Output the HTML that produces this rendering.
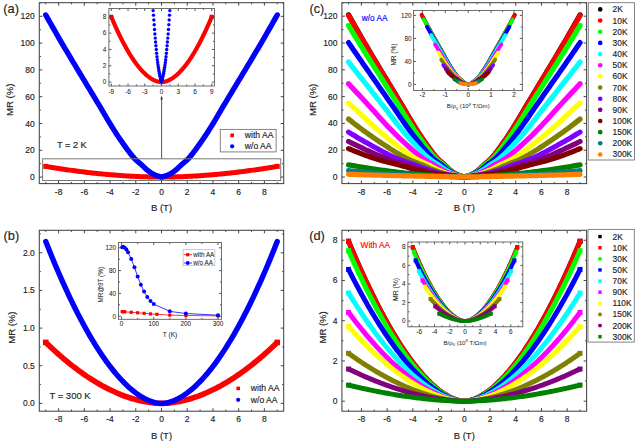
<!DOCTYPE html>
<html><head><meta charset="utf-8"><style>
html,body{margin:0;padding:0;background:#fff;}
body{width:637px;height:443px;overflow:hidden;}
svg{display:block;font-family:"Liberation Sans", sans-serif;}

</style></head><body>
<svg width="637" height="443" viewBox="0 0 637 443">
<rect width="637" height="443" fill="#fff"/>
<path d="M45.76 166.38 L47.37 166.65 L48.98 166.92 L50.58 167.19 L52.19 167.46 L53.8 167.72 L55.41 167.97 L57.01 168.23 L58.62 168.48 L60.23 168.73 L61.84 168.97 L63.44 169.21 L65.05 169.45 L66.66 169.68 L68.27 169.91 L69.87 170.14 L71.48 170.37 L73.09 170.59 L74.7 170.8 L76.3 171.02 L77.91 171.23 L79.52 171.44 L81.12 171.64 L82.73 171.84 L84.34 172.04 L85.95 172.23 L87.56 172.42 L89.16 172.61 L90.77 172.79 L92.38 172.97 L93.98 173.15 L95.59 173.32 L97.2 173.49 L98.81 173.65 L100.42 173.81 L102.02 173.97 L103.63 174.13 L105.24 174.28 L106.84 174.42 L108.45 174.57 L110.06 174.71 L111.67 174.84 L113.28 174.98 L114.88 175.11 L116.49 175.23 L118.1 175.35 L119.7 175.47 L121.31 175.59 L122.92 175.7 L124.53 175.8 L126.14 175.9 L127.74 176 L129.35 176.1 L130.96 176.19 L132.56 176.28 L134.17 176.36 L135.78 176.44 L137.39 176.51 L139 176.58 L140.6 176.65 L142.21 176.71 L143.82 176.77 L145.43 176.82 L147.03 176.87 L148.64 176.92 L150.25 176.96 L151.85 176.99 L153.46 177.02 L155.07 177.05 L156.68 177.07 L158.28 177.09 L159.89 177.1 L161.5 177.1 L163.11 177.1 L164.72 177.09 L166.32 177.07 L167.93 177.05 L169.54 177.02 L171.15 176.99 L172.75 176.96 L174.36 176.92 L175.97 176.87 L177.57 176.82 L179.18 176.77 L180.79 176.71 L182.4 176.65 L184 176.58 L185.61 176.51 L187.22 176.44 L188.83 176.36 L190.44 176.28 L192.04 176.19 L193.65 176.1 L195.26 176 L196.87 175.9 L198.47 175.8 L200.08 175.7 L201.69 175.59 L203.3 175.47 L204.9 175.35 L206.51 175.23 L208.12 175.11 L209.72 174.98 L211.33 174.84 L212.94 174.71 L214.55 174.57 L216.16 174.42 L217.76 174.28 L219.37 174.13 L220.98 173.97 L222.58 173.81 L224.19 173.65 L225.8 173.49 L227.41 173.32 L229.01 173.15 L230.62 172.97 L232.23 172.79 L233.84 172.61 L235.44 172.42 L237.05 172.23 L238.66 172.04 L240.27 171.84 L241.88 171.64 L243.48 171.44 L245.09 171.23 L246.7 171.02 L248.31 170.8 L249.91 170.59 L251.52 170.37 L253.13 170.14 L254.74 169.91 L256.34 169.68 L257.95 169.45 L259.56 169.21 L261.16 168.97 L262.77 168.73 L264.38 168.48 L265.99 168.23 L267.6 167.97 L269.2 167.72 L270.81 167.46 L272.42 167.19 L274.02 166.92 L275.63 166.65 L277.24 166.38" fill="none" stroke="#ff0000" stroke-width="5" stroke-linecap="butt" stroke-linejoin="round"/><rect x="43.26" y="163.88" width="5" height="5" fill="#ff0000"/><rect x="274.74" y="163.88" width="5" height="5" fill="#ff0000"/>
<path d="M45.76 14.96 L47.37 17.81 L48.98 20.65 L50.58 23.49 L52.19 26.32 L53.8 29.15 L55.41 31.96 L57.01 34.75 L58.62 37.54 L60.23 40.3 L61.84 43.05 L63.44 45.79 L65.05 48.52 L66.66 51.24 L68.27 53.95 L69.87 56.66 L71.48 59.35 L73.09 62.04 L74.7 64.72 L76.3 67.39 L77.91 70.07 L79.52 72.73 L81.12 75.4 L82.73 78.06 L84.34 80.72 L85.95 83.38 L87.56 86.04 L89.16 88.7 L90.77 91.36 L92.38 94.02 L93.98 96.69 L95.59 99.36 L97.2 102.04 L98.81 104.72 L100.42 107.4 L102.02 110.1 L103.63 112.81 L105.24 115.56 L106.84 118.31 L108.45 121.04 L110.06 123.73 L111.67 126.35 L113.28 128.9 L114.88 131.43 L116.49 133.92 L118.1 136.37 L119.7 138.75 L121.31 141.08 L122.92 143.34 L124.53 145.6 L126.14 147.85 L127.74 150.07 L129.35 152.22 L130.96 154.3 L132.56 156.27 L134.17 158.11 L135.78 159.81 L137.39 161.3 L139 162.66 L140.6 163.98 L142.21 165.36 L143.82 166.89 L145.43 168.47 L147.03 169.87 L148.64 171.14 L150.25 172.37 L151.85 173.43 L153.46 174.29 L155.07 175.02 L156.68 175.65 L158.28 176.19 L159.89 176.68 L161.5 177.1 L163.11 176.68 L164.72 176.19 L166.32 175.65 L167.93 175.02 L169.54 174.29 L171.15 173.43 L172.75 172.37 L174.36 171.14 L175.97 169.87 L177.57 168.47 L179.18 166.89 L180.79 165.36 L182.4 163.98 L184 162.66 L185.61 161.3 L187.22 159.81 L188.83 158.11 L190.44 156.27 L192.04 154.3 L193.65 152.22 L195.26 150.07 L196.87 147.85 L198.47 145.6 L200.08 143.34 L201.69 141.08 L203.3 138.75 L204.9 136.37 L206.51 133.92 L208.12 131.43 L209.72 128.9 L211.33 126.35 L212.94 123.73 L214.55 121.04 L216.16 118.31 L217.76 115.56 L219.37 112.81 L220.98 110.1 L222.58 107.4 L224.19 104.72 L225.8 102.04 L227.41 99.36 L229.01 96.69 L230.62 94.02 L232.23 91.36 L233.84 88.7 L235.44 86.04 L237.05 83.38 L238.66 80.72 L240.27 78.06 L241.88 75.4 L243.48 72.73 L245.09 70.07 L246.7 67.39 L248.31 64.72 L249.91 62.04 L251.52 59.35 L253.13 56.66 L254.74 53.95 L256.34 51.24 L257.95 48.52 L259.56 45.79 L261.16 43.05 L262.77 40.3 L264.38 37.54 L265.99 34.75 L267.6 31.96 L269.2 29.15 L270.81 26.32 L272.42 23.49 L274.02 20.65 L275.63 17.81 L277.24 14.96" fill="none" stroke="#0000ff" stroke-width="5.4" stroke-linecap="round" stroke-linejoin="round"/>
<rect x="42.6" y="158.8" width="238.1" height="21.7" fill="none" stroke="#777" stroke-width="1"/>
<path d="M161.6 158.8 V97" stroke="#444" stroke-width="0.9"/><path d="M161.6 95.6 L160.3 99.6 L162.9 99.6 Z" fill="#444"/>
<path d="M58.62 183.6 V180.6 M58.62 2.7 V5.7 M84.34 183.6 V180.6 M84.34 2.7 V5.7 M110.06 183.6 V180.6 M110.06 2.7 V5.7 M135.78 183.6 V180.6 M135.78 2.7 V5.7 M161.5 183.6 V180.6 M161.5 2.7 V5.7 M187.22 183.6 V180.6 M187.22 2.7 V5.7 M212.94 183.6 V180.6 M212.94 2.7 V5.7 M238.66 183.6 V180.6 M238.66 2.7 V5.7 M264.38 183.6 V180.6 M264.38 2.7 V5.7 M45.76 183.6 V182 M45.76 2.7 V4.3 M71.48 183.6 V182 M71.48 2.7 V4.3 M97.2 183.6 V182 M97.2 2.7 V4.3 M122.92 183.6 V182 M122.92 2.7 V4.3 M148.64 183.6 V182 M148.64 2.7 V4.3 M174.36 183.6 V182 M174.36 2.7 V4.3 M200.08 183.6 V182 M200.08 2.7 V4.3 M225.8 183.6 V182 M225.8 2.7 V4.3 M251.52 183.6 V182 M251.52 2.7 V4.3 M277.24 183.6 V182 M277.24 2.7 V4.3 M39.3 177.1 H42.3 M283.7 177.1 H280.7 M39.3 150.3 H42.3 M283.7 150.3 H280.7 M39.3 123.5 H42.3 M283.7 123.5 H280.7 M39.3 96.7 H42.3 M283.7 96.7 H280.7 M39.3 69.9 H42.3 M283.7 69.9 H280.7 M39.3 43.1 H42.3 M283.7 43.1 H280.7 M39.3 16.3 H42.3 M283.7 16.3 H280.7 M39.3 163.7 H40.9 M283.7 163.7 H282.1 M39.3 136.9 H40.9 M283.7 136.9 H282.1 M39.3 110.1 H40.9 M283.7 110.1 H282.1 M39.3 83.3 H40.9 M283.7 83.3 H282.1 M39.3 56.5 H40.9 M283.7 56.5 H282.1 M39.3 29.7 H40.9 M283.7 29.7 H282.1 M39.3 2.9 H40.9 M283.7 2.9 H282.1" stroke="#444" stroke-width="1" fill="none"/>
<rect x="39.3" y="2.7" width="244.4" height="180.9" fill="none" stroke="#444" stroke-width="1.05"/>
<text x="58.62" y="194.9" font-size="8.5" text-anchor="middle" fill="#222" stroke="#222" stroke-width="0.15">-8</text>
<text x="84.34" y="194.9" font-size="8.5" text-anchor="middle" fill="#222" stroke="#222" stroke-width="0.15">-6</text>
<text x="110.06" y="194.9" font-size="8.5" text-anchor="middle" fill="#222" stroke="#222" stroke-width="0.15">-4</text>
<text x="135.78" y="194.9" font-size="8.5" text-anchor="middle" fill="#222" stroke="#222" stroke-width="0.15">-2</text>
<text x="161.5" y="194.9" font-size="8.5" text-anchor="middle" fill="#222" stroke="#222" stroke-width="0.15">0</text>
<text x="187.22" y="194.9" font-size="8.5" text-anchor="middle" fill="#222" stroke="#222" stroke-width="0.15">2</text>
<text x="212.94" y="194.9" font-size="8.5" text-anchor="middle" fill="#222" stroke="#222" stroke-width="0.15">4</text>
<text x="238.66" y="194.9" font-size="8.5" text-anchor="middle" fill="#222" stroke="#222" stroke-width="0.15">6</text>
<text x="264.38" y="194.9" font-size="8.5" text-anchor="middle" fill="#222" stroke="#222" stroke-width="0.15">8</text>
<text x="34.8" y="180.1" font-size="8.5" text-anchor="end" fill="#222" stroke="#222" stroke-width="0.15">0</text>
<text x="34.8" y="153.3" font-size="8.5" text-anchor="end" fill="#222" stroke="#222" stroke-width="0.15">20</text>
<text x="34.8" y="126.5" font-size="8.5" text-anchor="end" fill="#222" stroke="#222" stroke-width="0.15">40</text>
<text x="34.8" y="99.7" font-size="8.5" text-anchor="end" fill="#222" stroke="#222" stroke-width="0.15">60</text>
<text x="34.8" y="72.9" font-size="8.5" text-anchor="end" fill="#222" stroke="#222" stroke-width="0.15">80</text>
<text x="34.8" y="46.1" font-size="8.5" text-anchor="end" fill="#222" stroke="#222" stroke-width="0.15">100</text>
<text x="34.8" y="19.3" font-size="8.5" text-anchor="end" fill="#222" stroke="#222" stroke-width="0.15">120</text>
<text x="161.5" y="211.2" font-size="9.5" text-anchor="middle" fill="#222" stroke="#222" stroke-width="0.15">B (T)</text>
<text x="13.2" y="99.8" font-size="9.5" text-anchor="middle" fill="#222" stroke="#222" stroke-width="0.15" transform="rotate(-90 13.2 99.8)">MR (%)</text>
<text x="3.3" y="13.2" font-size="12.8" text-anchor="start" fill="#222" stroke="#222" stroke-width="0.15">(a)</text>
<text x="57" y="148.1" font-size="9.2" text-anchor="start" fill="#222" stroke="#222" stroke-width="0.15">T = 2 K</text>
<rect x="220.3" y="129.4" width="55.8" height="22.5" fill="#fff" stroke="#777" stroke-width="0.9"/>
<rect x="230.3" y="133.5" width="3.7" height="3.7" fill="#ff0000"/>
<circle cx="232.1" cy="146.3" r="2.1" fill="#0000ff"/>
<text x="244.8" y="138.4" font-size="8.6" text-anchor="start" fill="#222" stroke="#222" stroke-width="0.15">with AA</text>
<text x="244.8" y="149.4" font-size="8.6" text-anchor="start" fill="#222" stroke="#222" stroke-width="0.15">w/o AA</text>
<rect x="108.9" y="8.5" width="105.5" height="77.5" fill="#fff"/>
<clipPath id="cpa"><rect x="108.9" y="8.5" width="105.5" height="77.5"/></clipPath>
<g clip-path="url(#cpa)">
<path d="M111.28 16.82 L111.84 18.16 L112.4 19.48 L112.95 20.79 L113.51 22.09 L114.07 23.37 L114.63 24.64 L115.19 25.9 L115.74 27.15 L116.3 28.38 L116.86 29.6 L117.42 30.81 L117.98 32 L118.53 33.19 L119.09 34.35 L119.65 35.51 L120.21 36.65 L120.77 37.78 L121.32 38.9 L121.88 40 L122.44 41.09 L123 42.17 L123.56 43.23 L124.11 44.28 L124.67 45.32 L125.23 46.35 L125.79 47.36 L126.35 48.35 L126.9 49.34 L127.46 50.31 L128.02 51.27 L128.58 52.21 L129.14 53.14 L129.69 54.06 L130.25 54.96 L130.81 55.85 L131.37 56.73 L131.93 57.59 L132.48 58.44 L133.04 59.27 L133.6 60.09 L134.16 60.9 L134.72 61.7 L135.27 62.47 L135.83 63.24 L136.39 63.99 L136.95 64.73 L137.51 65.45 L138.06 66.16 L138.62 66.86 L139.18 67.54 L139.74 68.2 L140.3 68.86 L140.85 69.49 L141.41 70.12 L141.97 70.72 L142.53 71.32 L143.09 71.9 L143.64 72.46 L144.2 73.01 L144.76 73.55 L145.32 74.07 L145.88 74.57 L146.43 75.06 L146.99 75.54 L147.55 76 L148.11 76.44 L148.67 76.87 L149.22 77.28 L149.78 77.68 L150.34 78.06 L150.9 78.43 L151.46 78.78 L152.01 79.11 L152.57 79.43 L153.13 79.73 L153.69 80.01 L154.25 80.28 L154.8 80.53 L155.36 80.76 L155.92 80.98 L156.48 81.18 L157.04 81.36 L157.59 81.52 L158.15 81.66 L158.71 81.79 L159.27 81.89 L159.83 81.98 L160.38 82.04 L160.94 82.08 L161.5 82.1 L162.06 82.08 L162.62 82.04 L163.17 81.98 L163.73 81.89 L164.29 81.79 L164.85 81.66 L165.41 81.52 L165.96 81.36 L166.52 81.18 L167.08 80.98 L167.64 80.76 L168.2 80.53 L168.75 80.28 L169.31 80.01 L169.87 79.73 L170.43 79.43 L170.99 79.11 L171.54 78.78 L172.1 78.43 L172.66 78.06 L173.22 77.68 L173.78 77.28 L174.33 76.87 L174.89 76.44 L175.45 76 L176.01 75.54 L176.57 75.06 L177.12 74.57 L177.68 74.07 L178.24 73.55 L178.8 73.01 L179.36 72.46 L179.91 71.9 L180.47 71.32 L181.03 70.72 L181.59 70.12 L182.15 69.49 L182.7 68.86 L183.26 68.2 L183.82 67.54 L184.38 66.86 L184.94 66.16 L185.49 65.45 L186.05 64.73 L186.61 63.99 L187.17 63.24 L187.73 62.47 L188.28 61.7 L188.84 60.9 L189.4 60.09 L189.96 59.27 L190.52 58.44 L191.07 57.59 L191.63 56.73 L192.19 55.85 L192.75 54.96 L193.31 54.06 L193.86 53.14 L194.42 52.21 L194.98 51.27 L195.54 50.31 L196.1 49.34 L196.65 48.35 L197.21 47.36 L197.77 46.35 L198.33 45.32 L198.89 44.28 L199.44 43.23 L200 42.17 L200.56 41.09 L201.12 40 L201.68 38.9 L202.23 37.78 L202.79 36.65 L203.35 35.51 L203.91 34.35 L204.47 33.19 L205.02 32 L205.58 30.81 L206.14 29.6 L206.7 28.38 L207.26 27.15 L207.81 25.9 L208.37 24.64 L208.93 23.37 L209.49 22.09 L210.05 20.79 L210.6 19.48 L211.16 18.16 L211.72 16.82" fill="none" stroke="#ff0000" stroke-width="4.2" stroke-linecap="butt" stroke-linejoin="round"/><rect x="109.18" y="14.72" width="4.2" height="4.2" fill="#ff0000"/><rect x="209.62" y="14.72" width="4.2" height="4.2" fill="#ff0000"/>
<g fill="#0000ff"><circle cx="153.13" cy="10.61" r="1.7"/><circle cx="153.48" cy="15.13" r="1.7"/><circle cx="153.83" cy="19.93" r="1.7"/><circle cx="154.18" cy="24.81" r="1.7"/><circle cx="154.53" cy="29.57" r="1.7"/><circle cx="154.87" cy="33.99" r="1.7"/><circle cx="155.22" cy="38.1" r="1.7"/><circle cx="155.57" cy="42.01" r="1.7"/><circle cx="155.92" cy="45.79" r="1.7"/><circle cx="156.27" cy="49.56" r="1.7"/><circle cx="156.62" cy="53.27" r="1.7"/><circle cx="156.97" cy="56.73" r="1.7"/><circle cx="157.31" cy="59.77" r="1.7"/><circle cx="157.66" cy="62.49" r="1.7"/><circle cx="158.01" cy="64.98" r="1.7"/><circle cx="158.36" cy="67.28" r="1.7"/><circle cx="158.71" cy="69.42" r="1.7"/><circle cx="159.06" cy="71.41" r="1.7"/><circle cx="159.41" cy="73.25" r="1.7"/><circle cx="159.76" cy="74.95" r="1.7"/><circle cx="160.1" cy="76.56" r="1.7"/><circle cx="160.45" cy="78.1" r="1.7"/><circle cx="160.8" cy="79.54" r="1.7"/><circle cx="161.15" cy="80.88" r="1.7"/><circle cx="161.5" cy="82.1" r="1.7"/><circle cx="161.85" cy="80.88" r="1.7"/><circle cx="162.2" cy="79.54" r="1.7"/><circle cx="162.55" cy="78.1" r="1.7"/><circle cx="162.9" cy="76.56" r="1.7"/><circle cx="163.24" cy="74.95" r="1.7"/><circle cx="163.59" cy="73.25" r="1.7"/><circle cx="163.94" cy="71.41" r="1.7"/><circle cx="164.29" cy="69.42" r="1.7"/><circle cx="164.64" cy="67.28" r="1.7"/><circle cx="164.99" cy="64.98" r="1.7"/><circle cx="165.34" cy="62.49" r="1.7"/><circle cx="165.69" cy="59.77" r="1.7"/><circle cx="166.03" cy="56.73" r="1.7"/><circle cx="166.38" cy="53.27" r="1.7"/><circle cx="166.73" cy="49.56" r="1.7"/><circle cx="167.08" cy="45.79" r="1.7"/><circle cx="167.43" cy="42.01" r="1.7"/><circle cx="167.78" cy="38.1" r="1.7"/><circle cx="168.13" cy="33.99" r="1.7"/><circle cx="168.47" cy="29.57" r="1.7"/><circle cx="168.82" cy="24.81" r="1.7"/><circle cx="169.17" cy="19.93" r="1.7"/><circle cx="169.52" cy="15.13" r="1.7"/><circle cx="169.87" cy="10.61" r="1.7"/></g>
</g>
<path d="M111.28 86 V83.5 M111.28 8.5 V11 M128.02 86 V83.5 M128.02 8.5 V11 M144.76 86 V83.5 M144.76 8.5 V11 M161.5 86 V83.5 M161.5 8.5 V11 M178.24 86 V83.5 M178.24 8.5 V11 M194.98 86 V83.5 M194.98 8.5 V11 M211.72 86 V83.5 M211.72 8.5 V11 M119.65 86 V84.5 M119.65 8.5 V10 M136.39 86 V84.5 M136.39 8.5 V10 M153.13 86 V84.5 M153.13 8.5 V10 M169.87 86 V84.5 M169.87 8.5 V10 M186.61 86 V84.5 M186.61 8.5 V10 M203.35 86 V84.5 M203.35 8.5 V10 M108.9 82.1 H111.4 M214.4 82.1 H211.9 M108.9 65.78 H111.4 M214.4 65.78 H211.9 M108.9 49.46 H111.4 M214.4 49.46 H211.9 M108.9 33.14 H111.4 M214.4 33.14 H211.9 M108.9 16.82 H111.4 M214.4 16.82 H211.9 M108.9 73.94 H110.4 M214.4 73.94 H212.9 M108.9 57.62 H110.4 M214.4 57.62 H212.9 M108.9 41.3 H110.4 M214.4 41.3 H212.9 M108.9 24.98 H110.4 M214.4 24.98 H212.9" stroke="#444" stroke-width="0.9" fill="none"/>
<rect x="108.9" y="8.5" width="105.5" height="77.5" fill="none" stroke="#555" stroke-width="0.85"/>
<text x="111.28" y="93.9" font-size="6.4" text-anchor="middle" fill="#222" stroke="#222" stroke-width="0.05">-9</text>
<text x="128.02" y="93.9" font-size="6.4" text-anchor="middle" fill="#222" stroke="#222" stroke-width="0.05">-6</text>
<text x="144.76" y="93.9" font-size="6.4" text-anchor="middle" fill="#222" stroke="#222" stroke-width="0.05">-3</text>
<text x="161.5" y="93.9" font-size="6.4" text-anchor="middle" fill="#222" stroke="#222" stroke-width="0.05">0</text>
<text x="178.24" y="93.9" font-size="6.4" text-anchor="middle" fill="#222" stroke="#222" stroke-width="0.05">3</text>
<text x="194.98" y="93.9" font-size="6.4" text-anchor="middle" fill="#222" stroke="#222" stroke-width="0.05">6</text>
<text x="211.72" y="93.9" font-size="6.4" text-anchor="middle" fill="#222" stroke="#222" stroke-width="0.05">9</text>
<text x="106.2" y="84.4" font-size="6.4" text-anchor="end" fill="#222" stroke="#222" stroke-width="0.05">0</text>
<text x="106.2" y="68.08" font-size="6.4" text-anchor="end" fill="#222" stroke="#222" stroke-width="0.05">2</text>
<text x="106.2" y="51.76" font-size="6.4" text-anchor="end" fill="#222" stroke="#222" stroke-width="0.05">4</text>
<text x="106.2" y="35.44" font-size="6.4" text-anchor="end" fill="#222" stroke="#222" stroke-width="0.05">6</text>
<text x="106.2" y="19.12" font-size="6.4" text-anchor="end" fill="#222" stroke="#222" stroke-width="0.05">8</text>
<path d="M45.76 342.41 L47.37 343.96 L48.98 345.5 L50.58 347.03 L52.19 348.53 L53.8 350.01 L55.41 351.48 L57.01 352.92 L58.62 354.35 L60.23 355.76 L61.84 357.15 L63.44 358.52 L65.05 359.87 L66.66 361.2 L68.27 362.52 L69.87 363.81 L71.48 365.09 L73.09 366.34 L74.7 367.58 L76.3 368.8 L77.91 369.99 L79.52 371.17 L81.12 372.33 L82.73 373.47 L84.34 374.59 L85.95 375.69 L87.56 376.77 L89.16 377.83 L90.77 378.88 L92.38 379.9 L93.98 380.9 L95.59 381.88 L97.2 382.84 L98.81 383.78 L100.42 384.7 L102.02 385.6 L103.63 386.48 L105.24 387.34 L106.84 388.18 L108.45 389 L110.06 389.79 L111.67 390.57 L113.28 391.32 L114.88 392.06 L116.49 392.77 L118.1 393.46 L119.7 394.13 L121.31 394.78 L122.92 395.41 L124.53 396.01 L126.14 396.6 L127.74 397.16 L129.35 397.7 L130.96 398.21 L132.56 398.71 L134.17 399.18 L135.78 399.63 L137.39 400.05 L139 400.45 L140.6 400.83 L142.21 401.18 L143.82 401.51 L145.43 401.82 L147.03 402.1 L148.64 402.35 L150.25 402.58 L151.85 402.79 L153.46 402.96 L155.07 403.11 L156.68 403.23 L158.28 403.32 L159.89 403.38 L161.5 403.4 L163.11 403.38 L164.72 403.32 L166.32 403.23 L167.93 403.11 L169.54 402.96 L171.15 402.79 L172.75 402.58 L174.36 402.35 L175.97 402.1 L177.57 401.82 L179.18 401.51 L180.79 401.18 L182.4 400.83 L184 400.45 L185.61 400.05 L187.22 399.63 L188.83 399.18 L190.44 398.71 L192.04 398.21 L193.65 397.7 L195.26 397.16 L196.87 396.6 L198.47 396.01 L200.08 395.41 L201.69 394.78 L203.3 394.13 L204.9 393.46 L206.51 392.77 L208.12 392.06 L209.72 391.32 L211.33 390.57 L212.94 389.79 L214.55 389 L216.16 388.18 L217.76 387.34 L219.37 386.48 L220.98 385.6 L222.58 384.7 L224.19 383.78 L225.8 382.84 L227.41 381.88 L229.01 380.9 L230.62 379.9 L232.23 378.88 L233.84 377.83 L235.44 376.77 L237.05 375.69 L238.66 374.59 L240.27 373.47 L241.88 372.33 L243.48 371.17 L245.09 369.99 L246.7 368.8 L248.31 367.58 L249.91 366.34 L251.52 365.09 L253.13 363.81 L254.74 362.52 L256.34 361.2 L257.95 359.87 L259.56 358.52 L261.16 357.15 L262.77 355.76 L264.38 354.35 L265.99 352.92 L267.6 351.48 L269.2 350.01 L270.81 348.53 L272.42 347.03 L274.02 345.5 L275.63 343.96 L277.24 342.41" fill="none" stroke="#ff0000" stroke-width="5.6" stroke-linecap="butt" stroke-linejoin="round"/><rect x="42.96" y="339.61" width="5.6" height="5.6" fill="#ff0000"/><rect x="274.44" y="339.61" width="5.6" height="5.6" fill="#ff0000"/>
<path d="M45.76 241.5 L47.37 245.57 L48.98 249.6 L50.58 253.57 L52.19 257.5 L53.8 261.38 L55.41 265.22 L57.01 269 L58.62 272.74 L60.23 276.43 L61.84 280.08 L63.44 283.67 L65.05 287.22 L66.66 290.72 L68.27 294.17 L69.87 297.58 L71.48 300.93 L73.09 304.24 L74.7 307.49 L76.3 310.7 L77.91 313.86 L79.52 316.97 L81.12 320.03 L82.73 323.04 L84.34 326 L85.95 328.91 L87.56 331.77 L89.16 334.58 L90.77 337.33 L92.38 340.04 L93.98 342.7 L95.59 345.3 L97.2 347.86 L98.81 350.36 L100.42 352.81 L102.02 355.2 L103.63 357.55 L105.24 359.84 L106.84 362.08 L108.45 364.26 L110.06 366.39 L111.67 368.47 L113.28 370.5 L114.88 372.46 L116.49 374.38 L118.1 376.24 L119.7 378.04 L121.31 379.79 L122.92 381.48 L124.53 383.11 L126.14 384.69 L127.74 386.21 L129.35 387.67 L130.96 389.07 L132.56 390.41 L134.17 391.7 L135.78 392.92 L137.39 394.08 L139 395.18 L140.6 396.22 L142.21 397.19 L143.82 398.1 L145.43 398.94 L147.03 399.72 L148.64 400.43 L150.25 401.07 L151.85 401.64 L153.46 402.14 L155.07 402.56 L156.68 402.9 L158.28 403.16 L159.89 403.33 L161.5 403.4 L163.11 403.33 L164.72 403.16 L166.32 402.9 L167.93 402.56 L169.54 402.14 L171.15 401.64 L172.75 401.07 L174.36 400.43 L175.97 399.72 L177.57 398.94 L179.18 398.1 L180.79 397.19 L182.4 396.22 L184 395.18 L185.61 394.08 L187.22 392.92 L188.83 391.7 L190.44 390.41 L192.04 389.07 L193.65 387.67 L195.26 386.21 L196.87 384.69 L198.47 383.11 L200.08 381.48 L201.69 379.79 L203.3 378.04 L204.9 376.24 L206.51 374.38 L208.12 372.46 L209.72 370.5 L211.33 368.47 L212.94 366.39 L214.55 364.26 L216.16 362.08 L217.76 359.84 L219.37 357.55 L220.98 355.2 L222.58 352.81 L224.19 350.36 L225.8 347.86 L227.41 345.3 L229.01 342.7 L230.62 340.04 L232.23 337.33 L233.84 334.58 L235.44 331.77 L237.05 328.91 L238.66 326 L240.27 323.04 L241.88 320.03 L243.48 316.97 L245.09 313.86 L246.7 310.7 L248.31 307.49 L249.91 304.24 L251.52 300.93 L253.13 297.58 L254.74 294.17 L256.34 290.72 L257.95 287.22 L259.56 283.67 L261.16 280.08 L262.77 276.43 L264.38 272.74 L265.99 269 L267.6 265.22 L269.2 261.38 L270.81 257.5 L272.42 253.57 L274.02 249.6 L275.63 245.57 L277.24 241.5" fill="none" stroke="#0000ff" stroke-width="5.4" stroke-linecap="round" stroke-linejoin="round"/>
<path d="M58.62 411.2 V408.2 M58.62 230.3 V233.3 M84.34 411.2 V408.2 M84.34 230.3 V233.3 M110.06 411.2 V408.2 M110.06 230.3 V233.3 M135.78 411.2 V408.2 M135.78 230.3 V233.3 M161.5 411.2 V408.2 M161.5 230.3 V233.3 M187.22 411.2 V408.2 M187.22 230.3 V233.3 M212.94 411.2 V408.2 M212.94 230.3 V233.3 M238.66 411.2 V408.2 M238.66 230.3 V233.3 M264.38 411.2 V408.2 M264.38 230.3 V233.3 M45.76 411.2 V409.6 M45.76 230.3 V231.9 M71.48 411.2 V409.6 M71.48 230.3 V231.9 M97.2 411.2 V409.6 M97.2 230.3 V231.9 M122.92 411.2 V409.6 M122.92 230.3 V231.9 M148.64 411.2 V409.6 M148.64 230.3 V231.9 M174.36 411.2 V409.6 M174.36 230.3 V231.9 M200.08 411.2 V409.6 M200.08 230.3 V231.9 M225.8 411.2 V409.6 M225.8 230.3 V231.9 M251.52 411.2 V409.6 M251.52 230.3 V231.9 M277.24 411.2 V409.6 M277.24 230.3 V231.9 M39.3 403.4 H42.3 M283.7 403.4 H280.7 M39.3 365.75 H42.3 M283.7 365.75 H280.7 M39.3 328.1 H42.3 M283.7 328.1 H280.7 M39.3 290.45 H42.3 M283.7 290.45 H280.7 M39.3 252.8 H42.3 M283.7 252.8 H280.7 M39.3 384.57 H40.9 M283.7 384.57 H282.1 M39.3 346.92 H40.9 M283.7 346.92 H282.1 M39.3 309.27 H40.9 M283.7 309.27 H282.1 M39.3 271.62 H40.9 M283.7 271.62 H282.1 M39.3 233.97 H40.9 M283.7 233.97 H282.1" stroke="#444" stroke-width="1" fill="none"/>
<rect x="39.3" y="230.3" width="244.4" height="180.9" fill="none" stroke="#444" stroke-width="1.05"/>
<text x="58.62" y="422.3" font-size="8.5" text-anchor="middle" fill="#222" stroke="#222" stroke-width="0.15">-8</text>
<text x="84.34" y="422.3" font-size="8.5" text-anchor="middle" fill="#222" stroke="#222" stroke-width="0.15">-6</text>
<text x="110.06" y="422.3" font-size="8.5" text-anchor="middle" fill="#222" stroke="#222" stroke-width="0.15">-4</text>
<text x="135.78" y="422.3" font-size="8.5" text-anchor="middle" fill="#222" stroke="#222" stroke-width="0.15">-2</text>
<text x="161.5" y="422.3" font-size="8.5" text-anchor="middle" fill="#222" stroke="#222" stroke-width="0.15">0</text>
<text x="187.22" y="422.3" font-size="8.5" text-anchor="middle" fill="#222" stroke="#222" stroke-width="0.15">2</text>
<text x="212.94" y="422.3" font-size="8.5" text-anchor="middle" fill="#222" stroke="#222" stroke-width="0.15">4</text>
<text x="238.66" y="422.3" font-size="8.5" text-anchor="middle" fill="#222" stroke="#222" stroke-width="0.15">6</text>
<text x="264.38" y="422.3" font-size="8.5" text-anchor="middle" fill="#222" stroke="#222" stroke-width="0.15">8</text>
<text x="34.8" y="406.4" font-size="8.5" text-anchor="end" fill="#222" stroke="#222" stroke-width="0.15">0.0</text>
<text x="34.8" y="368.75" font-size="8.5" text-anchor="end" fill="#222" stroke="#222" stroke-width="0.15">0.5</text>
<text x="34.8" y="331.1" font-size="8.5" text-anchor="end" fill="#222" stroke="#222" stroke-width="0.15">1.0</text>
<text x="34.8" y="293.45" font-size="8.5" text-anchor="end" fill="#222" stroke="#222" stroke-width="0.15">1.5</text>
<text x="34.8" y="255.8" font-size="8.5" text-anchor="end" fill="#222" stroke="#222" stroke-width="0.15">2.0</text>
<text x="161.5" y="438.6" font-size="9.5" text-anchor="middle" fill="#222" stroke="#222" stroke-width="0.15">B (T)</text>
<text x="14.7" y="327.6" font-size="9.5" text-anchor="middle" fill="#222" stroke="#222" stroke-width="0.15" transform="rotate(-90 14.7 327.6)">MR (%)</text>
<text x="3.6" y="240.3" font-size="12.8" text-anchor="start" fill="#222" stroke="#222" stroke-width="0.15">(b)</text>
<text x="49.4" y="398.6" font-size="9.5" text-anchor="start" fill="#222" stroke="#222" stroke-width="0.15">T = 300 K</text>
<rect x="236.4" y="386.6" width="3.6" height="3.6" fill="#ff0000"/>
<circle cx="238.2" cy="399.8" r="2.1" fill="#0000ff"/>
<text x="250.8" y="391.4" font-size="8.6" text-anchor="start" fill="#222" stroke="#222" stroke-width="0.15">with AA</text>
<text x="250.8" y="402.8" font-size="8.6" text-anchor="start" fill="#222" stroke="#222" stroke-width="0.15">w/o AA</text>
<rect x="118.5" y="242.5" width="103" height="76.8" fill="#fff"/>
<path d="M122.24 311.64 L123.21 311.7 L124.81 311.87 L131.24 312.32 L137.66 312.78 L144.09 313.35 L150.52 313.92 L156.94 314.32 L169.79 315.12 L185.86 315.52 L217.99 315.86" fill="none" stroke="#ff0000" stroke-width="0.8" stroke-linecap="round" stroke-linejoin="round"/>
<rect x="120.64" y="310.04" width="3.2" height="3.2" fill="#ff0000"/><rect x="121.61" y="310.1" width="3.2" height="3.2" fill="#ff0000"/><rect x="123.21" y="310.27" width="3.2" height="3.2" fill="#ff0000"/><rect x="129.64" y="310.72" width="3.2" height="3.2" fill="#ff0000"/><rect x="136.06" y="311.18" width="3.2" height="3.2" fill="#ff0000"/><rect x="142.49" y="311.75" width="3.2" height="3.2" fill="#ff0000"/><rect x="148.92" y="312.32" width="3.2" height="3.2" fill="#ff0000"/><rect x="155.34" y="312.72" width="3.2" height="3.2" fill="#ff0000"/><rect x="168.19" y="313.52" width="3.2" height="3.2" fill="#ff0000"/><rect x="184.26" y="313.92" width="3.2" height="3.2" fill="#ff0000"/><rect x="216.39" y="314.26" width="3.2" height="3.2" fill="#ff0000"/>
<path d="M122.24 247.23 L123.21 246.66 L124.81 247.8 L126.42 249.51 L128.03 252.36 L131.24 259.03 L134.45 267.29 L137.66 276.53 L140.88 284.74 L144.09 291.58 L147.3 297.11 L150.52 301.09 L153.73 304.12 L169.79 311.35 L185.86 313.52 L217.99 315.17" fill="none" stroke="#0000ff" stroke-width="0.8" stroke-linecap="round" stroke-linejoin="round"/>
<circle cx="122.24" cy="247.23" r="2.0" fill="#0000ff"/><circle cx="123.21" cy="246.66" r="2.0" fill="#0000ff"/><circle cx="124.81" cy="247.8" r="2.0" fill="#0000ff"/><circle cx="126.42" cy="249.51" r="2.0" fill="#0000ff"/><circle cx="128.03" cy="252.36" r="2.0" fill="#0000ff"/><circle cx="131.24" cy="259.03" r="2.0" fill="#0000ff"/><circle cx="134.45" cy="267.29" r="2.0" fill="#0000ff"/><circle cx="137.66" cy="276.53" r="2.0" fill="#0000ff"/><circle cx="140.88" cy="284.74" r="2.0" fill="#0000ff"/><circle cx="144.09" cy="291.58" r="2.0" fill="#0000ff"/><circle cx="147.3" cy="297.11" r="2.0" fill="#0000ff"/><circle cx="150.52" cy="301.09" r="2.0" fill="#0000ff"/><circle cx="153.73" cy="304.12" r="2.0" fill="#0000ff"/><circle cx="169.79" cy="311.35" r="2.0" fill="#0000ff"/><circle cx="185.86" cy="313.52" r="2.0" fill="#0000ff"/><circle cx="217.99" cy="315.17" r="2.0" fill="#0000ff"/>
<path d="M121.6 319.3 V316.8 M121.6 242.5 V245 M153.73 319.3 V316.8 M153.73 242.5 V245 M185.86 319.3 V316.8 M185.86 242.5 V245 M217.99 319.3 V316.8 M217.99 242.5 V245 M137.66 319.3 V317.8 M137.66 242.5 V244 M169.79 319.3 V317.8 M169.79 242.5 V244 M201.92 319.3 V317.8 M201.92 242.5 V244 M118.5 316.2 H121 M221.5 316.2 H219 M118.5 293.4 H121 M221.5 293.4 H219 M118.5 270.6 H121 M221.5 270.6 H219 M118.5 247.8 H121 M221.5 247.8 H219 M118.5 304.8 H120 M221.5 304.8 H220 M118.5 282 H120 M221.5 282 H220 M118.5 259.2 H120 M221.5 259.2 H220" stroke="#444" stroke-width="0.9" fill="none"/>
<rect x="118.5" y="242.5" width="103" height="76.8" fill="none" stroke="#555" stroke-width="0.85"/>
<text x="121.6" y="326.1" font-size="6.4" text-anchor="middle" fill="#222" stroke="#222" stroke-width="0.05">0</text>
<text x="153.73" y="326.1" font-size="6.4" text-anchor="middle" fill="#222" stroke="#222" stroke-width="0.05">100</text>
<text x="185.86" y="326.1" font-size="6.4" text-anchor="middle" fill="#222" stroke="#222" stroke-width="0.05">200</text>
<text x="217.99" y="326.1" font-size="6.4" text-anchor="middle" fill="#222" stroke="#222" stroke-width="0.05">300</text>
<text x="116.1" y="318.5" font-size="6.4" text-anchor="end" fill="#222" stroke="#222" stroke-width="0.05">0</text>
<text x="116.1" y="295.7" font-size="6.4" text-anchor="end" fill="#222" stroke="#222" stroke-width="0.05">40</text>
<text x="116.1" y="272.9" font-size="6.4" text-anchor="end" fill="#222" stroke="#222" stroke-width="0.05">80</text>
<text x="116.1" y="250.1" font-size="6.4" text-anchor="end" fill="#222" stroke="#222" stroke-width="0.05">120</text>
<text x="170" y="337.2" font-size="6.5" text-anchor="middle" fill="#222" stroke="#222" stroke-width="0.05">T (K)</text>
<text x="103.3" y="284.7" font-size="6.4" text-anchor="middle" fill="#222" stroke="#222" stroke-width="0.05" transform="rotate(-90 103.3 284.7)">MR@9T (%)</text>
<rect x="183.1" y="249.7" width="31.8" height="16" fill="#fff" stroke="#aaa" stroke-width="0.6"/>
<path d="M183.8 254.7 H192" stroke="#ff0000" stroke-width="0.8"/>
<rect x="186.1" y="253.1" width="3.2" height="3.2" fill="#ff0000"/>
<path d="M183.8 263 H192" stroke="#0000ff" stroke-width="0.8"/>
<circle cx="187.7" cy="263" r="1.9" fill="#0000ff"/>
<text x="193.2" y="256.6" font-size="6.35" text-anchor="start" fill="#222" stroke="#222" stroke-width="0.05">with AA</text>
<text x="193.2" y="264.9" font-size="6.35" text-anchor="start" fill="#222" stroke="#222" stroke-width="0.05">w/o AA</text>
<path d="M348.56 14.86 L350.17 17.71 L351.78 20.55 L353.38 23.39 L354.99 26.22 L356.6 29.05 L358.21 31.86 L359.81 34.65 L361.42 37.44 L363.03 40.2 L364.63 42.95 L366.24 45.69 L367.85 48.42 L369.46 51.14 L371.06 53.85 L372.67 56.56 L374.28 59.25 L375.89 61.94 L377.5 64.62 L379.1 67.29 L380.71 69.97 L382.32 72.63 L383.93 75.3 L385.53 77.96 L387.14 80.62 L388.75 83.28 L390.36 85.94 L391.96 88.6 L393.57 91.26 L395.18 93.92 L396.79 96.59 L398.39 99.26 L400 101.94 L401.61 104.62 L403.22 107.3 L404.82 110 L406.43 112.71 L408.04 115.46 L409.64 118.21 L411.25 120.94 L412.86 123.63 L414.47 126.25 L416.08 128.8 L417.68 131.33 L419.29 133.82 L420.9 136.27 L422.5 138.65 L424.11 140.98 L425.72 143.24 L427.33 145.5 L428.94 147.75 L430.54 149.97 L432.15 152.12 L433.76 154.2 L435.37 156.17 L436.97 158.01 L438.58 159.71 L440.19 161.2 L441.8 162.56 L443.4 163.88 L445.01 165.26 L446.62 166.79 L448.23 168.37 L449.83 169.77 L451.44 171.04 L453.05 172.27 L454.66 173.33 L456.26 174.19 L457.87 174.92 L459.48 175.55 L461.09 176.09 L462.69 176.58 L464.3 177 L465.91 176.58 L467.51 176.09 L469.12 175.55 L470.73 174.92 L472.34 174.19 L473.94 173.33 L475.55 172.27 L477.16 171.04 L478.77 169.77 L480.38 168.37 L481.98 166.79 L483.59 165.26 L485.2 163.88 L486.81 162.56 L488.41 161.2 L490.02 159.71 L491.63 158.01 L493.24 156.17 L494.84 154.2 L496.45 152.12 L498.06 149.97 L499.67 147.75 L501.27 145.5 L502.88 143.24 L504.49 140.98 L506.1 138.65 L507.7 136.27 L509.31 133.82 L510.92 131.33 L512.52 128.8 L514.13 126.25 L515.74 123.63 L517.35 120.94 L518.96 118.21 L520.56 115.46 L522.17 112.71 L523.78 110 L525.38 107.3 L526.99 104.62 L528.6 101.94 L530.21 99.26 L531.82 96.59 L533.42 93.92 L535.03 91.26 L536.64 88.6 L538.25 85.94 L539.85 83.28 L541.46 80.62 L543.07 77.96 L544.67 75.3 L546.28 72.63 L547.89 69.97 L549.5 67.29 L551.11 64.62 L552.71 61.94 L554.32 59.25 L555.93 56.56 L557.53 53.85 L559.14 51.14 L560.75 48.42 L562.36 45.69 L563.97 42.95 L565.57 40.2 L567.18 37.44 L568.79 34.65 L570.39 31.86 L572 29.05 L573.61 26.22 L575.22 23.39 L576.83 20.55 L578.43 17.71 L580.04 14.86" fill="none" stroke="#000000" stroke-width="5.2" stroke-linecap="round" stroke-linejoin="round"/>
<path d="M348.56 15.4 L350.17 18.24 L351.78 21.07 L353.38 23.9 L354.99 26.73 L356.6 29.54 L358.21 32.34 L359.81 35.13 L361.42 37.9 L363.03 40.66 L364.63 43.4 L366.24 46.13 L367.85 48.85 L369.46 51.56 L371.06 54.26 L372.67 56.96 L374.28 59.64 L375.89 62.32 L377.5 65 L379.1 67.66 L380.71 70.33 L382.32 72.99 L383.93 75.64 L385.53 78.3 L387.14 80.95 L388.75 83.61 L390.36 86.26 L391.96 88.91 L393.57 91.57 L395.18 94.22 L396.79 96.88 L398.39 99.55 L400 102.22 L401.61 104.89 L403.22 107.57 L404.82 110.26 L406.43 112.97 L408.04 115.71 L409.64 118.45 L411.25 121.17 L412.86 123.85 L414.47 126.45 L416.08 129 L417.68 131.52 L419.29 134 L420.9 136.44 L422.5 138.81 L424.11 141.13 L425.72 143.38 L427.33 145.64 L428.94 147.88 L430.54 150.09 L432.15 152.23 L433.76 154.3 L435.37 156.26 L436.97 158.09 L438.58 159.77 L440.19 161.26 L441.8 162.61 L443.4 163.93 L445.01 165.3 L446.62 166.84 L448.23 168.41 L449.83 169.8 L451.44 171.06 L453.05 172.29 L454.66 173.35 L456.26 174.2 L457.87 174.92 L459.48 175.55 L461.09 176.09 L462.69 176.58 L464.3 177 L465.91 176.58 L467.51 176.09 L469.12 175.55 L470.73 174.92 L472.34 174.2 L473.94 173.35 L475.55 172.29 L477.16 171.06 L478.77 169.8 L480.38 168.41 L481.98 166.84 L483.59 165.3 L485.2 163.93 L486.81 162.61 L488.41 161.26 L490.02 159.77 L491.63 158.09 L493.24 156.26 L494.84 154.3 L496.45 152.23 L498.06 150.09 L499.67 147.88 L501.27 145.64 L502.88 143.38 L504.49 141.13 L506.1 138.81 L507.7 136.44 L509.31 134 L510.92 131.52 L512.52 129 L514.13 126.45 L515.74 123.85 L517.35 121.17 L518.96 118.45 L520.56 115.71 L522.17 112.97 L523.78 110.26 L525.38 107.57 L526.99 104.89 L528.6 102.22 L530.21 99.55 L531.82 96.88 L533.42 94.22 L535.03 91.57 L536.64 88.91 L538.25 86.26 L539.85 83.61 L541.46 80.95 L543.07 78.3 L544.67 75.64 L546.28 72.99 L547.89 70.33 L549.5 67.66 L551.11 65 L552.71 62.32 L554.32 59.64 L555.93 56.96 L557.53 54.26 L559.14 51.56 L560.75 48.85 L562.36 46.13 L563.97 43.4 L565.57 40.66 L567.18 37.9 L568.79 35.13 L570.39 32.34 L572 29.54 L573.61 26.73 L575.22 23.9 L576.83 21.07 L578.43 18.24 L580.04 15.4" fill="none" stroke="#ff0000" stroke-width="5.2" stroke-linecap="round" stroke-linejoin="round"/>
<path d="M348.56 25.58 L350.17 28.26 L351.78 30.92 L353.38 33.58 L354.99 36.22 L356.6 38.85 L358.21 41.46 L359.81 44.07 L361.42 46.66 L363.03 49.24 L364.63 51.82 L366.24 54.38 L367.85 56.94 L369.46 59.5 L371.06 62.04 L372.67 64.58 L374.28 67.12 L375.89 69.65 L377.5 72.18 L379.1 74.7 L380.71 77.23 L382.32 79.75 L383.93 82.27 L385.53 84.79 L387.14 87.31 L388.75 89.83 L390.36 92.35 L391.96 94.88 L393.57 97.41 L395.18 99.94 L396.79 102.47 L398.39 105.01 L400 107.56 L401.61 110.11 L403.22 112.69 L404.82 115.29 L406.43 117.89 L408.04 120.49 L409.64 123.05 L411.25 125.54 L412.86 127.98 L414.47 130.39 L416.08 132.76 L417.68 135.1 L419.29 137.39 L420.9 139.63 L422.5 141.8 L424.11 143.94 L425.72 146.08 L427.33 148.21 L428.94 150.3 L430.54 152.33 L432.15 154.29 L433.76 156.16 L435.37 157.91 L436.97 159.53 L438.58 160.97 L440.19 162.28 L441.8 163.53 L443.4 164.81 L445.01 166.2 L446.62 167.71 L448.23 169.13 L449.83 170.38 L451.44 171.56 L453.05 172.69 L454.66 173.62 L456.26 174.39 L457.87 175.06 L459.48 175.64 L461.09 176.14 L462.69 176.6 L464.3 177 L465.91 176.6 L467.51 176.14 L469.12 175.64 L470.73 175.06 L472.34 174.39 L473.94 173.62 L475.55 172.69 L477.16 171.56 L478.77 170.38 L480.38 169.13 L481.98 167.71 L483.59 166.2 L485.2 164.81 L486.81 163.53 L488.41 162.28 L490.02 160.97 L491.63 159.53 L493.24 157.91 L494.84 156.16 L496.45 154.29 L498.06 152.33 L499.67 150.3 L501.27 148.21 L502.88 146.08 L504.49 143.94 L506.1 141.8 L507.7 139.63 L509.31 137.39 L510.92 135.1 L512.52 132.76 L514.13 130.39 L515.74 127.98 L517.35 125.54 L518.96 123.05 L520.56 120.49 L522.17 117.89 L523.78 115.29 L525.38 112.69 L526.99 110.11 L528.6 107.56 L530.21 105.01 L531.82 102.47 L533.42 99.94 L535.03 97.41 L536.64 94.88 L538.25 92.35 L539.85 89.83 L541.46 87.31 L543.07 84.79 L544.67 82.27 L546.28 79.75 L547.89 77.23 L549.5 74.7 L551.11 72.18 L552.71 69.65 L554.32 67.12 L555.93 64.58 L557.53 62.04 L559.14 59.5 L560.75 56.94 L562.36 54.38 L563.97 51.82 L565.57 49.24 L567.18 46.66 L568.79 44.07 L570.39 41.46 L572 38.85 L573.61 36.22 L575.22 33.58 L576.83 30.92 L578.43 28.26 L580.04 25.58" fill="none" stroke="#00ff00" stroke-width="5.2" stroke-linecap="round" stroke-linejoin="round"/>
<path d="M348.56 42.6 L350.17 44.96 L351.78 47.32 L353.38 49.67 L354.99 52.02 L356.6 54.35 L358.21 56.69 L359.81 59.01 L361.42 61.33 L363.03 63.65 L364.63 65.96 L366.24 68.26 L367.85 70.57 L369.46 72.87 L371.06 75.17 L372.67 77.46 L374.28 79.76 L375.89 82.06 L377.5 84.35 L379.1 86.64 L380.71 88.94 L382.32 91.24 L383.93 93.54 L385.53 95.84 L387.14 98.14 L388.75 100.45 L390.36 102.76 L391.96 105.07 L393.57 107.39 L395.18 109.71 L396.79 112.05 L398.39 114.41 L400 116.79 L401.61 119.16 L403.22 121.51 L404.82 123.82 L406.43 126.08 L408.04 128.29 L409.64 130.48 L411.25 132.64 L412.86 134.77 L414.47 136.87 L416.08 138.92 L417.68 140.92 L419.29 142.88 L420.9 144.83 L422.5 146.78 L424.11 148.7 L425.72 150.6 L427.33 152.44 L428.94 154.23 L430.54 155.93 L432.15 157.55 L433.76 159.06 L435.37 160.43 L436.97 161.66 L438.58 162.82 L440.19 163.96 L441.8 165.14 L443.4 166.44 L445.01 167.82 L446.62 169.11 L448.23 170.25 L449.83 171.33 L451.44 172.38 L453.05 173.3 L454.66 174.05 L456.26 174.7 L457.87 175.27 L459.48 175.78 L461.09 176.23 L462.69 176.64 L464.3 177 L465.91 176.64 L467.51 176.23 L469.12 175.78 L470.73 175.27 L472.34 174.7 L473.94 174.05 L475.55 173.3 L477.16 172.38 L478.77 171.33 L480.38 170.25 L481.98 169.11 L483.59 167.82 L485.2 166.44 L486.81 165.14 L488.41 163.96 L490.02 162.82 L491.63 161.66 L493.24 160.43 L494.84 159.06 L496.45 157.55 L498.06 155.93 L499.67 154.23 L501.27 152.44 L502.88 150.6 L504.49 148.7 L506.1 146.78 L507.7 144.83 L509.31 142.88 L510.92 140.92 L512.52 138.92 L514.13 136.87 L515.74 134.77 L517.35 132.64 L518.96 130.48 L520.56 128.29 L522.17 126.08 L523.78 123.82 L525.38 121.51 L526.99 119.16 L528.6 116.79 L530.21 114.41 L531.82 112.05 L533.42 109.71 L535.03 107.39 L536.64 105.07 L538.25 102.76 L539.85 100.45 L541.46 98.14 L543.07 95.84 L544.67 93.54 L546.28 91.24 L547.89 88.94 L549.5 86.64 L551.11 84.35 L552.71 82.06 L554.32 79.76 L555.93 77.46 L557.53 75.17 L559.14 72.87 L560.75 70.57 L562.36 68.26 L563.97 65.96 L565.57 63.65 L567.18 61.33 L568.79 59.01 L570.39 56.69 L572 54.35 L573.61 52.02 L575.22 49.67 L576.83 47.32 L578.43 44.96 L580.04 42.6" fill="none" stroke="#0000ff" stroke-width="5.2" stroke-linecap="round" stroke-linejoin="round"/>
<path d="M348.56 62.03 L350.17 64.08 L351.78 66.12 L353.38 68.16 L354.99 70.2 L356.6 72.24 L358.21 74.27 L359.81 76.3 L361.42 78.33 L363.03 80.36 L364.63 82.4 L366.24 84.43 L367.85 86.46 L369.46 88.49 L371.06 90.52 L372.67 92.55 L374.28 94.59 L375.89 96.62 L377.5 98.66 L379.1 100.7 L380.71 102.74 L382.32 104.79 L383.93 106.84 L385.53 108.9 L387.14 110.96 L388.75 113.04 L390.36 115.13 L391.96 117.23 L393.57 119.33 L395.18 121.41 L396.79 123.46 L398.39 125.47 L400 127.43 L401.61 129.38 L403.22 131.31 L404.82 133.21 L406.43 135.09 L408.04 136.94 L409.64 138.76 L411.25 140.54 L412.86 142.27 L414.47 144 L416.08 145.72 L417.68 147.44 L419.29 149.14 L420.9 150.81 L422.5 152.44 L424.11 154.02 L425.72 155.54 L427.33 157 L428.94 158.37 L430.54 159.65 L432.15 160.82 L433.76 161.89 L435.37 162.9 L436.97 163.91 L438.58 164.95 L440.19 166.08 L441.8 167.29 L443.4 168.49 L445.01 169.56 L446.62 170.54 L448.23 171.49 L449.83 172.42 L451.44 173.23 L453.05 173.91 L454.66 174.51 L456.26 175.04 L457.87 175.52 L459.48 175.94 L461.09 176.33 L462.69 176.69 L464.3 177 L465.91 176.69 L467.51 176.33 L469.12 175.94 L470.73 175.52 L472.34 175.04 L473.94 174.51 L475.55 173.91 L477.16 173.23 L478.77 172.42 L480.38 171.49 L481.98 170.54 L483.59 169.56 L485.2 168.49 L486.81 167.29 L488.41 166.08 L490.02 164.95 L491.63 163.91 L493.24 162.9 L494.84 161.89 L496.45 160.82 L498.06 159.65 L499.67 158.37 L501.27 157 L502.88 155.54 L504.49 154.02 L506.1 152.44 L507.7 150.81 L509.31 149.14 L510.92 147.44 L512.52 145.72 L514.13 144 L515.74 142.27 L517.35 140.54 L518.96 138.76 L520.56 136.94 L522.17 135.09 L523.78 133.21 L525.38 131.31 L526.99 129.38 L528.6 127.43 L530.21 125.47 L531.82 123.46 L533.42 121.41 L535.03 119.33 L536.64 117.23 L538.25 115.13 L539.85 113.04 L541.46 110.96 L543.07 108.9 L544.67 106.84 L546.28 104.79 L547.89 102.74 L549.5 100.7 L551.11 98.66 L552.71 96.62 L554.32 94.59 L555.93 92.55 L557.53 90.52 L559.14 88.49 L560.75 86.46 L562.36 84.43 L563.97 82.4 L565.57 80.36 L567.18 78.33 L568.79 76.3 L570.39 74.27 L572 72.24 L573.61 70.2 L575.22 68.16 L576.83 66.12 L578.43 64.08 L580.04 62.03" fill="none" stroke="#00ffff" stroke-width="5.2" stroke-linecap="round" stroke-linejoin="round"/>
<path d="M348.56 83.74 L350.17 85.47 L351.78 87.2 L353.38 88.93 L354.99 90.66 L356.6 92.39 L358.21 94.12 L359.81 95.86 L361.42 97.59 L363.03 99.33 L364.63 101.07 L366.24 102.81 L367.85 104.55 L369.46 106.3 L371.06 108.05 L372.67 109.8 L374.28 111.56 L375.89 113.34 L377.5 115.12 L379.1 116.91 L380.71 118.7 L382.32 120.48 L383.93 122.24 L385.53 123.98 L387.14 125.68 L388.75 127.35 L390.36 129.01 L391.96 130.66 L393.57 132.29 L395.18 133.9 L396.79 135.5 L398.39 137.07 L400 138.62 L401.61 140.14 L403.22 141.63 L404.82 143.1 L406.43 144.57 L408.04 146.04 L409.64 147.5 L411.25 148.95 L412.86 150.37 L414.47 151.78 L416.08 153.15 L417.68 154.48 L419.29 155.76 L420.9 156.99 L422.5 158.17 L424.11 159.28 L425.72 160.31 L427.33 161.26 L428.94 162.15 L430.54 163.01 L432.15 163.87 L433.76 164.75 L435.37 165.69 L436.97 166.7 L438.58 167.74 L440.19 168.74 L441.8 169.63 L443.4 170.47 L445.01 171.28 L446.62 172.08 L448.23 172.83 L449.83 173.47 L451.44 174.03 L453.05 174.53 L454.66 174.98 L456.26 175.4 L457.87 175.77 L459.48 176.12 L461.09 176.44 L462.69 176.74 L464.3 177 L465.91 176.74 L467.51 176.44 L469.12 176.12 L470.73 175.77 L472.34 175.4 L473.94 174.98 L475.55 174.53 L477.16 174.03 L478.77 173.47 L480.38 172.83 L481.98 172.08 L483.59 171.28 L485.2 170.47 L486.81 169.63 L488.41 168.74 L490.02 167.74 L491.63 166.7 L493.24 165.69 L494.84 164.75 L496.45 163.87 L498.06 163.01 L499.67 162.15 L501.27 161.26 L502.88 160.31 L504.49 159.28 L506.1 158.17 L507.7 156.99 L509.31 155.76 L510.92 154.48 L512.52 153.15 L514.13 151.78 L515.74 150.37 L517.35 148.95 L518.96 147.5 L520.56 146.04 L522.17 144.57 L523.78 143.1 L525.38 141.63 L526.99 140.14 L528.6 138.62 L530.21 137.07 L531.82 135.5 L533.42 133.9 L535.03 132.29 L536.64 130.66 L538.25 129.01 L539.85 127.35 L541.46 125.68 L543.07 123.98 L544.67 122.24 L546.28 120.48 L547.89 118.7 L549.5 116.91 L551.11 115.12 L552.71 113.34 L554.32 111.56 L555.93 109.8 L557.53 108.05 L559.14 106.3 L560.75 104.55 L562.36 102.81 L563.97 101.07 L565.57 99.33 L567.18 97.59 L568.79 95.86 L570.39 94.12 L572 92.39 L573.61 90.66 L575.22 88.93 L576.83 87.2 L578.43 85.47 L580.04 83.74" fill="none" stroke="#ff00ff" stroke-width="5.2" stroke-linecap="round" stroke-linejoin="round"/>
<path d="M348.56 103.03 L350.17 104.51 L351.78 105.98 L353.38 107.46 L354.99 108.94 L356.6 110.42 L358.21 111.91 L359.81 113.42 L361.42 114.93 L363.03 116.44 L364.63 117.95 L366.24 119.46 L367.85 120.96 L369.46 122.45 L371.06 123.91 L372.67 125.36 L374.28 126.78 L375.89 128.18 L377.5 129.58 L379.1 130.97 L380.71 132.35 L382.32 133.71 L383.93 135.07 L385.53 136.4 L387.14 137.72 L388.75 139.02 L390.36 140.3 L391.96 141.56 L393.57 142.8 L395.18 144.05 L396.79 145.29 L398.39 146.53 L400 147.76 L401.61 148.99 L403.22 150.19 L404.82 151.38 L406.43 152.55 L408.04 153.69 L409.64 154.81 L411.25 155.89 L412.86 156.93 L414.47 157.93 L416.08 158.89 L417.68 159.79 L419.29 160.63 L420.9 161.42 L422.5 162.17 L424.11 162.9 L425.72 163.62 L427.33 164.36 L428.94 165.12 L430.54 165.93 L432.15 166.8 L433.76 167.68 L435.37 168.53 L436.97 169.31 L438.58 170.04 L440.19 170.73 L441.8 171.41 L443.4 172.09 L445.01 172.73 L446.62 173.29 L448.23 173.78 L449.83 174.23 L451.44 174.64 L453.05 175.02 L454.66 175.37 L456.26 175.69 L457.87 175.99 L459.48 176.27 L461.09 176.53 L462.69 176.78 L464.3 177 L465.91 176.78 L467.51 176.53 L469.12 176.27 L470.73 175.99 L472.34 175.69 L473.94 175.37 L475.55 175.02 L477.16 174.64 L478.77 174.23 L480.38 173.78 L481.98 173.29 L483.59 172.73 L485.2 172.09 L486.81 171.41 L488.41 170.73 L490.02 170.04 L491.63 169.31 L493.24 168.53 L494.84 167.68 L496.45 166.8 L498.06 165.93 L499.67 165.12 L501.27 164.36 L502.88 163.62 L504.49 162.9 L506.1 162.17 L507.7 161.42 L509.31 160.63 L510.92 159.79 L512.52 158.89 L514.13 157.93 L515.74 156.93 L517.35 155.89 L518.96 154.81 L520.56 153.69 L522.17 152.55 L523.78 151.38 L525.38 150.19 L526.99 148.99 L528.6 147.76 L530.21 146.53 L531.82 145.29 L533.42 144.05 L535.03 142.8 L536.64 141.56 L538.25 140.3 L539.85 139.02 L541.46 137.72 L543.07 136.4 L544.67 135.07 L546.28 133.71 L547.89 132.35 L549.5 130.97 L551.11 129.58 L552.71 128.18 L554.32 126.78 L555.93 125.36 L557.53 123.91 L559.14 122.45 L560.75 120.96 L562.36 119.46 L563.97 117.95 L565.57 116.44 L567.18 114.93 L568.79 113.42 L570.39 111.91 L572 110.42 L573.61 108.94 L575.22 107.46 L576.83 105.98 L578.43 104.51 L580.04 103.03" fill="none" stroke="#ffff00" stroke-width="5.2" stroke-linecap="round" stroke-linejoin="round"/>
<path d="M348.56 119.11 L350.17 120.39 L351.78 121.66 L353.38 122.92 L354.99 124.16 L356.6 125.39 L358.21 126.59 L359.81 127.79 L361.42 128.98 L363.03 130.17 L364.63 131.35 L366.24 132.52 L367.85 133.68 L369.46 134.83 L371.06 135.97 L372.67 137.09 L374.28 138.21 L375.89 139.31 L377.5 140.4 L379.1 141.47 L380.71 142.53 L382.32 143.58 L383.93 144.64 L385.53 145.7 L387.14 146.75 L388.75 147.8 L390.36 148.84 L391.96 149.87 L393.57 150.89 L395.18 151.89 L396.79 152.88 L398.39 153.84 L400 154.79 L401.61 155.71 L403.22 156.6 L404.82 157.47 L406.43 158.3 L408.04 159.1 L409.64 159.86 L411.25 160.58 L412.86 161.25 L414.47 161.9 L416.08 162.52 L417.68 163.14 L419.29 163.76 L420.9 164.38 L422.5 165.03 L424.11 165.71 L425.72 166.44 L427.33 167.18 L428.94 167.93 L430.54 168.64 L432.15 169.3 L433.76 169.92 L435.37 170.52 L436.97 171.1 L438.58 171.68 L440.19 172.25 L441.8 172.78 L443.4 173.26 L445.01 173.68 L446.62 174.07 L448.23 174.44 L449.83 174.77 L451.44 175.09 L453.05 175.38 L454.66 175.66 L456.26 175.91 L457.87 176.16 L459.48 176.39 L461.09 176.61 L462.69 176.81 L464.3 177 L465.91 176.81 L467.51 176.61 L469.12 176.39 L470.73 176.16 L472.34 175.91 L473.94 175.66 L475.55 175.38 L477.16 175.09 L478.77 174.77 L480.38 174.44 L481.98 174.07 L483.59 173.68 L485.2 173.26 L486.81 172.78 L488.41 172.25 L490.02 171.68 L491.63 171.1 L493.24 170.52 L494.84 169.92 L496.45 169.3 L498.06 168.64 L499.67 167.93 L501.27 167.18 L502.88 166.44 L504.49 165.71 L506.1 165.03 L507.7 164.38 L509.31 163.76 L510.92 163.14 L512.52 162.52 L514.13 161.9 L515.74 161.25 L517.35 160.58 L518.96 159.86 L520.56 159.1 L522.17 158.3 L523.78 157.47 L525.38 156.6 L526.99 155.71 L528.6 154.79 L530.21 153.84 L531.82 152.88 L533.42 151.89 L535.03 150.89 L536.64 149.87 L538.25 148.84 L539.85 147.8 L541.46 146.75 L543.07 145.7 L544.67 144.64 L546.28 143.58 L547.89 142.53 L549.5 141.47 L551.11 140.4 L552.71 139.31 L554.32 138.21 L555.93 137.09 L557.53 135.97 L559.14 134.83 L560.75 133.68 L562.36 132.52 L563.97 131.35 L565.57 130.17 L567.18 128.98 L568.79 127.79 L570.39 126.59 L572 125.39 L573.61 124.16 L575.22 122.92 L576.83 121.66 L578.43 120.39 L580.04 119.11" fill="none" stroke="#808000" stroke-width="5.2" stroke-linecap="round" stroke-linejoin="round"/>
<path d="M348.56 132.11 L350.17 133.1 L351.78 134.09 L353.38 135.07 L354.99 136.03 L356.6 137 L358.21 137.95 L359.81 138.89 L361.42 139.82 L363.03 140.74 L364.63 141.65 L366.24 142.55 L367.85 143.45 L369.46 144.35 L371.06 145.25 L372.67 146.15 L374.28 147.05 L375.89 147.94 L377.5 148.83 L379.1 149.71 L380.71 150.58 L382.32 151.44 L383.93 152.28 L385.53 153.12 L387.14 153.94 L388.75 154.74 L390.36 155.53 L391.96 156.3 L393.57 157.05 L395.18 157.77 L396.79 158.47 L398.39 159.15 L400 159.8 L401.61 160.42 L403.22 161 L404.82 161.56 L406.43 162.1 L408.04 162.63 L409.64 163.16 L411.25 163.68 L412.86 164.22 L414.47 164.76 L416.08 165.33 L417.68 165.92 L419.29 166.54 L420.9 167.18 L422.5 167.82 L424.11 168.43 L425.72 169.01 L427.33 169.56 L428.94 170.08 L430.54 170.58 L432.15 171.07 L433.76 171.57 L435.37 172.06 L436.97 172.53 L438.58 172.97 L440.19 173.35 L441.8 173.71 L443.4 174.05 L445.01 174.36 L446.62 174.65 L448.23 174.93 L449.83 175.19 L451.44 175.44 L453.05 175.67 L454.66 175.89 L456.26 176.09 L457.87 176.3 L459.48 176.49 L461.09 176.67 L462.69 176.84 L464.3 177 L465.91 176.84 L467.51 176.67 L469.12 176.49 L470.73 176.3 L472.34 176.09 L473.94 175.89 L475.55 175.67 L477.16 175.44 L478.77 175.19 L480.38 174.93 L481.98 174.65 L483.59 174.36 L485.2 174.05 L486.81 173.71 L488.41 173.35 L490.02 172.97 L491.63 172.53 L493.24 172.06 L494.84 171.57 L496.45 171.07 L498.06 170.58 L499.67 170.08 L501.27 169.56 L502.88 169.01 L504.49 168.43 L506.1 167.82 L507.7 167.18 L509.31 166.54 L510.92 165.92 L512.52 165.33 L514.13 164.76 L515.74 164.22 L517.35 163.68 L518.96 163.16 L520.56 162.63 L522.17 162.1 L523.78 161.56 L525.38 161 L526.99 160.42 L528.6 159.8 L530.21 159.15 L531.82 158.47 L533.42 157.77 L535.03 157.05 L536.64 156.3 L538.25 155.53 L539.85 154.74 L541.46 153.94 L543.07 153.12 L544.67 152.28 L546.28 151.44 L547.89 150.58 L549.5 149.71 L551.11 148.83 L552.71 147.94 L554.32 147.05 L555.93 146.15 L557.53 145.25 L559.14 144.35 L560.75 143.45 L562.36 142.55 L563.97 141.65 L565.57 140.74 L567.18 139.82 L568.79 138.89 L570.39 137.95 L572 137 L573.61 136.03 L575.22 135.07 L576.83 134.09 L578.43 133.1 L580.04 132.11" fill="none" stroke="#8000ff" stroke-width="5.2" stroke-linecap="round" stroke-linejoin="round"/>
<path d="M348.56 141.49 L350.17 142.27 L351.78 143.04 L353.38 143.82 L354.99 144.6 L356.6 145.38 L358.21 146.15 L359.81 146.93 L361.42 147.7 L363.03 148.47 L364.63 149.23 L366.24 149.99 L367.85 150.73 L369.46 151.48 L371.06 152.21 L372.67 152.93 L374.28 153.64 L375.89 154.34 L377.5 155.03 L379.1 155.71 L380.71 156.37 L382.32 157.01 L383.93 157.64 L385.53 158.26 L387.14 158.85 L388.75 159.42 L390.36 159.98 L391.96 160.5 L393.57 161 L395.18 161.49 L396.79 161.96 L398.39 162.42 L400 162.87 L401.61 163.33 L403.22 163.78 L404.82 164.24 L406.43 164.71 L408.04 165.2 L409.64 165.7 L411.25 166.23 L412.86 166.77 L414.47 167.32 L416.08 167.87 L417.68 168.41 L419.29 168.91 L420.9 169.39 L422.5 169.84 L424.11 170.29 L425.72 170.72 L427.33 171.14 L428.94 171.57 L430.54 171.99 L432.15 172.4 L433.76 172.79 L435.37 173.15 L436.97 173.47 L438.58 173.77 L440.19 174.06 L441.8 174.33 L443.4 174.59 L445.01 174.83 L446.62 175.06 L448.23 175.28 L449.83 175.49 L451.44 175.69 L453.05 175.88 L454.66 176.06 L456.26 176.23 L457.87 176.4 L459.48 176.56 L461.09 176.72 L462.69 176.86 L464.3 177 L465.91 176.86 L467.51 176.72 L469.12 176.56 L470.73 176.4 L472.34 176.23 L473.94 176.06 L475.55 175.88 L477.16 175.69 L478.77 175.49 L480.38 175.28 L481.98 175.06 L483.59 174.83 L485.2 174.59 L486.81 174.33 L488.41 174.06 L490.02 173.77 L491.63 173.47 L493.24 173.15 L494.84 172.79 L496.45 172.4 L498.06 171.99 L499.67 171.57 L501.27 171.14 L502.88 170.72 L504.49 170.29 L506.1 169.84 L507.7 169.39 L509.31 168.91 L510.92 168.41 L512.52 167.87 L514.13 167.32 L515.74 166.77 L517.35 166.23 L518.96 165.7 L520.56 165.2 L522.17 164.71 L523.78 164.24 L525.38 163.78 L526.99 163.33 L528.6 162.87 L530.21 162.42 L531.82 161.96 L533.42 161.49 L535.03 161 L536.64 160.5 L538.25 159.98 L539.85 159.42 L541.46 158.85 L543.07 158.26 L544.67 157.64 L546.28 157.01 L547.89 156.37 L549.5 155.71 L551.11 155.03 L552.71 154.34 L554.32 153.64 L555.93 152.93 L557.53 152.21 L559.14 151.48 L560.75 150.73 L562.36 149.99 L563.97 149.23 L565.57 148.47 L567.18 147.7 L568.79 146.93 L570.39 146.15 L572 145.38 L573.61 144.6 L575.22 143.82 L576.83 143.04 L578.43 142.27 L580.04 141.49" fill="none" stroke="#800080" stroke-width="5.2" stroke-linecap="round" stroke-linejoin="round"/>
<path d="M348.56 148.59 L350.17 149.26 L351.78 149.92 L353.38 150.57 L354.99 151.22 L356.6 151.86 L358.21 152.5 L359.81 153.13 L361.42 153.75 L363.03 154.36 L364.63 154.96 L366.24 155.55 L367.85 156.13 L369.46 156.7 L371.06 157.26 L372.67 157.8 L374.28 158.33 L375.89 158.85 L377.5 159.35 L379.1 159.84 L380.71 160.3 L382.32 160.75 L383.93 161.18 L385.53 161.6 L387.14 162.01 L388.75 162.41 L390.36 162.81 L391.96 163.2 L393.57 163.6 L395.18 164 L396.79 164.4 L398.39 164.82 L400 165.24 L401.61 165.68 L403.22 166.14 L404.82 166.61 L406.43 167.09 L408.04 167.58 L409.64 168.05 L411.25 168.51 L412.86 168.95 L414.47 169.36 L416.08 169.76 L417.68 170.15 L419.29 170.53 L420.9 170.9 L422.5 171.27 L424.11 171.65 L425.72 172.02 L427.33 172.37 L428.94 172.72 L430.54 173.04 L432.15 173.33 L433.76 173.6 L435.37 173.86 L436.97 174.11 L438.58 174.34 L440.19 174.56 L441.8 174.78 L443.4 174.98 L445.01 175.18 L446.62 175.37 L448.23 175.54 L449.83 175.72 L451.44 175.88 L453.05 176.04 L454.66 176.19 L456.26 176.34 L457.87 176.49 L459.48 176.62 L461.09 176.76 L462.69 176.88 L464.3 177 L465.91 176.88 L467.51 176.76 L469.12 176.62 L470.73 176.49 L472.34 176.34 L473.94 176.19 L475.55 176.04 L477.16 175.88 L478.77 175.72 L480.38 175.54 L481.98 175.37 L483.59 175.18 L485.2 174.98 L486.81 174.78 L488.41 174.56 L490.02 174.34 L491.63 174.11 L493.24 173.86 L494.84 173.6 L496.45 173.33 L498.06 173.04 L499.67 172.72 L501.27 172.37 L502.88 172.02 L504.49 171.65 L506.1 171.27 L507.7 170.9 L509.31 170.53 L510.92 170.15 L512.52 169.76 L514.13 169.36 L515.74 168.95 L517.35 168.51 L518.96 168.05 L520.56 167.58 L522.17 167.09 L523.78 166.61 L525.38 166.14 L526.99 165.68 L528.6 165.24 L530.21 164.82 L531.82 164.4 L533.42 164 L535.03 163.6 L536.64 163.2 L538.25 162.81 L539.85 162.41 L541.46 162.01 L543.07 161.6 L544.67 161.18 L546.28 160.75 L547.89 160.3 L549.5 159.84 L551.11 159.35 L552.71 158.85 L554.32 158.33 L555.93 157.8 L557.53 157.26 L559.14 156.7 L560.75 156.13 L562.36 155.55 L563.97 154.96 L565.57 154.36 L567.18 153.75 L568.79 153.13 L570.39 152.5 L572 151.86 L573.61 151.22 L575.22 150.57 L576.83 149.92 L578.43 149.26 L580.04 148.59" fill="none" stroke="#800000" stroke-width="5.2" stroke-linecap="round" stroke-linejoin="round"/>
<path d="M348.56 164.94 L350.17 165.18 L351.78 165.43 L353.38 165.68 L354.99 165.93 L356.6 166.2 L358.21 166.46 L359.81 166.73 L361.42 167.01 L363.03 167.28 L364.63 167.55 L366.24 167.82 L367.85 168.09 L369.46 168.35 L371.06 168.6 L372.67 168.85 L374.28 169.09 L375.89 169.32 L377.5 169.55 L379.1 169.78 L380.71 170 L382.32 170.21 L383.93 170.43 L385.53 170.64 L387.14 170.85 L388.75 171.06 L390.36 171.27 L391.96 171.48 L393.57 171.69 L395.18 171.9 L396.79 172.11 L398.39 172.31 L400 172.51 L401.61 172.7 L403.22 172.88 L404.82 173.06 L406.43 173.23 L408.04 173.39 L409.64 173.54 L411.25 173.69 L412.86 173.84 L414.47 173.98 L416.08 174.11 L417.68 174.25 L419.29 174.38 L420.9 174.5 L422.5 174.63 L424.11 174.75 L425.72 174.87 L427.33 174.98 L428.94 175.09 L430.54 175.2 L432.15 175.31 L433.76 175.41 L435.37 175.51 L436.97 175.61 L438.58 175.71 L440.19 175.8 L441.8 175.89 L443.4 175.98 L445.01 176.07 L446.62 176.16 L448.23 176.24 L449.83 176.33 L451.44 176.41 L453.05 176.49 L454.66 176.57 L456.26 176.65 L457.87 176.72 L459.48 176.8 L461.09 176.87 L462.69 176.93 L464.3 177 L465.91 176.93 L467.51 176.87 L469.12 176.8 L470.73 176.72 L472.34 176.65 L473.94 176.57 L475.55 176.49 L477.16 176.41 L478.77 176.33 L480.38 176.24 L481.98 176.16 L483.59 176.07 L485.2 175.98 L486.81 175.89 L488.41 175.8 L490.02 175.71 L491.63 175.61 L493.24 175.51 L494.84 175.41 L496.45 175.31 L498.06 175.2 L499.67 175.09 L501.27 174.98 L502.88 174.87 L504.49 174.75 L506.1 174.63 L507.7 174.5 L509.31 174.38 L510.92 174.25 L512.52 174.11 L514.13 173.98 L515.74 173.84 L517.35 173.69 L518.96 173.54 L520.56 173.39 L522.17 173.23 L523.78 173.06 L525.38 172.88 L526.99 172.7 L528.6 172.51 L530.21 172.31 L531.82 172.11 L533.42 171.9 L535.03 171.69 L536.64 171.48 L538.25 171.27 L539.85 171.06 L541.46 170.85 L543.07 170.64 L544.67 170.43 L546.28 170.21 L547.89 170 L549.5 169.78 L551.11 169.55 L552.71 169.32 L554.32 169.09 L555.93 168.85 L557.53 168.6 L559.14 168.35 L560.75 168.09 L562.36 167.82 L563.97 167.55 L565.57 167.28 L567.18 167.01 L568.79 166.73 L570.39 166.46 L572 166.2 L573.61 165.93 L575.22 165.68 L576.83 165.43 L578.43 165.18 L580.04 164.94" fill="none" stroke="#008000" stroke-width="5.2" stroke-linecap="round" stroke-linejoin="round"/>
<path d="M348.56 170.7 L350.17 170.84 L351.78 170.99 L353.38 171.13 L354.99 171.27 L356.6 171.41 L358.21 171.56 L359.81 171.7 L361.42 171.84 L363.03 171.98 L364.63 172.12 L366.24 172.26 L367.85 172.39 L369.46 172.52 L371.06 172.65 L372.67 172.78 L374.28 172.9 L375.89 173.02 L377.5 173.14 L379.1 173.25 L380.71 173.36 L382.32 173.46 L383.93 173.57 L385.53 173.67 L387.14 173.77 L388.75 173.87 L390.36 173.96 L391.96 174.05 L393.57 174.15 L395.18 174.24 L396.79 174.32 L398.39 174.41 L400 174.5 L401.61 174.58 L403.22 174.66 L404.82 174.74 L406.43 174.82 L408.04 174.9 L409.64 174.98 L411.25 175.06 L412.86 175.13 L414.47 175.21 L416.08 175.28 L417.68 175.35 L419.29 175.42 L420.9 175.49 L422.5 175.55 L424.11 175.62 L425.72 175.69 L427.33 175.75 L428.94 175.81 L430.54 175.87 L432.15 175.93 L433.76 176 L435.37 176.06 L436.97 176.11 L438.58 176.17 L440.19 176.23 L441.8 176.29 L443.4 176.35 L445.01 176.4 L446.62 176.46 L448.23 176.51 L449.83 176.56 L451.44 176.62 L453.05 176.67 L454.66 176.72 L456.26 176.77 L457.87 176.82 L459.48 176.86 L461.09 176.91 L462.69 176.96 L464.3 177 L465.91 176.96 L467.51 176.91 L469.12 176.86 L470.73 176.82 L472.34 176.77 L473.94 176.72 L475.55 176.67 L477.16 176.62 L478.77 176.56 L480.38 176.51 L481.98 176.46 L483.59 176.4 L485.2 176.35 L486.81 176.29 L488.41 176.23 L490.02 176.17 L491.63 176.11 L493.24 176.06 L494.84 176 L496.45 175.93 L498.06 175.87 L499.67 175.81 L501.27 175.75 L502.88 175.69 L504.49 175.62 L506.1 175.55 L507.7 175.49 L509.31 175.42 L510.92 175.35 L512.52 175.28 L514.13 175.21 L515.74 175.13 L517.35 175.06 L518.96 174.98 L520.56 174.9 L522.17 174.82 L523.78 174.74 L525.38 174.66 L526.99 174.58 L528.6 174.5 L530.21 174.41 L531.82 174.32 L533.42 174.24 L535.03 174.15 L536.64 174.05 L538.25 173.96 L539.85 173.87 L541.46 173.77 L543.07 173.67 L544.67 173.57 L546.28 173.46 L547.89 173.36 L549.5 173.25 L551.11 173.14 L552.71 173.02 L554.32 172.9 L555.93 172.78 L557.53 172.65 L559.14 172.52 L560.75 172.39 L562.36 172.26 L563.97 172.12 L565.57 171.98 L567.18 171.84 L568.79 171.7 L570.39 171.56 L572 171.41 L573.61 171.27 L575.22 171.13 L576.83 170.99 L578.43 170.84 L580.04 170.7" fill="none" stroke="#008080" stroke-width="5.2" stroke-linecap="round" stroke-linejoin="round"/>
<path d="M348.56 174.32 L350.17 174.37 L351.78 174.42 L353.38 174.47 L354.99 174.52 L356.6 174.57 L358.21 174.62 L359.81 174.67 L361.42 174.71 L363.03 174.76 L364.63 174.81 L366.24 174.85 L367.85 174.9 L369.46 174.95 L371.06 174.99 L372.67 175.03 L374.28 175.08 L375.89 175.12 L377.5 175.17 L379.1 175.21 L380.71 175.25 L382.32 175.29 L383.93 175.33 L385.53 175.38 L387.14 175.42 L388.75 175.46 L390.36 175.5 L391.96 175.54 L393.57 175.57 L395.18 175.61 L396.79 175.65 L398.39 175.69 L400 175.73 L401.61 175.76 L403.22 175.8 L404.82 175.84 L406.43 175.87 L408.04 175.91 L409.64 175.94 L411.25 175.98 L412.86 176.01 L414.47 176.05 L416.08 176.08 L417.68 176.12 L419.29 176.15 L420.9 176.19 L422.5 176.22 L424.11 176.25 L425.72 176.29 L427.33 176.32 L428.94 176.35 L430.54 176.39 L432.15 176.42 L433.76 176.45 L435.37 176.48 L436.97 176.51 L438.58 176.55 L440.19 176.58 L441.8 176.61 L443.4 176.64 L445.01 176.67 L446.62 176.7 L448.23 176.73 L449.83 176.76 L451.44 176.78 L453.05 176.81 L454.66 176.84 L456.26 176.87 L457.87 176.89 L459.48 176.92 L461.09 176.95 L462.69 176.97 L464.3 177 L465.91 176.97 L467.51 176.95 L469.12 176.92 L470.73 176.89 L472.34 176.87 L473.94 176.84 L475.55 176.81 L477.16 176.78 L478.77 176.76 L480.38 176.73 L481.98 176.7 L483.59 176.67 L485.2 176.64 L486.81 176.61 L488.41 176.58 L490.02 176.55 L491.63 176.51 L493.24 176.48 L494.84 176.45 L496.45 176.42 L498.06 176.39 L499.67 176.35 L501.27 176.32 L502.88 176.29 L504.49 176.25 L506.1 176.22 L507.7 176.19 L509.31 176.15 L510.92 176.12 L512.52 176.08 L514.13 176.05 L515.74 176.01 L517.35 175.98 L518.96 175.94 L520.56 175.91 L522.17 175.87 L523.78 175.84 L525.38 175.8 L526.99 175.76 L528.6 175.73 L530.21 175.69 L531.82 175.65 L533.42 175.61 L535.03 175.57 L536.64 175.54 L538.25 175.5 L539.85 175.46 L541.46 175.42 L543.07 175.38 L544.67 175.33 L546.28 175.29 L547.89 175.25 L549.5 175.21 L551.11 175.17 L552.71 175.12 L554.32 175.08 L555.93 175.03 L557.53 174.99 L559.14 174.95 L560.75 174.9 L562.36 174.85 L563.97 174.81 L565.57 174.76 L567.18 174.71 L568.79 174.67 L570.39 174.62 L572 174.57 L573.61 174.52 L575.22 174.47 L576.83 174.42 L578.43 174.37 L580.04 174.32" fill="none" stroke="#ff8000" stroke-width="5.2" stroke-linecap="round" stroke-linejoin="round"/>
<path d="M361.42 183.6 V180.6 M361.42 2.7 V5.7 M387.14 183.6 V180.6 M387.14 2.7 V5.7 M412.86 183.6 V180.6 M412.86 2.7 V5.7 M438.58 183.6 V180.6 M438.58 2.7 V5.7 M464.3 183.6 V180.6 M464.3 2.7 V5.7 M490.02 183.6 V180.6 M490.02 2.7 V5.7 M515.74 183.6 V180.6 M515.74 2.7 V5.7 M541.46 183.6 V180.6 M541.46 2.7 V5.7 M567.18 183.6 V180.6 M567.18 2.7 V5.7 M348.56 183.6 V182 M348.56 2.7 V4.3 M374.28 183.6 V182 M374.28 2.7 V4.3 M400 183.6 V182 M400 2.7 V4.3 M425.72 183.6 V182 M425.72 2.7 V4.3 M451.44 183.6 V182 M451.44 2.7 V4.3 M477.16 183.6 V182 M477.16 2.7 V4.3 M502.88 183.6 V182 M502.88 2.7 V4.3 M528.6 183.6 V182 M528.6 2.7 V4.3 M554.32 183.6 V182 M554.32 2.7 V4.3 M580.04 183.6 V182 M580.04 2.7 V4.3 M341.9 177 H344.9 M586.6 177 H583.6 M341.9 150.2 H344.9 M586.6 150.2 H583.6 M341.9 123.4 H344.9 M586.6 123.4 H583.6 M341.9 96.6 H344.9 M586.6 96.6 H583.6 M341.9 69.8 H344.9 M586.6 69.8 H583.6 M341.9 43 H344.9 M586.6 43 H583.6 M341.9 16.2 H344.9 M586.6 16.2 H583.6 M341.9 163.6 H343.5 M586.6 163.6 H585 M341.9 136.8 H343.5 M586.6 136.8 H585 M341.9 110 H343.5 M586.6 110 H585 M341.9 83.2 H343.5 M586.6 83.2 H585 M341.9 56.4 H343.5 M586.6 56.4 H585 M341.9 29.6 H343.5 M586.6 29.6 H585 M341.9 2.8 H343.5 M586.6 2.8 H585" stroke="#444" stroke-width="1" fill="none"/>
<rect x="341.9" y="2.7" width="244.7" height="180.9" fill="none" stroke="#444" stroke-width="1.05"/>
<text x="361.42" y="194.9" font-size="8.5" text-anchor="middle" fill="#222" stroke="#222" stroke-width="0.15">-8</text>
<text x="387.14" y="194.9" font-size="8.5" text-anchor="middle" fill="#222" stroke="#222" stroke-width="0.15">-6</text>
<text x="412.86" y="194.9" font-size="8.5" text-anchor="middle" fill="#222" stroke="#222" stroke-width="0.15">-4</text>
<text x="438.58" y="194.9" font-size="8.5" text-anchor="middle" fill="#222" stroke="#222" stroke-width="0.15">-2</text>
<text x="464.3" y="194.9" font-size="8.5" text-anchor="middle" fill="#222" stroke="#222" stroke-width="0.15">0</text>
<text x="490.02" y="194.9" font-size="8.5" text-anchor="middle" fill="#222" stroke="#222" stroke-width="0.15">2</text>
<text x="515.74" y="194.9" font-size="8.5" text-anchor="middle" fill="#222" stroke="#222" stroke-width="0.15">4</text>
<text x="541.46" y="194.9" font-size="8.5" text-anchor="middle" fill="#222" stroke="#222" stroke-width="0.15">6</text>
<text x="567.18" y="194.9" font-size="8.5" text-anchor="middle" fill="#222" stroke="#222" stroke-width="0.15">8</text>
<text x="337.4" y="180" font-size="8.5" text-anchor="end" fill="#222" stroke="#222" stroke-width="0.15">0</text>
<text x="337.4" y="153.2" font-size="8.5" text-anchor="end" fill="#222" stroke="#222" stroke-width="0.15">20</text>
<text x="337.4" y="126.4" font-size="8.5" text-anchor="end" fill="#222" stroke="#222" stroke-width="0.15">40</text>
<text x="337.4" y="99.6" font-size="8.5" text-anchor="end" fill="#222" stroke="#222" stroke-width="0.15">60</text>
<text x="337.4" y="72.8" font-size="8.5" text-anchor="end" fill="#222" stroke="#222" stroke-width="0.15">80</text>
<text x="337.4" y="46" font-size="8.5" text-anchor="end" fill="#222" stroke="#222" stroke-width="0.15">100</text>
<text x="337.4" y="19.2" font-size="8.5" text-anchor="end" fill="#222" stroke="#222" stroke-width="0.15">120</text>
<text x="464.3" y="211.2" font-size="9.5" text-anchor="middle" fill="#222" stroke="#222" stroke-width="0.15">B (T)</text>
<text x="316.2" y="99.8" font-size="9.5" text-anchor="middle" fill="#222" stroke="#222" stroke-width="0.15" transform="rotate(-90 316.2 99.8)">MR (%)</text>
<text x="309.6" y="13.2" font-size="12.5" text-anchor="start" fill="#222" stroke="#222" stroke-width="0.15">(c)</text>
<text x="361.8" y="21" font-size="8.3" text-anchor="start" fill="#0000ff" stroke="#0000ff" stroke-width="0.15">w/o AA</text>
<rect x="588.3" y="2.7" width="46.2" height="157.3" fill="#fff" stroke="#777" stroke-width="0.9"/>
<circle cx="600.2" cy="9.4" r="2.3" fill="#000000"/>
<text x="612.6" y="12.4" font-size="8.4" text-anchor="start" fill="#222" stroke="#222" stroke-width="0.15">2K</text>
<circle cx="600.2" cy="20.56" r="2.3" fill="#ff0000"/>
<text x="612.6" y="23.56" font-size="8.4" text-anchor="start" fill="#222" stroke="#222" stroke-width="0.15">10K</text>
<circle cx="600.2" cy="31.72" r="2.3" fill="#00ff00"/>
<text x="612.6" y="34.72" font-size="8.4" text-anchor="start" fill="#222" stroke="#222" stroke-width="0.15">20K</text>
<circle cx="600.2" cy="42.88" r="2.3" fill="#0000ff"/>
<text x="612.6" y="45.88" font-size="8.4" text-anchor="start" fill="#222" stroke="#222" stroke-width="0.15">30K</text>
<circle cx="600.2" cy="54.04" r="2.3" fill="#00ffff"/>
<text x="612.6" y="57.04" font-size="8.4" text-anchor="start" fill="#222" stroke="#222" stroke-width="0.15">40K</text>
<circle cx="600.2" cy="65.2" r="2.3" fill="#ff00ff"/>
<text x="612.6" y="68.2" font-size="8.4" text-anchor="start" fill="#222" stroke="#222" stroke-width="0.15">50K</text>
<circle cx="600.2" cy="76.36" r="2.3" fill="#ffff00"/>
<text x="612.6" y="79.36" font-size="8.4" text-anchor="start" fill="#222" stroke="#222" stroke-width="0.15">60K</text>
<circle cx="600.2" cy="87.52" r="2.3" fill="#808000"/>
<text x="612.6" y="90.52" font-size="8.4" text-anchor="start" fill="#222" stroke="#222" stroke-width="0.15">70K</text>
<circle cx="600.2" cy="98.68" r="2.3" fill="#8000ff"/>
<text x="612.6" y="101.68" font-size="8.4" text-anchor="start" fill="#222" stroke="#222" stroke-width="0.15">80K</text>
<circle cx="600.2" cy="109.84" r="2.3" fill="#800080"/>
<text x="612.6" y="112.84" font-size="8.4" text-anchor="start" fill="#222" stroke="#222" stroke-width="0.15">90K</text>
<circle cx="600.2" cy="121" r="2.3" fill="#800000"/>
<text x="612.6" y="124" font-size="8.4" text-anchor="start" fill="#222" stroke="#222" stroke-width="0.15">100K</text>
<circle cx="600.2" cy="132.16" r="2.3" fill="#008000"/>
<text x="612.6" y="135.16" font-size="8.4" text-anchor="start" fill="#222" stroke="#222" stroke-width="0.15">150K</text>
<circle cx="600.2" cy="143.32" r="2.3" fill="#008080"/>
<text x="612.6" y="146.32" font-size="8.4" text-anchor="start" fill="#222" stroke="#222" stroke-width="0.15">200K</text>
<circle cx="600.2" cy="154.48" r="2.3" fill="#ff8000"/>
<text x="612.6" y="157.48" font-size="8.4" text-anchor="start" fill="#222" stroke="#222" stroke-width="0.15">300K</text>
<rect x="413.6" y="10.4" width="108.7" height="80.2" fill="#fff"/>
<path d="M421.71 14.83 L422.36 16.05 L423 17.27 L423.65 18.49 L424.3 19.7 L424.94 20.91 L425.59 22.12 L426.23 23.32 L426.88 24.51 L427.52 25.7 L428.17 26.88 L428.82 28.06 L429.46 29.23 L430.11 30.39 L430.75 31.56 L431.4 32.72 L432.04 33.87 L432.69 35.03 L433.33 36.18 L433.98 37.32 L434.63 38.47 L435.27 39.62 L435.92 40.76 L436.56 41.9 L437.21 43.04 L437.85 44.18 L438.5 45.32 L439.15 46.47 L439.79 47.61 L440.44 48.75 L441.08 49.9 L441.73 51.04 L442.37 52.19 L443.02 53.34 L443.67 54.49 L444.31 55.65 L444.96 56.81 L445.6 57.99 L446.25 59.17 L446.89 60.34 L447.54 61.5 L448.18 62.62 L448.83 63.72 L449.48 64.8 L450.12 65.87 L450.77 66.92 L451.41 67.95 L452.06 68.94 L452.7 69.91 L453.35 70.88 L454 71.85 L454.64 72.8 L455.29 73.72 L455.93 74.61 L456.58 75.46 L457.22 76.25 L457.87 76.98 L458.52 77.62 L459.16 78.21 L459.81 78.77 L460.45 79.36 L461.1 80.02 L461.74 80.7 L462.39 81.3 L463.03 81.84 L463.68 82.37 L464.33 82.83 L464.97 83.19 L465.62 83.51 L466.26 83.78 L466.91 84.01 L467.55 84.22 L468.2 84.4 L468.85 84.22 L469.49 84.01 L470.14 83.78 L470.78 83.51 L471.43 83.19 L472.07 82.83 L472.72 82.37 L473.37 81.84 L474.01 81.3 L474.66 80.7 L475.3 80.02 L475.95 79.36 L476.59 78.77 L477.24 78.21 L477.88 77.62 L478.53 76.98 L479.18 76.25 L479.82 75.46 L480.47 74.61 L481.11 73.72 L481.76 72.8 L482.4 71.85 L483.05 70.88 L483.7 69.91 L484.34 68.94 L484.99 67.95 L485.63 66.92 L486.28 65.87 L486.92 64.8 L487.57 63.72 L488.22 62.62 L488.86 61.5 L489.51 60.34 L490.15 59.17 L490.8 57.99 L491.44 56.81 L492.09 55.65 L492.73 54.49 L493.38 53.34 L494.03 52.19 L494.67 51.04 L495.32 49.9 L495.96 48.75 L496.61 47.61 L497.25 46.47 L497.9 45.32 L498.55 44.18 L499.19 43.04 L499.84 41.9 L500.48 40.76 L501.13 39.62 L501.77 38.47 L502.42 37.32 L503.07 36.18 L503.71 35.03 L504.36 33.87 L505 32.72 L505.65 31.56 L506.29 30.39 L506.94 29.23 L507.58 28.06 L508.23 26.88 L508.88 25.7 L509.52 24.51 L510.17 23.32 L510.81 22.12 L511.46 20.91 L512.1 19.7 L512.75 18.49 L513.4 17.27 L514.04 16.05 L514.69 14.83" fill="none" stroke="#000000" stroke-width="3.8" stroke-linecap="round" stroke-linejoin="round"/>
<path d="M421.71 15.06 L422.36 16.27 L423 17.49 L423.65 18.71 L424.3 19.92 L424.94 21.12 L425.59 22.33 L426.23 23.52 L426.88 24.71 L427.52 25.89 L428.17 27.07 L428.82 28.24 L429.46 29.41 L430.11 30.57 L430.75 31.73 L431.4 32.89 L432.04 34.04 L432.69 35.19 L433.33 36.34 L433.98 37.48 L434.63 38.63 L435.27 39.77 L435.92 40.91 L436.56 42.05 L437.21 43.19 L437.85 44.32 L438.5 45.46 L439.15 46.6 L439.79 47.74 L440.44 48.88 L441.08 50.02 L441.73 51.16 L442.37 52.31 L443.02 53.46 L443.67 54.61 L444.31 55.76 L444.96 56.92 L445.6 58.1 L446.25 59.28 L446.89 60.44 L447.54 61.59 L448.18 62.71 L448.83 63.8 L449.48 64.89 L450.12 65.95 L450.77 66.99 L451.41 68.01 L452.06 69.01 L452.7 69.98 L453.35 70.94 L454 71.9 L454.64 72.85 L455.29 73.77 L455.93 74.66 L456.58 75.5 L457.22 76.29 L457.87 77.01 L458.52 77.65 L459.16 78.23 L459.81 78.79 L460.45 79.38 L461.1 80.04 L461.74 80.72 L462.39 81.31 L463.03 81.85 L463.68 82.38 L464.33 82.83 L464.97 83.2 L465.62 83.51 L466.26 83.78 L466.91 84.01 L467.55 84.22 L468.2 84.4 L468.85 84.22 L469.49 84.01 L470.14 83.78 L470.78 83.51 L471.43 83.2 L472.07 82.83 L472.72 82.38 L473.37 81.85 L474.01 81.31 L474.66 80.72 L475.3 80.04 L475.95 79.38 L476.59 78.79 L477.24 78.23 L477.88 77.65 L478.53 77.01 L479.18 76.29 L479.82 75.5 L480.47 74.66 L481.11 73.77 L481.76 72.85 L482.4 71.9 L483.05 70.94 L483.7 69.98 L484.34 69.01 L484.99 68.01 L485.63 66.99 L486.28 65.95 L486.92 64.89 L487.57 63.8 L488.22 62.71 L488.86 61.59 L489.51 60.44 L490.15 59.28 L490.8 58.1 L491.44 56.92 L492.09 55.76 L492.73 54.61 L493.38 53.46 L494.03 52.31 L494.67 51.16 L495.32 50.02 L495.96 48.88 L496.61 47.74 L497.25 46.6 L497.9 45.46 L498.55 44.32 L499.19 43.19 L499.84 42.05 L500.48 40.91 L501.13 39.77 L501.77 38.63 L502.42 37.48 L503.07 36.34 L503.71 35.19 L504.36 34.04 L505 32.89 L505.65 31.73 L506.29 30.57 L506.94 29.41 L507.58 28.24 L508.23 27.07 L508.88 25.89 L509.52 24.71 L510.17 23.52 L510.81 22.33 L511.46 21.12 L512.1 19.92 L512.75 18.71 L513.4 17.49 L514.04 16.27 L514.69 15.06" fill="none" stroke="#ff0000" stroke-width="3.8" stroke-linecap="round" stroke-linejoin="round"/>
<path d="M423.77 19.43 L424.39 20.57 L425.01 21.72 L425.63 22.86 L426.24 23.99 L426.86 25.12 L427.48 26.24 L428.09 27.36 L428.71 28.47 L429.33 29.58 L429.94 30.68 L430.56 31.79 L431.18 32.88 L431.8 33.98 L432.41 35.07 L433.03 36.16 L433.65 37.25 L434.26 38.34 L434.88 39.42 L435.5 40.5 L436.11 41.59 L436.73 42.67 L437.35 43.75 L437.97 44.83 L438.58 45.91 L439.2 46.99 L439.82 48.08 L440.43 49.16 L441.05 50.25 L441.67 51.33 L442.28 52.42 L442.9 53.51 L443.52 54.6 L444.14 55.7 L444.75 56.8 L445.37 57.92 L445.99 59.04 L446.6 60.15 L447.22 61.25 L447.84 62.32 L448.46 63.36 L449.07 64.4 L449.69 65.42 L450.31 66.42 L450.92 67.4 L451.54 68.36 L452.16 69.3 L452.77 70.22 L453.39 71.13 L454.01 72.05 L454.63 72.94 L455.24 73.82 L455.86 74.66 L456.48 75.46 L457.09 76.21 L457.71 76.9 L458.33 77.52 L458.94 78.08 L459.56 78.62 L460.18 79.17 L460.8 79.77 L461.41 80.42 L462.03 81.02 L462.65 81.56 L463.26 82.06 L463.88 82.55 L464.5 82.95 L465.11 83.28 L465.73 83.57 L466.35 83.82 L466.97 84.03 L467.58 84.23 L468.2 84.4 L468.82 84.23 L469.43 84.03 L470.05 83.82 L470.67 83.57 L471.29 83.28 L471.9 82.95 L472.52 82.55 L473.14 82.06 L473.75 81.56 L474.37 81.02 L474.99 80.42 L475.6 79.77 L476.22 79.17 L476.84 78.62 L477.46 78.08 L478.07 77.52 L478.69 76.9 L479.31 76.21 L479.92 75.46 L480.54 74.66 L481.16 73.82 L481.77 72.94 L482.39 72.05 L483.01 71.13 L483.63 70.22 L484.24 69.3 L484.86 68.36 L485.48 67.4 L486.09 66.42 L486.71 65.42 L487.33 64.4 L487.94 63.36 L488.56 62.32 L489.18 61.25 L489.8 60.15 L490.41 59.04 L491.03 57.92 L491.65 56.8 L492.26 55.7 L492.88 54.6 L493.5 53.51 L494.12 52.42 L494.73 51.33 L495.35 50.25 L495.97 49.16 L496.58 48.08 L497.2 46.99 L497.82 45.91 L498.43 44.83 L499.05 43.75 L499.67 42.67 L500.29 41.59 L500.9 40.5 L501.52 39.42 L502.14 38.34 L502.75 37.25 L503.37 36.16 L503.99 35.07 L504.6 33.98 L505.22 32.88 L505.84 31.79 L506.46 30.68 L507.07 29.58 L507.69 28.47 L508.31 27.36 L508.92 26.24 L509.54 25.12 L510.16 23.99 L510.77 22.86 L511.39 21.72 L512.01 20.57 L512.63 19.43" fill="none" stroke="#00ff00" stroke-width="3.8" stroke-linecap="round" stroke-linejoin="round"/>
<path d="M426.98 26.73 L427.55 27.74 L428.12 28.76 L428.7 29.76 L429.27 30.77 L429.84 31.77 L430.41 32.77 L430.99 33.77 L431.56 34.77 L432.13 35.76 L432.7 36.75 L433.28 37.74 L433.85 38.73 L434.42 39.72 L435 40.7 L435.57 41.69 L436.14 42.67 L436.71 43.66 L437.28 44.64 L437.86 45.63 L438.43 46.61 L439 47.6 L439.57 48.59 L440.15 49.57 L440.72 50.56 L441.29 51.55 L441.87 52.54 L442.44 53.53 L443.01 54.53 L443.58 55.53 L444.15 56.53 L444.73 57.54 L445.3 58.56 L445.87 59.58 L446.44 60.59 L447.02 61.58 L447.59 62.55 L448.16 63.5 L448.74 64.44 L449.31 65.37 L449.88 66.28 L450.45 67.18 L451.02 68.06 L451.6 68.92 L452.17 69.76 L452.74 70.6 L453.31 71.43 L453.89 72.26 L454.46 73.07 L455.03 73.86 L455.6 74.63 L456.18 75.36 L456.75 76.05 L457.32 76.7 L457.89 77.29 L458.47 77.82 L459.04 78.31 L459.61 78.8 L460.19 79.31 L460.76 79.87 L461.33 80.46 L461.9 81.01 L462.47 81.5 L463.05 81.97 L463.62 82.42 L464.19 82.81 L464.76 83.13 L465.34 83.41 L465.91 83.66 L466.48 83.88 L467.06 84.07 L467.63 84.25 L468.2 84.4 L468.77 84.25 L469.34 84.07 L469.92 83.88 L470.49 83.66 L471.06 83.41 L471.63 83.13 L472.21 82.81 L472.78 82.42 L473.35 81.97 L473.93 81.5 L474.5 81.01 L475.07 80.46 L475.64 79.87 L476.21 79.31 L476.79 78.8 L477.36 78.31 L477.93 77.82 L478.5 77.29 L479.08 76.7 L479.65 76.05 L480.22 75.36 L480.8 74.63 L481.37 73.86 L481.94 73.07 L482.51 72.26 L483.08 71.43 L483.66 70.6 L484.23 69.76 L484.8 68.92 L485.38 68.06 L485.95 67.18 L486.52 66.28 L487.09 65.37 L487.66 64.44 L488.24 63.5 L488.81 62.55 L489.38 61.58 L489.95 60.59 L490.53 59.58 L491.1 58.56 L491.67 57.54 L492.25 56.53 L492.82 55.53 L493.39 54.53 L493.96 53.53 L494.53 52.54 L495.11 51.55 L495.68 50.56 L496.25 49.57 L496.82 48.59 L497.4 47.6 L497.97 46.61 L498.54 45.63 L499.12 44.64 L499.69 43.66 L500.26 42.67 L500.83 41.69 L501.4 40.7 L501.98 39.72 L502.55 38.73 L503.12 37.74 L503.69 36.75 L504.27 35.76 L504.84 34.77 L505.41 33.77 L505.99 32.77 L506.56 31.77 L507.13 30.77 L507.7 29.76 L508.27 28.76 L508.85 27.74 L509.42 26.73" fill="none" stroke="#0000ff" stroke-width="3.8" stroke-linecap="round" stroke-linejoin="round"/>
<path d="M431.1 35.07 L431.62 35.94 L432.13 36.82 L432.65 37.7 L433.16 38.57 L433.68 39.44 L434.19 40.32 L434.71 41.19 L435.22 42.06 L435.74 42.93 L436.25 43.8 L436.77 44.68 L437.28 45.55 L437.8 46.42 L438.32 47.29 L438.83 48.16 L439.35 49.04 L439.86 49.91 L440.38 50.78 L440.89 51.66 L441.41 52.54 L441.92 53.42 L442.44 54.3 L442.95 55.18 L443.47 56.06 L443.98 56.95 L444.5 57.85 L445.01 58.75 L445.53 59.65 L446.04 60.55 L446.56 61.43 L447.07 62.29 L447.59 63.13 L448.11 63.97 L448.62 64.79 L449.14 65.61 L449.65 66.42 L450.17 67.21 L450.68 67.99 L451.2 68.75 L451.71 69.5 L452.23 70.24 L452.74 70.98 L453.26 71.72 L453.77 72.44 L454.29 73.16 L454.8 73.86 L455.32 74.54 L455.83 75.19 L456.35 75.82 L456.86 76.41 L457.38 76.96 L457.89 77.46 L458.41 77.92 L458.93 78.35 L459.44 78.78 L459.96 79.23 L460.47 79.71 L460.99 80.23 L461.5 80.75 L462.02 81.21 L462.53 81.63 L463.05 82.04 L463.56 82.43 L464.08 82.78 L464.59 83.07 L465.11 83.33 L465.62 83.56 L466.14 83.76 L466.65 83.94 L467.17 84.11 L467.68 84.27 L468.2 84.4 L468.72 84.27 L469.23 84.11 L469.75 83.94 L470.26 83.76 L470.78 83.56 L471.29 83.33 L471.81 83.07 L472.32 82.78 L472.84 82.43 L473.35 82.04 L473.87 81.63 L474.38 81.21 L474.9 80.75 L475.41 80.23 L475.93 79.71 L476.44 79.23 L476.96 78.78 L477.47 78.35 L477.99 77.92 L478.5 77.46 L479.02 76.96 L479.54 76.41 L480.05 75.82 L480.57 75.19 L481.08 74.54 L481.6 73.86 L482.11 73.16 L482.63 72.44 L483.14 71.72 L483.66 70.98 L484.17 70.24 L484.69 69.5 L485.2 68.75 L485.72 67.99 L486.23 67.21 L486.75 66.42 L487.26 65.61 L487.78 64.79 L488.29 63.97 L488.81 63.13 L489.33 62.29 L489.84 61.43 L490.36 60.55 L490.87 59.65 L491.39 58.75 L491.9 57.85 L492.42 56.95 L492.93 56.06 L493.45 55.18 L493.96 54.3 L494.48 53.42 L494.99 52.54 L495.51 51.66 L496.02 50.78 L496.54 49.91 L497.05 49.04 L497.57 48.16 L498.08 47.29 L498.6 46.42 L499.12 45.55 L499.63 44.68 L500.15 43.8 L500.66 42.93 L501.18 42.06 L501.69 41.19 L502.21 40.32 L502.72 39.44 L503.24 38.57 L503.75 37.7 L504.27 36.82 L504.78 35.94 L505.3 35.07" fill="none" stroke="#00ffff" stroke-width="3.8" stroke-linecap="round" stroke-linejoin="round"/>
<path d="M435 44.38 L435.46 45.12 L435.92 45.86 L436.38 46.61 L436.84 47.35 L437.3 48.09 L437.76 48.84 L438.22 49.58 L438.68 50.33 L439.15 51.07 L439.61 51.82 L440.07 52.56 L440.53 53.31 L440.99 54.06 L441.45 54.81 L441.91 55.56 L442.37 56.32 L442.84 57.08 L443.3 57.85 L443.76 58.62 L444.22 59.38 L444.68 60.15 L445.14 60.9 L445.6 61.65 L446.06 62.38 L446.52 63.1 L446.99 63.81 L447.45 64.51 L447.91 65.21 L448.37 65.91 L448.83 66.59 L449.29 67.27 L449.75 67.93 L450.21 68.58 L450.68 69.22 L451.14 69.85 L451.6 70.48 L452.06 71.11 L452.52 71.74 L452.98 72.36 L453.44 72.97 L453.9 73.58 L454.36 74.16 L454.83 74.73 L455.29 75.29 L455.75 75.82 L456.21 76.32 L456.67 76.8 L457.13 77.24 L457.59 77.65 L458.05 78.03 L458.52 78.4 L458.98 78.77 L459.44 79.15 L459.9 79.55 L460.36 79.98 L460.82 80.43 L461.28 80.85 L461.74 81.24 L462.2 81.6 L462.67 81.94 L463.13 82.29 L463.59 82.61 L464.05 82.88 L464.51 83.12 L464.97 83.34 L465.43 83.53 L465.89 83.71 L466.36 83.87 L466.82 84.02 L467.28 84.16 L467.74 84.29 L468.2 84.4 L468.66 84.29 L469.12 84.16 L469.58 84.02 L470.04 83.87 L470.51 83.71 L470.97 83.53 L471.43 83.34 L471.89 83.12 L472.35 82.88 L472.81 82.61 L473.27 82.29 L473.73 81.94 L474.2 81.6 L474.66 81.24 L475.12 80.85 L475.58 80.43 L476.04 79.98 L476.5 79.55 L476.96 79.15 L477.42 78.77 L477.88 78.4 L478.35 78.03 L478.81 77.65 L479.27 77.24 L479.73 76.8 L480.19 76.32 L480.65 75.82 L481.11 75.29 L481.57 74.73 L482.04 74.16 L482.5 73.58 L482.96 72.97 L483.42 72.36 L483.88 71.74 L484.34 71.11 L484.8 70.48 L485.26 69.85 L485.72 69.22 L486.19 68.58 L486.65 67.93 L487.11 67.27 L487.57 66.59 L488.03 65.91 L488.49 65.21 L488.95 64.51 L489.41 63.81 L489.88 63.1 L490.34 62.38 L490.8 61.65 L491.26 60.9 L491.72 60.15 L492.18 59.38 L492.64 58.62 L493.1 57.85 L493.56 57.08 L494.03 56.32 L494.49 55.56 L494.95 54.81 L495.41 54.06 L495.87 53.31 L496.33 52.56 L496.79 51.82 L497.25 51.07 L497.72 50.33 L498.18 49.58 L498.64 48.84 L499.1 48.09 L499.56 47.35 L500.02 46.61 L500.48 45.86 L500.94 45.12 L501.4 44.38" fill="none" stroke="#ff00ff" stroke-width="3.8" stroke-linecap="round" stroke-linejoin="round"/>
<path d="M438.43 52.66 L438.84 53.29 L439.26 53.93 L439.67 54.56 L440.08 55.2 L440.5 55.83 L440.91 56.47 L441.32 57.12 L441.74 57.76 L442.15 58.41 L442.56 59.06 L442.98 59.71 L443.39 60.35 L443.81 60.99 L444.22 61.62 L444.63 62.24 L445.05 62.85 L445.46 63.45 L445.87 64.05 L446.29 64.65 L446.7 65.24 L447.11 65.83 L447.53 66.41 L447.94 66.98 L448.35 67.54 L448.77 68.1 L449.18 68.65 L449.59 69.19 L450.01 69.73 L450.42 70.26 L450.83 70.79 L451.25 71.33 L451.66 71.85 L452.07 72.38 L452.49 72.9 L452.9 73.41 L453.31 73.91 L453.73 74.4 L454.14 74.88 L454.56 75.34 L454.97 75.79 L455.38 76.22 L455.8 76.63 L456.21 77.02 L456.62 77.38 L457.04 77.71 L457.45 78.04 L457.86 78.35 L458.28 78.66 L458.69 78.97 L459.1 79.3 L459.52 79.65 L459.93 80.02 L460.34 80.4 L460.76 80.76 L461.17 81.1 L461.58 81.41 L462 81.71 L462.41 82 L462.82 82.29 L463.24 82.57 L463.65 82.81 L464.07 83.02 L464.48 83.21 L464.89 83.39 L465.31 83.55 L465.72 83.7 L466.13 83.84 L466.55 83.97 L466.96 84.09 L467.37 84.2 L467.79 84.3 L468.2 84.4 L468.61 84.3 L469.03 84.2 L469.44 84.09 L469.85 83.97 L470.27 83.84 L470.68 83.7 L471.09 83.55 L471.51 83.39 L471.92 83.21 L472.33 83.02 L472.75 82.81 L473.16 82.57 L473.58 82.29 L473.99 82 L474.4 81.71 L474.82 81.41 L475.23 81.1 L475.64 80.76 L476.06 80.4 L476.47 80.02 L476.88 79.65 L477.3 79.3 L477.71 78.97 L478.12 78.66 L478.54 78.35 L478.95 78.04 L479.36 77.71 L479.78 77.38 L480.19 77.02 L480.6 76.63 L481.02 76.22 L481.43 75.79 L481.84 75.34 L482.26 74.88 L482.67 74.4 L483.08 73.91 L483.5 73.41 L483.91 72.9 L484.33 72.38 L484.74 71.85 L485.15 71.33 L485.57 70.79 L485.98 70.26 L486.39 69.73 L486.81 69.19 L487.22 68.65 L487.63 68.1 L488.05 67.54 L488.46 66.98 L488.87 66.41 L489.29 65.83 L489.7 65.24 L490.11 64.65 L490.53 64.05 L490.94 63.45 L491.35 62.85 L491.77 62.24 L492.18 61.62 L492.59 60.99 L493.01 60.35 L493.42 59.71 L493.84 59.06 L494.25 58.41 L494.66 57.76 L495.08 57.12 L495.49 56.47 L495.9 55.83 L496.32 55.2 L496.73 54.56 L497.14 53.93 L497.56 53.29 L497.97 52.66" fill="none" stroke="#ffff00" stroke-width="3.8" stroke-linecap="round" stroke-linejoin="round"/>
<path d="M441.18 59.56 L441.55 60.11 L441.93 60.65 L442.3 61.19 L442.68 61.73 L443.05 62.25 L443.43 62.77 L443.81 63.28 L444.18 63.8 L444.56 64.3 L444.93 64.81 L445.31 65.31 L445.68 65.81 L446.06 66.3 L446.43 66.79 L446.81 67.28 L447.18 67.75 L447.56 68.23 L447.93 68.69 L448.31 69.15 L448.68 69.61 L449.06 70.06 L449.43 70.51 L449.81 70.97 L450.19 71.42 L450.56 71.87 L450.94 72.32 L451.31 72.76 L451.69 73.19 L452.06 73.63 L452.44 74.05 L452.81 74.46 L453.19 74.87 L453.56 75.26 L453.94 75.65 L454.31 76.02 L454.69 76.38 L455.06 76.72 L455.44 77.05 L455.81 77.35 L456.19 77.64 L456.57 77.92 L456.94 78.19 L457.32 78.45 L457.69 78.72 L458.07 78.99 L458.44 79.26 L458.82 79.56 L459.19 79.87 L459.57 80.19 L459.94 80.51 L460.32 80.81 L460.69 81.1 L461.07 81.36 L461.44 81.62 L461.82 81.87 L462.2 82.12 L462.57 82.36 L462.95 82.59 L463.32 82.79 L463.7 82.98 L464.07 83.14 L464.45 83.3 L464.82 83.44 L465.2 83.58 L465.57 83.71 L465.95 83.82 L466.32 83.93 L466.7 84.04 L467.07 84.14 L467.45 84.23 L467.82 84.32 L468.2 84.4 L468.58 84.32 L468.95 84.23 L469.33 84.14 L469.7 84.04 L470.08 83.93 L470.45 83.82 L470.83 83.71 L471.2 83.58 L471.58 83.44 L471.95 83.3 L472.33 83.14 L472.7 82.98 L473.08 82.79 L473.45 82.59 L473.83 82.36 L474.2 82.12 L474.58 81.87 L474.96 81.62 L475.33 81.36 L475.71 81.1 L476.08 80.81 L476.46 80.51 L476.83 80.19 L477.21 79.87 L477.58 79.56 L477.96 79.26 L478.33 78.99 L478.71 78.72 L479.08 78.45 L479.46 78.19 L479.83 77.92 L480.21 77.64 L480.59 77.35 L480.96 77.05 L481.34 76.72 L481.71 76.38 L482.09 76.02 L482.46 75.65 L482.84 75.26 L483.21 74.87 L483.59 74.46 L483.96 74.05 L484.34 73.63 L484.71 73.19 L485.09 72.76 L485.46 72.32 L485.84 71.87 L486.21 71.42 L486.59 70.97 L486.97 70.51 L487.34 70.06 L487.72 69.61 L488.09 69.15 L488.47 68.69 L488.84 68.23 L489.22 67.75 L489.59 67.28 L489.97 66.79 L490.34 66.3 L490.72 65.81 L491.09 65.31 L491.47 64.81 L491.84 64.3 L492.22 63.8 L492.59 63.28 L492.97 62.77 L493.35 62.25 L493.72 61.73 L494.1 61.19 L494.47 60.65 L494.85 60.11 L495.22 59.56" fill="none" stroke="#808000" stroke-width="3.8" stroke-linecap="round" stroke-linejoin="round"/>
<path d="M443.24 65.14 L443.59 65.56 L443.93 65.99 L444.28 66.41 L444.63 66.82 L444.97 67.23 L445.32 67.64 L445.67 68.05 L446.01 68.45 L446.36 68.84 L446.71 69.23 L447.05 69.62 L447.4 70 L447.75 70.39 L448.09 70.78 L448.44 71.16 L448.79 71.55 L449.13 71.93 L449.48 72.31 L449.83 72.69 L450.17 73.06 L450.52 73.43 L450.87 73.79 L451.21 74.15 L451.56 74.5 L451.91 74.85 L452.25 75.19 L452.6 75.52 L452.95 75.84 L453.29 76.15 L453.64 76.45 L453.99 76.74 L454.33 77.02 L454.68 77.28 L455.03 77.54 L455.37 77.78 L455.72 78.01 L456.07 78.24 L456.41 78.46 L456.76 78.69 L457.11 78.91 L457.45 79.15 L457.8 79.39 L458.15 79.64 L458.49 79.91 L458.84 80.19 L459.19 80.46 L459.53 80.72 L459.88 80.97 L460.23 81.21 L460.57 81.43 L460.92 81.65 L461.27 81.86 L461.61 82.07 L461.96 82.28 L462.31 82.48 L462.65 82.67 L463 82.84 L463.35 82.99 L463.69 83.13 L464.04 83.27 L464.39 83.39 L464.73 83.51 L465.08 83.62 L465.43 83.73 L465.77 83.83 L466.12 83.92 L466.47 84.01 L466.81 84.1 L467.16 84.18 L467.51 84.26 L467.85 84.33 L468.2 84.4 L468.55 84.33 L468.89 84.26 L469.24 84.18 L469.59 84.1 L469.93 84.01 L470.28 83.92 L470.63 83.83 L470.97 83.73 L471.32 83.62 L471.67 83.51 L472.01 83.39 L472.36 83.27 L472.71 83.13 L473.05 82.99 L473.4 82.84 L473.75 82.67 L474.09 82.48 L474.44 82.28 L474.79 82.07 L475.13 81.86 L475.48 81.65 L475.83 81.43 L476.17 81.21 L476.52 80.97 L476.87 80.72 L477.21 80.46 L477.56 80.19 L477.91 79.91 L478.25 79.64 L478.6 79.39 L478.95 79.15 L479.29 78.91 L479.64 78.69 L479.99 78.46 L480.33 78.24 L480.68 78.01 L481.03 77.78 L481.37 77.54 L481.72 77.28 L482.07 77.02 L482.41 76.74 L482.76 76.45 L483.11 76.15 L483.45 75.84 L483.8 75.52 L484.15 75.19 L484.49 74.85 L484.84 74.5 L485.19 74.15 L485.53 73.79 L485.88 73.43 L486.23 73.06 L486.57 72.69 L486.92 72.31 L487.27 71.93 L487.61 71.55 L487.96 71.16 L488.31 70.78 L488.65 70.39 L489 70 L489.35 69.62 L489.69 69.23 L490.04 68.84 L490.39 68.45 L490.73 68.05 L491.08 67.64 L491.43 67.23 L491.77 66.82 L492.12 66.41 L492.47 65.99 L492.81 65.56 L493.16 65.14" fill="none" stroke="#8000ff" stroke-width="3.8" stroke-linecap="round" stroke-linejoin="round"/>
<path d="M445.76 69.16 L446.07 69.5 L446.38 69.83 L446.69 70.16 L447 70.5 L447.32 70.83 L447.63 71.16 L447.94 71.5 L448.25 71.83 L448.56 72.16 L448.87 72.48 L449.19 72.81 L449.5 73.13 L449.81 73.45 L450.12 73.76 L450.43 74.07 L450.75 74.38 L451.06 74.68 L451.37 74.97 L451.68 75.26 L451.99 75.55 L452.3 75.82 L452.62 76.09 L452.93 76.36 L453.24 76.61 L453.55 76.86 L453.86 77.09 L454.17 77.32 L454.49 77.54 L454.8 77.74 L455.11 77.95 L455.42 78.14 L455.73 78.34 L456.04 78.53 L456.36 78.73 L456.67 78.93 L456.98 79.13 L457.29 79.34 L457.6 79.55 L457.91 79.78 L458.23 80.01 L458.54 80.25 L458.85 80.48 L459.16 80.71 L459.47 80.93 L459.78 81.13 L460.1 81.33 L460.41 81.52 L460.72 81.7 L461.03 81.89 L461.34 82.07 L461.65 82.25 L461.97 82.43 L462.28 82.59 L462.59 82.75 L462.9 82.89 L463.21 83.02 L463.52 83.14 L463.84 83.25 L464.15 83.36 L464.46 83.47 L464.77 83.57 L465.08 83.66 L465.39 83.75 L465.71 83.84 L466.02 83.92 L466.33 84 L466.64 84.07 L466.95 84.14 L467.26 84.21 L467.58 84.28 L467.89 84.34 L468.2 84.4 L468.51 84.34 L468.82 84.28 L469.14 84.21 L469.45 84.14 L469.76 84.07 L470.07 84 L470.38 83.92 L470.69 83.84 L471.01 83.75 L471.32 83.66 L471.63 83.57 L471.94 83.47 L472.25 83.36 L472.56 83.25 L472.88 83.14 L473.19 83.02 L473.5 82.89 L473.81 82.75 L474.12 82.59 L474.43 82.43 L474.75 82.25 L475.06 82.07 L475.37 81.89 L475.68 81.7 L475.99 81.52 L476.3 81.33 L476.62 81.13 L476.93 80.93 L477.24 80.71 L477.55 80.48 L477.86 80.25 L478.17 80.01 L478.49 79.78 L478.8 79.55 L479.11 79.34 L479.42 79.13 L479.73 78.93 L480.04 78.73 L480.36 78.53 L480.67 78.34 L480.98 78.14 L481.29 77.95 L481.6 77.74 L481.91 77.54 L482.23 77.32 L482.54 77.09 L482.85 76.86 L483.16 76.61 L483.47 76.36 L483.78 76.09 L484.1 75.82 L484.41 75.55 L484.72 75.26 L485.03 74.97 L485.34 74.68 L485.65 74.38 L485.97 74.07 L486.28 73.76 L486.59 73.45 L486.9 73.13 L487.21 72.81 L487.53 72.48 L487.84 72.16 L488.15 71.83 L488.46 71.5 L488.77 71.16 L489.08 70.83 L489.4 70.5 L489.71 70.16 L490.02 69.83 L490.33 69.5 L490.64 69.16" fill="none" stroke="#800080" stroke-width="3.8" stroke-linecap="round" stroke-linejoin="round"/>
<path d="M447.59 72.21 L447.88 72.5 L448.16 72.78 L448.45 73.06 L448.74 73.34 L449.02 73.61 L449.31 73.89 L449.59 74.16 L449.88 74.42 L450.17 74.68 L450.45 74.94 L450.74 75.2 L451.02 75.44 L451.31 75.69 L451.6 75.93 L451.88 76.16 L452.17 76.39 L452.46 76.61 L452.74 76.83 L453.03 77.04 L453.31 77.24 L453.6 77.43 L453.89 77.61 L454.17 77.79 L454.46 77.97 L454.75 78.14 L455.03 78.31 L455.32 78.48 L455.6 78.65 L455.89 78.82 L456.18 78.99 L456.46 79.17 L456.75 79.35 L457.04 79.54 L457.32 79.74 L457.61 79.94 L457.89 80.15 L458.18 80.36 L458.47 80.56 L458.75 80.76 L459.04 80.94 L459.33 81.12 L459.61 81.29 L459.9 81.46 L460.19 81.62 L460.47 81.78 L460.76 81.94 L461.04 82.1 L461.33 82.26 L461.62 82.42 L461.9 82.56 L462.19 82.7 L462.47 82.82 L462.76 82.94 L463.05 83.05 L463.33 83.16 L463.62 83.26 L463.91 83.35 L464.19 83.45 L464.48 83.53 L464.76 83.62 L465.05 83.7 L465.34 83.78 L465.62 83.85 L465.91 83.92 L466.2 83.99 L466.48 84.05 L466.77 84.12 L467.06 84.18 L467.34 84.24 L467.63 84.3 L467.91 84.35 L468.2 84.4 L468.49 84.35 L468.77 84.3 L469.06 84.24 L469.34 84.18 L469.63 84.12 L469.92 84.05 L470.2 83.99 L470.49 83.92 L470.78 83.85 L471.06 83.78 L471.35 83.7 L471.63 83.62 L471.92 83.53 L472.21 83.45 L472.49 83.35 L472.78 83.26 L473.07 83.16 L473.35 83.05 L473.64 82.94 L473.93 82.82 L474.21 82.7 L474.5 82.56 L474.78 82.42 L475.07 82.26 L475.36 82.1 L475.64 81.94 L475.93 81.78 L476.21 81.62 L476.5 81.46 L476.79 81.29 L477.07 81.12 L477.36 80.94 L477.65 80.76 L477.93 80.56 L478.22 80.36 L478.5 80.15 L478.79 79.94 L479.08 79.74 L479.36 79.54 L479.65 79.35 L479.94 79.17 L480.22 78.99 L480.51 78.82 L480.8 78.65 L481.08 78.48 L481.37 78.31 L481.65 78.14 L481.94 77.97 L482.23 77.79 L482.51 77.61 L482.8 77.43 L483.08 77.24 L483.37 77.04 L483.66 76.83 L483.94 76.61 L484.23 76.39 L484.52 76.16 L484.8 75.93 L485.09 75.69 L485.38 75.44 L485.66 75.2 L485.95 74.94 L486.23 74.68 L486.52 74.42 L486.81 74.16 L487.09 73.89 L487.38 73.61 L487.66 73.34 L487.95 73.06 L488.24 72.78 L488.52 72.5 L488.81 72.21" fill="none" stroke="#800000" stroke-width="3.8" stroke-linecap="round" stroke-linejoin="round"/>
<path d="M454.23 79.22 L454.43 79.33 L454.62 79.43 L454.81 79.54 L455.01 79.65 L455.2 79.76 L455.4 79.88 L455.59 79.99 L455.78 80.11 L455.98 80.23 L456.17 80.35 L456.37 80.46 L456.56 80.57 L456.75 80.69 L456.95 80.8 L457.14 80.9 L457.34 81.01 L457.53 81.11 L457.72 81.2 L457.92 81.3 L458.11 81.39 L458.31 81.49 L458.5 81.58 L458.69 81.67 L458.89 81.76 L459.08 81.85 L459.28 81.94 L459.47 82.03 L459.66 82.12 L459.86 82.21 L460.05 82.3 L460.25 82.39 L460.44 82.47 L460.63 82.56 L460.83 82.63 L461.02 82.71 L461.22 82.78 L461.41 82.85 L461.6 82.92 L461.8 82.98 L461.99 83.04 L462.19 83.1 L462.38 83.16 L462.57 83.22 L462.77 83.27 L462.96 83.33 L463.16 83.38 L463.35 83.43 L463.54 83.48 L463.74 83.53 L463.93 83.58 L464.13 83.63 L464.32 83.67 L464.51 83.72 L464.71 83.76 L464.9 83.8 L465.1 83.85 L465.29 83.89 L465.48 83.92 L465.68 83.96 L465.87 84 L466.07 84.04 L466.26 84.08 L466.45 84.11 L466.65 84.15 L466.84 84.18 L467.04 84.22 L467.23 84.25 L467.42 84.28 L467.62 84.31 L467.81 84.34 L468.01 84.37 L468.2 84.4 L468.39 84.37 L468.59 84.34 L468.78 84.31 L468.98 84.28 L469.17 84.25 L469.36 84.22 L469.56 84.18 L469.75 84.15 L469.95 84.11 L470.14 84.08 L470.33 84.04 L470.53 84 L470.72 83.96 L470.92 83.92 L471.11 83.89 L471.3 83.85 L471.5 83.8 L471.69 83.76 L471.89 83.72 L472.08 83.67 L472.27 83.63 L472.47 83.58 L472.66 83.53 L472.86 83.48 L473.05 83.43 L473.24 83.38 L473.44 83.33 L473.63 83.27 L473.83 83.22 L474.02 83.16 L474.21 83.1 L474.41 83.04 L474.6 82.98 L474.8 82.92 L474.99 82.85 L475.18 82.78 L475.38 82.71 L475.57 82.63 L475.77 82.56 L475.96 82.47 L476.15 82.39 L476.35 82.3 L476.54 82.21 L476.74 82.12 L476.93 82.03 L477.12 81.94 L477.32 81.85 L477.51 81.76 L477.71 81.67 L477.9 81.58 L478.09 81.49 L478.29 81.39 L478.48 81.3 L478.68 81.2 L478.87 81.11 L479.06 81.01 L479.26 80.9 L479.45 80.8 L479.65 80.69 L479.84 80.57 L480.03 80.46 L480.23 80.35 L480.42 80.23 L480.62 80.11 L480.81 79.99 L481 79.88 L481.2 79.76 L481.39 79.65 L481.59 79.54 L481.78 79.43 L481.97 79.33 L482.17 79.22" fill="none" stroke="#008000" stroke-width="3.8" stroke-linecap="round" stroke-linejoin="round"/>
<path d="M457.89 81.7 L458.04 81.76 L458.18 81.82 L458.32 81.88 L458.47 81.94 L458.61 82 L458.75 82.06 L458.9 82.12 L459.04 82.19 L459.18 82.25 L459.33 82.31 L459.47 82.36 L459.61 82.42 L459.76 82.48 L459.9 82.54 L460.04 82.59 L460.19 82.64 L460.33 82.69 L460.47 82.74 L460.61 82.79 L460.76 82.84 L460.9 82.88 L461.04 82.93 L461.19 82.97 L461.33 83.01 L461.47 83.05 L461.62 83.1 L461.76 83.14 L461.9 83.18 L462.05 83.21 L462.19 83.25 L462.33 83.29 L462.47 83.33 L462.62 83.36 L462.76 83.4 L462.9 83.43 L463.05 83.47 L463.19 83.5 L463.33 83.53 L463.48 83.57 L463.62 83.6 L463.76 83.63 L463.91 83.66 L464.05 83.69 L464.19 83.72 L464.34 83.75 L464.48 83.78 L464.62 83.81 L464.76 83.84 L464.91 83.86 L465.05 83.89 L465.19 83.92 L465.34 83.94 L465.48 83.97 L465.62 83.99 L465.77 84.02 L465.91 84.05 L466.05 84.07 L466.2 84.09 L466.34 84.12 L466.48 84.14 L466.63 84.17 L466.77 84.19 L466.91 84.21 L467.06 84.24 L467.2 84.26 L467.34 84.28 L467.48 84.3 L467.63 84.32 L467.77 84.34 L467.91 84.36 L468.06 84.38 L468.2 84.4 L468.34 84.38 L468.49 84.36 L468.63 84.34 L468.77 84.32 L468.92 84.3 L469.06 84.28 L469.2 84.26 L469.34 84.24 L469.49 84.21 L469.63 84.19 L469.77 84.17 L469.92 84.14 L470.06 84.12 L470.2 84.09 L470.35 84.07 L470.49 84.05 L470.63 84.02 L470.78 83.99 L470.92 83.97 L471.06 83.94 L471.21 83.92 L471.35 83.89 L471.49 83.86 L471.63 83.84 L471.78 83.81 L471.92 83.78 L472.06 83.75 L472.21 83.72 L472.35 83.69 L472.49 83.66 L472.64 83.63 L472.78 83.6 L472.92 83.57 L473.07 83.53 L473.21 83.5 L473.35 83.47 L473.5 83.43 L473.64 83.4 L473.78 83.36 L473.93 83.33 L474.07 83.29 L474.21 83.25 L474.35 83.21 L474.5 83.18 L474.64 83.14 L474.78 83.1 L474.93 83.05 L475.07 83.01 L475.21 82.97 L475.36 82.93 L475.5 82.88 L475.64 82.84 L475.79 82.79 L475.93 82.74 L476.07 82.69 L476.21 82.64 L476.36 82.59 L476.5 82.54 L476.64 82.48 L476.79 82.42 L476.93 82.36 L477.07 82.31 L477.22 82.25 L477.36 82.19 L477.5 82.12 L477.65 82.06 L477.79 82 L477.93 81.94 L478.08 81.88 L478.22 81.82 L478.36 81.76 L478.5 81.7" fill="none" stroke="#008080" stroke-width="3.8" stroke-linecap="round" stroke-linejoin="round"/>
<path d="M460.19 83.25 L460.3 83.27 L460.41 83.29 L460.52 83.31 L460.63 83.34 L460.74 83.36 L460.85 83.38 L460.96 83.4 L461.08 83.42 L461.19 83.44 L461.3 83.46 L461.41 83.48 L461.52 83.5 L461.63 83.52 L461.74 83.54 L461.85 83.56 L461.97 83.58 L462.08 83.59 L462.19 83.61 L462.3 83.63 L462.41 83.65 L462.52 83.67 L462.63 83.69 L462.75 83.7 L462.86 83.72 L462.97 83.74 L463.08 83.75 L463.19 83.77 L463.3 83.79 L463.41 83.8 L463.52 83.82 L463.64 83.84 L463.75 83.85 L463.86 83.87 L463.97 83.88 L464.08 83.9 L464.19 83.92 L464.3 83.93 L464.42 83.95 L464.53 83.96 L464.64 83.98 L464.75 83.99 L464.86 84.01 L464.97 84.02 L465.08 84.04 L465.19 84.05 L465.31 84.07 L465.42 84.08 L465.53 84.09 L465.64 84.11 L465.75 84.12 L465.86 84.14 L465.97 84.15 L466.08 84.16 L466.2 84.18 L466.31 84.19 L466.42 84.21 L466.53 84.22 L466.64 84.23 L466.75 84.24 L466.86 84.26 L466.98 84.27 L467.09 84.28 L467.2 84.29 L467.31 84.31 L467.42 84.32 L467.53 84.33 L467.64 84.34 L467.75 84.35 L467.87 84.37 L467.98 84.38 L468.09 84.39 L468.2 84.4 L468.31 84.39 L468.42 84.38 L468.53 84.37 L468.65 84.35 L468.76 84.34 L468.87 84.33 L468.98 84.32 L469.09 84.31 L469.2 84.29 L469.31 84.28 L469.42 84.27 L469.54 84.26 L469.65 84.24 L469.76 84.23 L469.87 84.22 L469.98 84.21 L470.09 84.19 L470.2 84.18 L470.32 84.16 L470.43 84.15 L470.54 84.14 L470.65 84.12 L470.76 84.11 L470.87 84.09 L470.98 84.08 L471.09 84.07 L471.21 84.05 L471.32 84.04 L471.43 84.02 L471.54 84.01 L471.65 83.99 L471.76 83.98 L471.87 83.96 L471.98 83.95 L472.1 83.93 L472.21 83.92 L472.32 83.9 L472.43 83.88 L472.54 83.87 L472.65 83.85 L472.76 83.84 L472.88 83.82 L472.99 83.8 L473.1 83.79 L473.21 83.77 L473.32 83.75 L473.43 83.74 L473.54 83.72 L473.65 83.7 L473.77 83.69 L473.88 83.67 L473.99 83.65 L474.1 83.63 L474.21 83.61 L474.32 83.59 L474.43 83.58 L474.55 83.56 L474.66 83.54 L474.77 83.52 L474.88 83.5 L474.99 83.48 L475.1 83.46 L475.21 83.44 L475.32 83.42 L475.44 83.4 L475.55 83.38 L475.66 83.36 L475.77 83.34 L475.88 83.31 L475.99 83.29 L476.1 83.27 L476.21 83.25" fill="none" stroke="#ff8000" stroke-width="3.8" stroke-linecap="round" stroke-linejoin="round"/>
<path d="M422.4 90.6 V88.1 M422.4 10.4 V12.9 M445.3 90.6 V88.1 M445.3 10.4 V12.9 M468.2 90.6 V88.1 M468.2 10.4 V12.9 M491.1 90.6 V88.1 M491.1 10.4 V12.9 M514 90.6 V88.1 M514 10.4 V12.9 M433.85 90.6 V89.1 M433.85 10.4 V11.9 M456.75 90.6 V89.1 M456.75 10.4 V11.9 M479.65 90.6 V89.1 M479.65 10.4 V11.9 M502.55 90.6 V89.1 M502.55 10.4 V11.9 M413.6 84.4 H416.1 M522.3 84.4 H519.8 M413.6 61.4 H416.1 M522.3 61.4 H519.8 M413.6 38.4 H416.1 M522.3 38.4 H519.8 M413.6 15.4 H416.1 M522.3 15.4 H519.8 M413.6 72.9 H415.1 M522.3 72.9 H520.8 M413.6 49.9 H415.1 M522.3 49.9 H520.8 M413.6 26.9 H415.1 M522.3 26.9 H520.8" stroke="#444" stroke-width="0.9" fill="none"/>
<rect x="413.6" y="10.4" width="108.7" height="80.2" fill="none" stroke="#555" stroke-width="0.85"/>
<text x="422.4" y="97.3" font-size="6.3" text-anchor="middle" fill="#222" stroke="#222" stroke-width="0.05">-2</text>
<text x="445.3" y="97.3" font-size="6.3" text-anchor="middle" fill="#222" stroke="#222" stroke-width="0.05">-1</text>
<text x="468.2" y="97.3" font-size="6.3" text-anchor="middle" fill="#222" stroke="#222" stroke-width="0.05">0</text>
<text x="491.1" y="97.3" font-size="6.3" text-anchor="middle" fill="#222" stroke="#222" stroke-width="0.05">1</text>
<text x="514" y="97.3" font-size="6.3" text-anchor="middle" fill="#222" stroke="#222" stroke-width="0.05">2</text>
<text x="411.5" y="86.7" font-size="6.3" text-anchor="end" fill="#222" stroke="#222" stroke-width="0.05">0</text>
<text x="411.5" y="63.7" font-size="6.3" text-anchor="end" fill="#222" stroke="#222" stroke-width="0.05">40</text>
<text x="411.5" y="40.7" font-size="6.3" text-anchor="end" fill="#222" stroke="#222" stroke-width="0.05">80</text>
<text x="411.5" y="17.7" font-size="6.3" text-anchor="end" fill="#222" stroke="#222" stroke-width="0.05">120</text>
<text x="396.5" y="54.6" font-size="6.5" text-anchor="middle" fill="#222" stroke="#222" stroke-width="0.05" transform="rotate(-90 396.5 54.6)">MR (%)</text>
<text x="468.2" y="108.4" font-size="6.1" text-anchor="middle" fill="#222">B/&#961;<tspan font-size="4" dy="1.5">0</tspan><tspan dy="-1.5"> (10</tspan><tspan font-size="4" dy="-2.5">8</tspan><tspan dy="2.5"> T/&#937;m)</tspan></text>
<path d="M348.56 241.25 L350.17 245.11 L351.78 248.94 L353.38 252.73 L354.99 256.47 L356.6 260.18 L358.21 263.84 L359.81 267.46 L361.42 271.04 L363.03 274.58 L364.63 278.07 L366.24 281.53 L367.85 284.94 L369.46 288.31 L371.06 291.64 L372.67 294.92 L374.28 298.16 L375.89 301.36 L377.5 304.52 L379.1 307.63 L380.71 310.7 L382.32 313.72 L383.93 316.7 L385.53 319.63 L387.14 322.53 L388.75 325.37 L390.36 328.17 L391.96 330.93 L393.57 333.64 L395.18 336.3 L396.79 338.92 L398.39 341.49 L400 344.02 L401.61 346.5 L403.22 348.93 L404.82 351.31 L406.43 353.65 L408.04 355.93 L409.64 358.17 L411.25 360.36 L412.86 362.5 L414.47 364.59 L416.08 366.64 L417.68 368.63 L419.29 370.57 L420.9 372.46 L422.5 374.29 L424.11 376.08 L425.72 377.81 L427.33 379.49 L428.94 381.11 L430.54 382.68 L432.15 384.2 L433.76 385.66 L435.37 387.06 L436.97 388.41 L438.58 389.7 L440.19 390.92 L441.8 392.09 L443.4 393.2 L445.01 394.25 L446.62 395.23 L448.23 396.15 L449.83 397 L451.44 397.78 L453.05 398.49 L454.66 399.13 L456.26 399.7 L457.87 400.18 L459.48 400.59 L461.09 400.9 L462.69 401.11 L464.3 401.2 L465.91 401.11 L467.51 400.9 L469.12 400.59 L470.73 400.18 L472.34 399.7 L473.94 399.13 L475.55 398.49 L477.16 397.78 L478.77 397 L480.38 396.15 L481.98 395.23 L483.59 394.25 L485.2 393.2 L486.81 392.09 L488.41 390.92 L490.02 389.7 L491.63 388.41 L493.24 387.06 L494.84 385.66 L496.45 384.2 L498.06 382.68 L499.67 381.11 L501.27 379.49 L502.88 377.81 L504.49 376.08 L506.1 374.29 L507.7 372.46 L509.31 370.57 L510.92 368.63 L512.52 366.64 L514.13 364.59 L515.74 362.5 L517.35 360.36 L518.96 358.17 L520.56 355.93 L522.17 353.65 L523.78 351.31 L525.38 348.93 L526.99 346.5 L528.6 344.02 L530.21 341.49 L531.82 338.92 L533.42 336.3 L535.03 333.64 L536.64 330.93 L538.25 328.17 L539.85 325.37 L541.46 322.53 L543.07 319.63 L544.67 316.7 L546.28 313.72 L547.89 310.7 L549.5 307.63 L551.11 304.52 L552.71 301.36 L554.32 298.16 L555.93 294.92 L557.53 291.64 L559.14 288.31 L560.75 284.94 L562.36 281.53 L563.97 278.07 L565.57 274.58 L567.18 271.04 L568.79 267.46 L570.39 263.84 L572 260.18 L573.61 256.47 L575.22 252.73 L576.83 248.94 L578.43 245.11 L580.04 241.25" fill="none" stroke="#000000" stroke-width="5" stroke-linecap="butt" stroke-linejoin="round"/><rect x="346.06" y="238.75" width="5" height="5" fill="#000000"/><rect x="577.54" y="238.75" width="5" height="5" fill="#000000"/>
<path d="M348.56 241.25 L350.17 245.11 L351.78 248.94 L353.38 252.73 L354.99 256.47 L356.6 260.18 L358.21 263.84 L359.81 267.46 L361.42 271.04 L363.03 274.58 L364.63 278.07 L366.24 281.53 L367.85 284.94 L369.46 288.31 L371.06 291.64 L372.67 294.92 L374.28 298.16 L375.89 301.36 L377.5 304.52 L379.1 307.63 L380.71 310.7 L382.32 313.72 L383.93 316.7 L385.53 319.63 L387.14 322.53 L388.75 325.37 L390.36 328.17 L391.96 330.93 L393.57 333.64 L395.18 336.3 L396.79 338.92 L398.39 341.49 L400 344.02 L401.61 346.5 L403.22 348.93 L404.82 351.31 L406.43 353.65 L408.04 355.93 L409.64 358.17 L411.25 360.36 L412.86 362.5 L414.47 364.59 L416.08 366.64 L417.68 368.63 L419.29 370.57 L420.9 372.46 L422.5 374.29 L424.11 376.08 L425.72 377.81 L427.33 379.49 L428.94 381.11 L430.54 382.68 L432.15 384.2 L433.76 385.66 L435.37 387.06 L436.97 388.41 L438.58 389.7 L440.19 390.92 L441.8 392.09 L443.4 393.2 L445.01 394.25 L446.62 395.23 L448.23 396.15 L449.83 397 L451.44 397.78 L453.05 398.49 L454.66 399.13 L456.26 399.7 L457.87 400.18 L459.48 400.59 L461.09 400.9 L462.69 401.11 L464.3 401.2 L465.91 401.11 L467.51 400.9 L469.12 400.59 L470.73 400.18 L472.34 399.7 L473.94 399.13 L475.55 398.49 L477.16 397.78 L478.77 397 L480.38 396.15 L481.98 395.23 L483.59 394.25 L485.2 393.2 L486.81 392.09 L488.41 390.92 L490.02 389.7 L491.63 388.41 L493.24 387.06 L494.84 385.66 L496.45 384.2 L498.06 382.68 L499.67 381.11 L501.27 379.49 L502.88 377.81 L504.49 376.08 L506.1 374.29 L507.7 372.46 L509.31 370.57 L510.92 368.63 L512.52 366.64 L514.13 364.59 L515.74 362.5 L517.35 360.36 L518.96 358.17 L520.56 355.93 L522.17 353.65 L523.78 351.31 L525.38 348.93 L526.99 346.5 L528.6 344.02 L530.21 341.49 L531.82 338.92 L533.42 336.3 L535.03 333.64 L536.64 330.93 L538.25 328.17 L539.85 325.37 L541.46 322.53 L543.07 319.63 L544.67 316.7 L546.28 313.72 L547.89 310.7 L549.5 307.63 L551.11 304.52 L552.71 301.36 L554.32 298.16 L555.93 294.92 L557.53 291.64 L559.14 288.31 L560.75 284.94 L562.36 281.53 L563.97 278.07 L565.57 274.58 L567.18 271.04 L568.79 267.46 L570.39 263.84 L572 260.18 L573.61 256.47 L575.22 252.73 L576.83 248.94 L578.43 245.11 L580.04 241.25" fill="none" stroke="#ff0000" stroke-width="5" stroke-linecap="butt" stroke-linejoin="round"/><rect x="346.06" y="238.75" width="5" height="5" fill="#ff0000"/><rect x="577.54" y="238.75" width="5" height="5" fill="#ff0000"/>
<path d="M348.56 250.7 L350.17 254.34 L351.78 257.94 L353.38 261.5 L354.99 265.03 L356.6 268.51 L358.21 271.96 L359.81 275.37 L361.42 278.73 L363.03 282.06 L364.63 285.35 L366.24 288.6 L367.85 291.81 L369.46 294.98 L371.06 298.11 L372.67 301.2 L374.28 304.25 L375.89 307.26 L377.5 310.23 L379.1 313.16 L380.71 316.05 L382.32 318.89 L383.93 321.69 L385.53 324.46 L387.14 327.18 L388.75 329.85 L390.36 332.49 L391.96 335.08 L393.57 337.63 L395.18 340.14 L396.79 342.6 L398.39 345.02 L400 347.4 L401.61 349.73 L403.22 352.02 L404.82 354.26 L406.43 356.46 L408.04 358.61 L409.64 360.72 L411.25 362.78 L412.86 364.79 L414.47 366.76 L416.08 368.68 L417.68 370.55 L419.29 372.38 L420.9 374.16 L422.5 375.88 L424.11 377.56 L425.72 379.19 L427.33 380.77 L428.94 382.3 L430.54 383.78 L432.15 385.2 L433.76 386.58 L435.37 387.9 L436.97 389.16 L438.58 390.38 L440.19 391.53 L441.8 392.63 L443.4 393.67 L445.01 394.66 L446.62 395.58 L448.23 396.44 L449.83 397.25 L451.44 397.98 L453.05 398.65 L454.66 399.25 L456.26 399.79 L457.87 400.24 L459.48 400.62 L461.09 400.92 L462.69 401.12 L464.3 401.2 L465.91 401.12 L467.51 400.92 L469.12 400.62 L470.73 400.24 L472.34 399.79 L473.94 399.25 L475.55 398.65 L477.16 397.98 L478.77 397.25 L480.38 396.44 L481.98 395.58 L483.59 394.66 L485.2 393.67 L486.81 392.63 L488.41 391.53 L490.02 390.38 L491.63 389.16 L493.24 387.9 L494.84 386.58 L496.45 385.2 L498.06 383.78 L499.67 382.3 L501.27 380.77 L502.88 379.19 L504.49 377.56 L506.1 375.88 L507.7 374.16 L509.31 372.38 L510.92 370.55 L512.52 368.68 L514.13 366.76 L515.74 364.79 L517.35 362.78 L518.96 360.72 L520.56 358.61 L522.17 356.46 L523.78 354.26 L525.38 352.02 L526.99 349.73 L528.6 347.4 L530.21 345.02 L531.82 342.6 L533.42 340.14 L535.03 337.63 L536.64 335.08 L538.25 332.49 L539.85 329.85 L541.46 327.18 L543.07 324.46 L544.67 321.69 L546.28 318.89 L547.89 316.05 L549.5 313.16 L551.11 310.23 L552.71 307.26 L554.32 304.25 L555.93 301.2 L557.53 298.11 L559.14 294.98 L560.75 291.81 L562.36 288.6 L563.97 285.35 L565.57 282.06 L567.18 278.73 L568.79 275.37 L570.39 271.96 L572 268.51 L573.61 265.03 L575.22 261.5 L576.83 257.94 L578.43 254.34 L580.04 250.7" fill="none" stroke="#00ff00" stroke-width="5" stroke-linecap="butt" stroke-linejoin="round"/><rect x="346.06" y="248.2" width="5" height="5" fill="#00ff00"/><rect x="577.54" y="248.2" width="5" height="5" fill="#00ff00"/>
<path d="M348.56 269.41 L350.17 272.6 L351.78 275.75 L353.38 278.87 L354.99 281.96 L356.6 285.01 L358.21 288.03 L359.81 291.01 L361.42 293.96 L363.03 296.88 L364.63 299.76 L366.24 302.6 L367.85 305.41 L369.46 308.19 L371.06 310.93 L372.67 313.64 L374.28 316.31 L375.89 318.94 L377.5 321.54 L379.1 324.11 L380.71 326.63 L382.32 329.12 L383.93 331.58 L385.53 334 L387.14 336.38 L388.75 338.72 L390.36 341.03 L391.96 343.3 L393.57 345.54 L395.18 347.73 L396.79 349.89 L398.39 352.01 L400 354.09 L401.61 356.13 L403.22 358.13 L404.82 360.1 L406.43 362.02 L408.04 363.9 L409.64 365.75 L411.25 367.55 L412.86 369.32 L414.47 371.04 L416.08 372.72 L417.68 374.36 L419.29 375.96 L420.9 377.52 L422.5 379.03 L424.11 380.5 L425.72 381.93 L427.33 383.31 L428.94 384.65 L430.54 385.94 L432.15 387.19 L433.76 388.4 L435.37 389.55 L436.97 390.66 L438.58 391.72 L440.19 392.73 L441.8 393.7 L443.4 394.61 L445.01 395.47 L446.62 396.28 L448.23 397.04 L449.83 397.74 L451.44 398.38 L453.05 398.97 L454.66 399.5 L456.26 399.96 L457.87 400.36 L459.48 400.69 L461.09 400.95 L462.69 401.13 L464.3 401.2 L465.91 401.13 L467.51 400.95 L469.12 400.69 L470.73 400.36 L472.34 399.96 L473.94 399.5 L475.55 398.97 L477.16 398.38 L478.77 397.74 L480.38 397.04 L481.98 396.28 L483.59 395.47 L485.2 394.61 L486.81 393.7 L488.41 392.73 L490.02 391.72 L491.63 390.66 L493.24 389.55 L494.84 388.4 L496.45 387.19 L498.06 385.94 L499.67 384.65 L501.27 383.31 L502.88 381.93 L504.49 380.5 L506.1 379.03 L507.7 377.52 L509.31 375.96 L510.92 374.36 L512.52 372.72 L514.13 371.04 L515.74 369.32 L517.35 367.55 L518.96 365.75 L520.56 363.9 L522.17 362.02 L523.78 360.1 L525.38 358.13 L526.99 356.13 L528.6 354.09 L530.21 352.01 L531.82 349.89 L533.42 347.73 L535.03 345.54 L536.64 343.3 L538.25 341.03 L539.85 338.72 L541.46 336.38 L543.07 334 L544.67 331.58 L546.28 329.12 L547.89 326.63 L549.5 324.11 L551.11 321.54 L552.71 318.94 L554.32 316.31 L555.93 313.64 L557.53 310.93 L559.14 308.19 L560.75 305.41 L562.36 302.6 L563.97 299.76 L565.57 296.88 L567.18 293.96 L568.79 291.01 L570.39 288.03 L572 285.01 L573.61 281.96 L575.22 278.87 L576.83 275.75 L578.43 272.6 L580.04 269.41" fill="none" stroke="#0000ff" stroke-width="5" stroke-linecap="butt" stroke-linejoin="round"/><rect x="346.06" y="266.91" width="5" height="5" fill="#0000ff"/><rect x="577.54" y="266.91" width="5" height="5" fill="#0000ff"/>
<path d="M348.56 292.95 L350.17 295.57 L351.78 298.16 L353.38 300.72 L354.99 303.26 L356.6 305.76 L358.21 308.24 L359.81 310.69 L361.42 313.12 L363.03 315.51 L364.63 317.88 L366.24 320.21 L367.85 322.52 L369.46 324.8 L371.06 327.06 L372.67 329.28 L374.28 331.47 L375.89 333.64 L377.5 335.77 L379.1 337.88 L380.71 339.95 L382.32 342 L383.93 344.02 L385.53 346 L387.14 347.96 L388.75 349.88 L390.36 351.78 L391.96 353.64 L393.57 355.48 L395.18 357.28 L396.79 359.05 L398.39 360.79 L400 362.5 L401.61 364.18 L403.22 365.82 L404.82 367.44 L406.43 369.02 L408.04 370.57 L409.64 372.08 L411.25 373.56 L412.86 375.01 L414.47 376.43 L416.08 377.81 L417.68 379.16 L419.29 380.47 L420.9 381.75 L422.5 382.99 L424.11 384.2 L425.72 385.37 L427.33 386.51 L428.94 387.61 L430.54 388.67 L432.15 389.7 L433.76 390.68 L435.37 391.63 L436.97 392.54 L438.58 393.41 L440.19 394.25 L441.8 395.04 L443.4 395.79 L445.01 396.49 L446.62 397.16 L448.23 397.78 L449.83 398.36 L451.44 398.89 L453.05 399.37 L454.66 399.8 L456.26 400.18 L457.87 400.51 L459.48 400.78 L461.09 401 L462.69 401.14 L464.3 401.2 L465.91 401.14 L467.51 401 L469.12 400.78 L470.73 400.51 L472.34 400.18 L473.94 399.8 L475.55 399.37 L477.16 398.89 L478.77 398.36 L480.38 397.78 L481.98 397.16 L483.59 396.49 L485.2 395.79 L486.81 395.04 L488.41 394.25 L490.02 393.41 L491.63 392.54 L493.24 391.63 L494.84 390.68 L496.45 389.7 L498.06 388.67 L499.67 387.61 L501.27 386.51 L502.88 385.37 L504.49 384.2 L506.1 382.99 L507.7 381.75 L509.31 380.47 L510.92 379.16 L512.52 377.81 L514.13 376.43 L515.74 375.01 L517.35 373.56 L518.96 372.08 L520.56 370.57 L522.17 369.02 L523.78 367.44 L525.38 365.82 L526.99 364.18 L528.6 362.5 L530.21 360.79 L531.82 359.05 L533.42 357.28 L535.03 355.48 L536.64 353.64 L538.25 351.78 L539.85 349.88 L541.46 347.96 L543.07 346 L544.67 344.02 L546.28 342 L547.89 339.95 L549.5 337.88 L551.11 335.77 L552.71 333.64 L554.32 331.47 L555.93 329.28 L557.53 327.06 L559.14 324.8 L560.75 322.52 L562.36 320.21 L563.97 317.88 L565.57 315.51 L567.18 313.12 L568.79 310.69 L570.39 308.24 L572 305.76 L573.61 303.26 L575.22 300.72 L576.83 298.16 L578.43 295.57 L580.04 292.95" fill="none" stroke="#00ffff" stroke-width="5" stroke-linecap="butt" stroke-linejoin="round"/><rect x="346.06" y="290.45" width="5" height="5" fill="#00ffff"/><rect x="577.54" y="290.45" width="5" height="5" fill="#00ffff"/>
<path d="M348.56 312.47 L350.17 314.62 L351.78 316.74 L353.38 318.84 L354.99 320.92 L356.6 322.97 L358.21 325 L359.81 327.01 L361.42 329 L363.03 330.96 L364.63 332.9 L366.24 334.82 L367.85 336.71 L369.46 338.58 L371.06 340.42 L372.67 342.25 L374.28 344.04 L375.89 345.82 L377.5 347.57 L379.1 349.29 L380.71 351 L382.32 352.67 L383.93 354.33 L385.53 355.95 L387.14 357.56 L388.75 359.14 L390.36 360.69 L391.96 362.22 L393.57 363.72 L395.18 365.2 L396.79 366.65 L398.39 368.08 L400 369.48 L401.61 370.85 L403.22 372.2 L404.82 373.52 L406.43 374.82 L408.04 376.09 L409.64 377.33 L411.25 378.55 L412.86 379.73 L414.47 380.89 L416.08 382.03 L417.68 383.13 L419.29 384.21 L420.9 385.26 L422.5 386.27 L424.11 387.26 L425.72 388.23 L427.33 389.16 L428.94 390.06 L430.54 390.93 L432.15 391.77 L433.76 392.58 L435.37 393.36 L436.97 394.1 L438.58 394.82 L440.19 395.5 L441.8 396.15 L443.4 396.76 L445.01 397.34 L446.62 397.89 L448.23 398.4 L449.83 398.87 L451.44 399.3 L453.05 399.7 L454.66 400.05 L456.26 400.37 L457.87 400.64 L459.48 400.86 L461.09 401.03 L462.69 401.15 L464.3 401.2 L465.91 401.15 L467.51 401.03 L469.12 400.86 L470.73 400.64 L472.34 400.37 L473.94 400.05 L475.55 399.7 L477.16 399.3 L478.77 398.87 L480.38 398.4 L481.98 397.89 L483.59 397.34 L485.2 396.76 L486.81 396.15 L488.41 395.5 L490.02 394.82 L491.63 394.1 L493.24 393.36 L494.84 392.58 L496.45 391.77 L498.06 390.93 L499.67 390.06 L501.27 389.16 L502.88 388.23 L504.49 387.26 L506.1 386.27 L507.7 385.26 L509.31 384.21 L510.92 383.13 L512.52 382.03 L514.13 380.89 L515.74 379.73 L517.35 378.55 L518.96 377.33 L520.56 376.09 L522.17 374.82 L523.78 373.52 L525.38 372.2 L526.99 370.85 L528.6 369.48 L530.21 368.08 L531.82 366.65 L533.42 365.2 L535.03 363.72 L536.64 362.22 L538.25 360.69 L539.85 359.14 L541.46 357.56 L543.07 355.95 L544.67 354.33 L546.28 352.67 L547.89 351 L549.5 349.29 L551.11 347.57 L552.71 345.82 L554.32 344.04 L555.93 342.25 L557.53 340.42 L559.14 338.58 L560.75 336.71 L562.36 334.82 L563.97 332.9 L565.57 330.96 L567.18 329 L568.79 327.01 L570.39 325 L572 322.97 L573.61 320.92 L575.22 318.84 L576.83 316.74 L578.43 314.62 L580.04 312.47" fill="none" stroke="#ff00ff" stroke-width="5" stroke-linecap="butt" stroke-linejoin="round"/><rect x="346.06" y="309.97" width="5" height="5" fill="#ff00ff"/><rect x="577.54" y="309.97" width="5" height="5" fill="#ff00ff"/>
<path d="M348.56 326.55 L350.17 328.36 L351.78 330.15 L353.38 331.91 L354.99 333.66 L356.6 335.39 L358.21 337.1 L359.81 338.79 L361.42 340.46 L363.03 342.11 L364.63 343.74 L366.24 345.35 L367.85 346.95 L369.46 348.52 L371.06 350.07 L372.67 351.6 L374.28 353.12 L375.89 354.61 L377.5 356.08 L379.1 357.53 L380.71 358.96 L382.32 360.38 L383.93 361.77 L385.53 363.14 L387.14 364.49 L388.75 365.81 L390.36 367.12 L391.96 368.41 L393.57 369.67 L395.18 370.91 L396.79 372.14 L398.39 373.34 L400 374.51 L401.61 375.67 L403.22 376.81 L404.82 377.92 L406.43 379.01 L408.04 380.08 L409.64 381.12 L411.25 382.14 L412.86 383.14 L414.47 384.12 L416.08 385.07 L417.68 386 L419.29 386.9 L420.9 387.79 L422.5 388.64 L424.11 389.48 L425.72 390.28 L427.33 391.07 L428.94 391.83 L430.54 392.56 L432.15 393.27 L433.76 393.95 L435.37 394.6 L436.97 395.23 L438.58 395.83 L440.19 396.4 L441.8 396.95 L443.4 397.47 L445.01 397.95 L446.62 398.41 L448.23 398.84 L449.83 399.24 L451.44 399.6 L453.05 399.94 L454.66 400.24 L456.26 400.5 L457.87 400.73 L459.48 400.91 L461.09 401.06 L462.69 401.16 L464.3 401.2 L465.91 401.16 L467.51 401.06 L469.12 400.91 L470.73 400.73 L472.34 400.5 L473.94 400.24 L475.55 399.94 L477.16 399.6 L478.77 399.24 L480.38 398.84 L481.98 398.41 L483.59 397.95 L485.2 397.47 L486.81 396.95 L488.41 396.4 L490.02 395.83 L491.63 395.23 L493.24 394.6 L494.84 393.95 L496.45 393.27 L498.06 392.56 L499.67 391.83 L501.27 391.07 L502.88 390.28 L504.49 389.48 L506.1 388.64 L507.7 387.79 L509.31 386.9 L510.92 386 L512.52 385.07 L514.13 384.12 L515.74 383.14 L517.35 382.14 L518.96 381.12 L520.56 380.08 L522.17 379.01 L523.78 377.92 L525.38 376.81 L526.99 375.67 L528.6 374.51 L530.21 373.34 L531.82 372.14 L533.42 370.91 L535.03 369.67 L536.64 368.41 L538.25 367.12 L539.85 365.81 L541.46 364.49 L543.07 363.14 L544.67 361.77 L546.28 360.38 L547.89 358.96 L549.5 357.53 L551.11 356.08 L552.71 354.61 L554.32 353.12 L555.93 351.6 L557.53 350.07 L559.14 348.52 L560.75 346.95 L562.36 345.35 L563.97 343.74 L565.57 342.11 L567.18 340.46 L568.79 338.79 L570.39 337.1 L572 335.39 L573.61 333.66 L575.22 331.91 L576.83 330.15 L578.43 328.36 L580.04 326.55" fill="none" stroke="#ffff00" stroke-width="5" stroke-linecap="butt" stroke-linejoin="round"/><rect x="346.06" y="324.05" width="5" height="5" fill="#ffff00"/><rect x="577.54" y="324.05" width="5" height="5" fill="#ffff00"/>
<path d="M348.56 353.31 L350.17 354.47 L351.78 355.62 L353.38 356.75 L354.99 357.87 L356.6 358.98 L358.21 360.08 L359.81 361.16 L361.42 362.23 L363.03 363.29 L364.63 364.34 L366.24 365.37 L367.85 366.4 L369.46 367.4 L371.06 368.4 L372.67 369.38 L374.28 370.35 L375.89 371.31 L377.5 372.26 L379.1 373.19 L380.71 374.11 L382.32 375.01 L383.93 375.9 L385.53 376.78 L387.14 377.65 L388.75 378.5 L390.36 379.34 L391.96 380.16 L393.57 380.97 L395.18 381.77 L396.79 382.56 L398.39 383.33 L400 384.08 L401.61 384.82 L403.22 385.55 L404.82 386.26 L406.43 386.96 L408.04 387.65 L409.64 388.32 L411.25 388.97 L412.86 389.62 L414.47 390.24 L416.08 390.85 L417.68 391.45 L419.29 392.03 L420.9 392.59 L422.5 393.14 L424.11 393.68 L425.72 394.2 L427.33 394.7 L428.94 395.19 L430.54 395.66 L432.15 396.11 L433.76 396.55 L435.37 396.97 L436.97 397.37 L438.58 397.76 L440.19 398.12 L441.8 398.47 L443.4 398.81 L445.01 399.12 L446.62 399.41 L448.23 399.69 L449.83 399.94 L451.44 400.18 L453.05 400.39 L454.66 400.58 L456.26 400.75 L457.87 400.9 L459.48 401.02 L461.09 401.11 L462.69 401.17 L464.3 401.2 L465.91 401.17 L467.51 401.11 L469.12 401.02 L470.73 400.9 L472.34 400.75 L473.94 400.58 L475.55 400.39 L477.16 400.18 L478.77 399.94 L480.38 399.69 L481.98 399.41 L483.59 399.12 L485.2 398.81 L486.81 398.47 L488.41 398.12 L490.02 397.76 L491.63 397.37 L493.24 396.97 L494.84 396.55 L496.45 396.11 L498.06 395.66 L499.67 395.19 L501.27 394.7 L502.88 394.2 L504.49 393.68 L506.1 393.14 L507.7 392.59 L509.31 392.03 L510.92 391.45 L512.52 390.85 L514.13 390.24 L515.74 389.62 L517.35 388.97 L518.96 388.32 L520.56 387.65 L522.17 386.96 L523.78 386.26 L525.38 385.55 L526.99 384.82 L528.6 384.08 L530.21 383.33 L531.82 382.56 L533.42 381.77 L535.03 380.97 L536.64 380.16 L538.25 379.34 L539.85 378.5 L541.46 377.65 L543.07 376.78 L544.67 375.9 L546.28 375.01 L547.89 374.11 L549.5 373.19 L551.11 372.26 L552.71 371.31 L554.32 370.35 L555.93 369.38 L557.53 368.4 L559.14 367.4 L560.75 366.4 L562.36 365.37 L563.97 364.34 L565.57 363.29 L567.18 362.23 L568.79 361.16 L570.39 360.08 L572 358.98 L573.61 357.87 L575.22 356.75 L576.83 355.62 L578.43 354.47 L580.04 353.31" fill="none" stroke="#808000" stroke-width="5" stroke-linecap="butt" stroke-linejoin="round"/><rect x="346.06" y="350.81" width="5" height="5" fill="#808000"/><rect x="577.54" y="350.81" width="5" height="5" fill="#808000"/>
<path d="M348.56 369.01 L350.17 369.79 L351.78 370.56 L353.38 371.32 L354.99 372.07 L356.6 372.82 L358.21 373.55 L359.81 374.28 L361.42 375 L363.03 375.72 L364.63 376.42 L366.24 377.12 L367.85 377.8 L369.46 378.48 L371.06 379.15 L372.67 379.81 L374.28 380.46 L375.89 381.11 L377.5 381.74 L379.1 382.37 L380.71 382.99 L382.32 383.59 L383.93 384.19 L385.53 384.78 L387.14 385.37 L388.75 385.94 L390.36 386.5 L391.96 387.06 L393.57 387.6 L395.18 388.14 L396.79 388.67 L398.39 389.18 L400 389.69 L401.61 390.19 L403.22 390.68 L404.82 391.16 L406.43 391.63 L408.04 392.09 L409.64 392.54 L411.25 392.98 L412.86 393.41 L414.47 393.83 L416.08 394.24 L417.68 394.64 L419.29 395.03 L420.9 395.42 L422.5 395.78 L424.11 396.14 L425.72 396.49 L427.33 396.83 L428.94 397.16 L430.54 397.47 L432.15 397.78 L433.76 398.07 L435.37 398.35 L436.97 398.63 L438.58 398.88 L440.19 399.13 L441.8 399.37 L443.4 399.59 L445.01 399.8 L446.62 400 L448.23 400.18 L449.83 400.35 L451.44 400.51 L453.05 400.66 L454.66 400.78 L456.26 400.9 L457.87 401 L459.48 401.08 L461.09 401.14 L462.69 401.18 L464.3 401.2 L465.91 401.18 L467.51 401.14 L469.12 401.08 L470.73 401 L472.34 400.9 L473.94 400.78 L475.55 400.66 L477.16 400.51 L478.77 400.35 L480.38 400.18 L481.98 400 L483.59 399.8 L485.2 399.59 L486.81 399.37 L488.41 399.13 L490.02 398.88 L491.63 398.63 L493.24 398.35 L494.84 398.07 L496.45 397.78 L498.06 397.47 L499.67 397.16 L501.27 396.83 L502.88 396.49 L504.49 396.14 L506.1 395.78 L507.7 395.42 L509.31 395.03 L510.92 394.64 L512.52 394.24 L514.13 393.83 L515.74 393.41 L517.35 392.98 L518.96 392.54 L520.56 392.09 L522.17 391.63 L523.78 391.16 L525.38 390.68 L526.99 390.19 L528.6 389.69 L530.21 389.18 L531.82 388.67 L533.42 388.14 L535.03 387.6 L536.64 387.06 L538.25 386.5 L539.85 385.94 L541.46 385.37 L543.07 384.78 L544.67 384.19 L546.28 383.59 L547.89 382.99 L549.5 382.37 L551.11 381.74 L552.71 381.11 L554.32 380.46 L555.93 379.81 L557.53 379.15 L559.14 378.48 L560.75 377.8 L562.36 377.12 L563.97 376.42 L565.57 375.72 L567.18 375 L568.79 374.28 L570.39 373.55 L572 372.82 L573.61 372.07 L575.22 371.32 L576.83 370.56 L578.43 369.79 L580.04 369.01" fill="none" stroke="#800080" stroke-width="5" stroke-linecap="butt" stroke-linejoin="round"/><rect x="346.06" y="366.51" width="5" height="5" fill="#800080"/><rect x="577.54" y="366.51" width="5" height="5" fill="#800080"/>
<path d="M348.56 385.1 L350.17 385.49 L351.78 385.88 L353.38 386.26 L354.99 386.64 L356.6 387.01 L358.21 387.38 L359.81 387.74 L361.42 388.1 L363.03 388.46 L364.63 388.81 L366.24 389.16 L367.85 389.5 L369.46 389.84 L371.06 390.17 L372.67 390.51 L374.28 390.83 L375.89 391.15 L377.5 391.47 L379.1 391.78 L380.71 392.09 L382.32 392.4 L383.93 392.7 L385.53 392.99 L387.14 393.28 L388.75 393.57 L390.36 393.85 L391.96 394.13 L393.57 394.4 L395.18 394.67 L396.79 394.93 L398.39 395.19 L400 395.45 L401.61 395.7 L403.22 395.94 L404.82 396.18 L406.43 396.41 L408.04 396.64 L409.64 396.87 L411.25 397.09 L412.86 397.31 L414.47 397.52 L416.08 397.72 L417.68 397.92 L419.29 398.12 L420.9 398.31 L422.5 398.49 L424.11 398.67 L425.72 398.85 L427.33 399.02 L428.94 399.18 L430.54 399.34 L432.15 399.49 L433.76 399.64 L435.37 399.78 L436.97 399.91 L438.58 400.04 L440.19 400.17 L441.8 400.28 L443.4 400.4 L445.01 400.5 L446.62 400.6 L448.23 400.69 L449.83 400.78 L451.44 400.86 L453.05 400.93 L454.66 400.99 L456.26 401.05 L457.87 401.1 L459.48 401.14 L461.09 401.17 L462.69 401.19 L464.3 401.2 L465.91 401.19 L467.51 401.17 L469.12 401.14 L470.73 401.1 L472.34 401.05 L473.94 400.99 L475.55 400.93 L477.16 400.86 L478.77 400.78 L480.38 400.69 L481.98 400.6 L483.59 400.5 L485.2 400.4 L486.81 400.28 L488.41 400.17 L490.02 400.04 L491.63 399.91 L493.24 399.78 L494.84 399.64 L496.45 399.49 L498.06 399.34 L499.67 399.18 L501.27 399.02 L502.88 398.85 L504.49 398.67 L506.1 398.49 L507.7 398.31 L509.31 398.12 L510.92 397.92 L512.52 397.72 L514.13 397.52 L515.74 397.31 L517.35 397.09 L518.96 396.87 L520.56 396.64 L522.17 396.41 L523.78 396.18 L525.38 395.94 L526.99 395.7 L528.6 395.45 L530.21 395.19 L531.82 394.93 L533.42 394.67 L535.03 394.4 L536.64 394.13 L538.25 393.85 L539.85 393.57 L541.46 393.28 L543.07 392.99 L544.67 392.7 L546.28 392.4 L547.89 392.09 L549.5 391.78 L551.11 391.47 L552.71 391.15 L554.32 390.83 L555.93 390.51 L557.53 390.17 L559.14 389.84 L560.75 389.5 L562.36 389.16 L563.97 388.81 L565.57 388.46 L567.18 388.1 L568.79 387.74 L570.39 387.38 L572 387.01 L573.61 386.64 L575.22 386.26 L576.83 385.88 L578.43 385.49 L580.04 385.1" fill="none" stroke="#008000" stroke-width="5" stroke-linecap="butt" stroke-linejoin="round"/><rect x="346.06" y="382.6" width="5" height="5" fill="#008000"/><rect x="577.54" y="382.6" width="5" height="5" fill="#008000"/>
<path d="M361.42 411.2 V408.2 M361.42 230.3 V233.3 M387.14 411.2 V408.2 M387.14 230.3 V233.3 M412.86 411.2 V408.2 M412.86 230.3 V233.3 M438.58 411.2 V408.2 M438.58 230.3 V233.3 M464.3 411.2 V408.2 M464.3 230.3 V233.3 M490.02 411.2 V408.2 M490.02 230.3 V233.3 M515.74 411.2 V408.2 M515.74 230.3 V233.3 M541.46 411.2 V408.2 M541.46 230.3 V233.3 M567.18 411.2 V408.2 M567.18 230.3 V233.3 M348.56 411.2 V409.6 M348.56 230.3 V231.9 M374.28 411.2 V409.6 M374.28 230.3 V231.9 M400 411.2 V409.6 M400 230.3 V231.9 M425.72 411.2 V409.6 M425.72 230.3 V231.9 M451.44 411.2 V409.6 M451.44 230.3 V231.9 M477.16 411.2 V409.6 M477.16 230.3 V231.9 M502.88 411.2 V409.6 M502.88 230.3 V231.9 M528.6 411.2 V409.6 M528.6 230.3 V231.9 M554.32 411.2 V409.6 M554.32 230.3 V231.9 M580.04 411.2 V409.6 M580.04 230.3 V231.9 M341.9 401.2 H344.9 M586.6 401.2 H583.6 M341.9 360.96 H344.9 M586.6 360.96 H583.6 M341.9 320.72 H344.9 M586.6 320.72 H583.6 M341.9 280.48 H344.9 M586.6 280.48 H583.6 M341.9 240.24 H344.9 M586.6 240.24 H583.6 M341.9 381.08 H343.5 M586.6 381.08 H585 M341.9 340.84 H343.5 M586.6 340.84 H585 M341.9 300.6 H343.5 M586.6 300.6 H585 M341.9 260.36 H343.5 M586.6 260.36 H585" stroke="#444" stroke-width="1" fill="none"/>
<rect x="341.9" y="230.3" width="244.7" height="180.9" fill="none" stroke="#444" stroke-width="1.05"/>
<text x="361.42" y="422.3" font-size="8.5" text-anchor="middle" fill="#222" stroke="#222" stroke-width="0.15">-8</text>
<text x="387.14" y="422.3" font-size="8.5" text-anchor="middle" fill="#222" stroke="#222" stroke-width="0.15">-6</text>
<text x="412.86" y="422.3" font-size="8.5" text-anchor="middle" fill="#222" stroke="#222" stroke-width="0.15">-4</text>
<text x="438.58" y="422.3" font-size="8.5" text-anchor="middle" fill="#222" stroke="#222" stroke-width="0.15">-2</text>
<text x="464.3" y="422.3" font-size="8.5" text-anchor="middle" fill="#222" stroke="#222" stroke-width="0.15">0</text>
<text x="490.02" y="422.3" font-size="8.5" text-anchor="middle" fill="#222" stroke="#222" stroke-width="0.15">2</text>
<text x="515.74" y="422.3" font-size="8.5" text-anchor="middle" fill="#222" stroke="#222" stroke-width="0.15">4</text>
<text x="541.46" y="422.3" font-size="8.5" text-anchor="middle" fill="#222" stroke="#222" stroke-width="0.15">6</text>
<text x="567.18" y="422.3" font-size="8.5" text-anchor="middle" fill="#222" stroke="#222" stroke-width="0.15">8</text>
<text x="337.4" y="404.2" font-size="8.5" text-anchor="end" fill="#222" stroke="#222" stroke-width="0.15">0</text>
<text x="337.4" y="363.96" font-size="8.5" text-anchor="end" fill="#222" stroke="#222" stroke-width="0.15">2</text>
<text x="337.4" y="323.72" font-size="8.5" text-anchor="end" fill="#222" stroke="#222" stroke-width="0.15">4</text>
<text x="337.4" y="283.48" font-size="8.5" text-anchor="end" fill="#222" stroke="#222" stroke-width="0.15">6</text>
<text x="337.4" y="243.24" font-size="8.5" text-anchor="end" fill="#222" stroke="#222" stroke-width="0.15">8</text>
<text x="464.3" y="438.6" font-size="9.5" text-anchor="middle" fill="#222" stroke="#222" stroke-width="0.15">B (T)</text>
<text x="326.5" y="327.4" font-size="9.5" text-anchor="middle" fill="#222" stroke="#222" stroke-width="0.15" transform="rotate(-90 326.5 327.4)">MR (%)</text>
<text x="309.2" y="239.7" font-size="12.8" text-anchor="start" fill="#222" stroke="#222" stroke-width="0.15">(d)</text>
<text x="360.6" y="248.4" font-size="8.3" text-anchor="start" fill="#ff0000" stroke="#ff0000" stroke-width="0.15">With AA</text>
<rect x="588.0" y="229.4" width="46.3" height="112.7" fill="#fff" stroke="#777" stroke-width="0.9"/>
<rect x="598.3" y="234.9" width="3.4" height="3.4" fill="#000000"/>
<text x="612.6" y="239.6" font-size="8.4" text-anchor="start" fill="#222" stroke="#222" stroke-width="0.15">2K</text>
<rect x="598.3" y="246.02" width="3.4" height="3.4" fill="#ff0000"/>
<text x="612.6" y="250.72" font-size="8.4" text-anchor="start" fill="#222" stroke="#222" stroke-width="0.15">10K</text>
<rect x="598.3" y="257.14" width="3.4" height="3.4" fill="#00ff00"/>
<text x="612.6" y="261.84" font-size="8.4" text-anchor="start" fill="#222" stroke="#222" stroke-width="0.15">30K</text>
<rect x="598.3" y="268.26" width="3.4" height="3.4" fill="#0000ff"/>
<text x="612.6" y="272.96" font-size="8.4" text-anchor="start" fill="#222" stroke="#222" stroke-width="0.15">50K</text>
<rect x="598.3" y="279.38" width="3.4" height="3.4" fill="#00ffff"/>
<text x="612.6" y="284.08" font-size="8.4" text-anchor="start" fill="#222" stroke="#222" stroke-width="0.15">70K</text>
<rect x="598.3" y="290.5" width="3.4" height="3.4" fill="#ff00ff"/>
<text x="612.6" y="295.2" font-size="8.4" text-anchor="start" fill="#222" stroke="#222" stroke-width="0.15">90K</text>
<rect x="598.3" y="301.62" width="3.4" height="3.4" fill="#ffff00"/>
<text x="612.6" y="306.32" font-size="8.4" text-anchor="start" fill="#222" stroke="#222" stroke-width="0.15">110K</text>
<rect x="598.3" y="312.74" width="3.4" height="3.4" fill="#808000"/>
<text x="612.6" y="317.44" font-size="8.4" text-anchor="start" fill="#222" stroke="#222" stroke-width="0.15">150K</text>
<rect x="598.3" y="323.86" width="3.4" height="3.4" fill="#800080"/>
<text x="612.6" y="328.56" font-size="8.4" text-anchor="start" fill="#222" stroke="#222" stroke-width="0.15">200K</text>
<rect x="598.3" y="334.98" width="3.4" height="3.4" fill="#008000"/>
<text x="612.6" y="339.68" font-size="8.4" text-anchor="start" fill="#222" stroke="#222" stroke-width="0.15">300K</text>
<rect x="407.9" y="242" width="114.9" height="84.8" fill="#fff"/>
<path d="M412.77 247.32 L413.49 249.11 L414.22 250.87 L414.95 252.62 L415.67 254.35 L416.4 256.05 L417.12 257.74 L417.85 259.41 L418.57 261.07 L419.3 262.7 L420.02 264.31 L420.75 265.9 L421.47 267.48 L422.2 269.03 L422.92 270.57 L423.65 272.08 L424.38 273.58 L425.1 275.05 L425.83 276.51 L426.55 277.94 L427.28 279.36 L428 280.75 L428.73 282.13 L429.45 283.48 L430.18 284.81 L430.9 286.13 L431.63 287.42 L432.36 288.69 L433.08 289.94 L433.81 291.17 L434.53 292.37 L435.26 293.56 L435.98 294.73 L436.71 295.87 L437.43 296.99 L438.16 298.09 L438.88 299.17 L439.61 300.22 L440.34 301.25 L441.06 302.26 L441.79 303.25 L442.51 304.22 L443.24 305.16 L443.96 306.08 L444.69 306.97 L445.41 307.84 L446.14 308.69 L446.86 309.51 L447.59 310.31 L448.32 311.09 L449.04 311.84 L449.77 312.56 L450.49 313.26 L451.22 313.93 L451.94 314.58 L452.67 315.2 L453.39 315.79 L454.12 316.36 L454.84 316.9 L455.57 317.41 L456.29 317.89 L457.02 318.35 L457.75 318.77 L458.47 319.16 L459.2 319.52 L459.92 319.85 L460.65 320.15 L461.37 320.41 L462.1 320.63 L462.82 320.82 L463.55 320.96 L464.27 321.06 L465 321.1 L465.73 321.06 L466.45 320.96 L467.18 320.82 L467.9 320.63 L468.63 320.41 L469.35 320.15 L470.08 319.85 L470.8 319.52 L471.53 319.16 L472.25 318.77 L472.98 318.35 L473.71 317.89 L474.43 317.41 L475.16 316.9 L475.88 316.36 L476.61 315.79 L477.33 315.2 L478.06 314.58 L478.78 313.93 L479.51 313.26 L480.23 312.56 L480.96 311.84 L481.68 311.09 L482.41 310.31 L483.14 309.51 L483.86 308.69 L484.59 307.84 L485.31 306.97 L486.04 306.08 L486.76 305.16 L487.49 304.22 L488.21 303.25 L488.94 302.26 L489.66 301.25 L490.39 300.22 L491.12 299.17 L491.84 298.09 L492.57 296.99 L493.29 295.87 L494.02 294.73 L494.74 293.56 L495.47 292.37 L496.19 291.17 L496.92 289.94 L497.64 288.69 L498.37 287.42 L499.1 286.13 L499.82 284.81 L500.55 283.48 L501.27 282.13 L502 280.75 L502.72 279.36 L503.45 277.94 L504.17 276.51 L504.9 275.05 L505.62 273.58 L506.35 272.08 L507.08 270.57 L507.8 269.03 L508.53 267.48 L509.25 265.9 L509.98 264.31 L510.7 262.7 L511.43 261.07 L512.15 259.41 L512.88 257.74 L513.6 256.05 L514.33 254.35 L515.05 252.62 L515.78 250.87 L516.51 249.11 L517.23 247.32" fill="none" stroke="#000000" stroke-width="4" stroke-linecap="butt" stroke-linejoin="round"/><rect x="410.77" y="245.32" width="4" height="4" fill="#000000"/><rect x="515.23" y="245.32" width="4" height="4" fill="#000000"/>
<path d="M412.77 247.32 L413.49 249.11 L414.22 250.87 L414.95 252.62 L415.67 254.35 L416.4 256.05 L417.12 257.74 L417.85 259.41 L418.57 261.07 L419.3 262.7 L420.02 264.31 L420.75 265.9 L421.47 267.48 L422.2 269.03 L422.92 270.57 L423.65 272.08 L424.38 273.58 L425.1 275.05 L425.83 276.51 L426.55 277.94 L427.28 279.36 L428 280.75 L428.73 282.13 L429.45 283.48 L430.18 284.81 L430.9 286.13 L431.63 287.42 L432.36 288.69 L433.08 289.94 L433.81 291.17 L434.53 292.37 L435.26 293.56 L435.98 294.73 L436.71 295.87 L437.43 296.99 L438.16 298.09 L438.88 299.17 L439.61 300.22 L440.34 301.25 L441.06 302.26 L441.79 303.25 L442.51 304.22 L443.24 305.16 L443.96 306.08 L444.69 306.97 L445.41 307.84 L446.14 308.69 L446.86 309.51 L447.59 310.31 L448.32 311.09 L449.04 311.84 L449.77 312.56 L450.49 313.26 L451.22 313.93 L451.94 314.58 L452.67 315.2 L453.39 315.79 L454.12 316.36 L454.84 316.9 L455.57 317.41 L456.29 317.89 L457.02 318.35 L457.75 318.77 L458.47 319.16 L459.2 319.52 L459.92 319.85 L460.65 320.15 L461.37 320.41 L462.1 320.63 L462.82 320.82 L463.55 320.96 L464.27 321.06 L465 321.1 L465.73 321.06 L466.45 320.96 L467.18 320.82 L467.9 320.63 L468.63 320.41 L469.35 320.15 L470.08 319.85 L470.8 319.52 L471.53 319.16 L472.25 318.77 L472.98 318.35 L473.71 317.89 L474.43 317.41 L475.16 316.9 L475.88 316.36 L476.61 315.79 L477.33 315.2 L478.06 314.58 L478.78 313.93 L479.51 313.26 L480.23 312.56 L480.96 311.84 L481.68 311.09 L482.41 310.31 L483.14 309.51 L483.86 308.69 L484.59 307.84 L485.31 306.97 L486.04 306.08 L486.76 305.16 L487.49 304.22 L488.21 303.25 L488.94 302.26 L489.66 301.25 L490.39 300.22 L491.12 299.17 L491.84 298.09 L492.57 296.99 L493.29 295.87 L494.02 294.73 L494.74 293.56 L495.47 292.37 L496.19 291.17 L496.92 289.94 L497.64 288.69 L498.37 287.42 L499.1 286.13 L499.82 284.81 L500.55 283.48 L501.27 282.13 L502 280.75 L502.72 279.36 L503.45 277.94 L504.17 276.51 L504.9 275.05 L505.62 273.58 L506.35 272.08 L507.08 270.57 L507.8 269.03 L508.53 267.48 L509.25 265.9 L509.98 264.31 L510.7 262.7 L511.43 261.07 L512.15 259.41 L512.88 257.74 L513.6 256.05 L514.33 254.35 L515.05 252.62 L515.78 250.87 L516.51 249.11 L517.23 247.32" fill="none" stroke="#ff0000" stroke-width="4" stroke-linecap="butt" stroke-linejoin="round"/><rect x="410.77" y="245.32" width="4" height="4" fill="#ff0000"/><rect x="515.23" y="245.32" width="4" height="4" fill="#ff0000"/>
<path d="M413.76 251.69 L414.47 253.36 L415.18 255.02 L415.89 256.67 L416.61 258.29 L417.32 259.9 L418.03 261.49 L418.74 263.06 L419.45 264.62 L420.17 266.15 L420.88 267.67 L421.59 269.17 L422.3 270.65 L423.01 272.11 L423.72 273.55 L424.44 274.98 L425.15 276.39 L425.86 277.77 L426.57 279.14 L427.28 280.49 L427.99 281.82 L428.7 283.14 L429.42 284.43 L430.13 285.7 L430.84 286.96 L431.55 288.19 L432.26 289.41 L432.98 290.6 L433.69 291.78 L434.4 292.94 L435.11 294.07 L435.82 295.19 L436.53 296.28 L437.25 297.36 L437.96 298.41 L438.67 299.45 L439.38 300.46 L440.09 301.46 L440.8 302.43 L441.51 303.38 L442.23 304.31 L442.94 305.21 L443.65 306.1 L444.36 306.96 L445.07 307.81 L445.79 308.63 L446.5 309.42 L447.21 310.2 L447.92 310.95 L448.63 311.68 L449.34 312.38 L450.06 313.06 L450.77 313.72 L451.48 314.36 L452.19 314.96 L452.9 315.55 L453.61 316.11 L454.32 316.64 L455.04 317.15 L455.75 317.63 L456.46 318.08 L457.17 318.51 L457.88 318.91 L458.6 319.28 L459.31 319.62 L460.02 319.92 L460.73 320.2 L461.44 320.45 L462.15 320.66 L462.87 320.83 L463.58 320.97 L464.29 321.06 L465 321.1 L465.71 321.06 L466.42 320.97 L467.13 320.83 L467.85 320.66 L468.56 320.45 L469.27 320.2 L469.98 319.92 L470.69 319.62 L471.4 319.28 L472.12 318.91 L472.83 318.51 L473.54 318.08 L474.25 317.63 L474.96 317.15 L475.68 316.64 L476.39 316.11 L477.1 315.55 L477.81 314.96 L478.52 314.36 L479.23 313.72 L479.94 313.06 L480.66 312.38 L481.37 311.68 L482.08 310.95 L482.79 310.2 L483.5 309.42 L484.21 308.63 L484.93 307.81 L485.64 306.96 L486.35 306.1 L487.06 305.21 L487.77 304.31 L488.49 303.38 L489.2 302.43 L489.91 301.46 L490.62 300.46 L491.33 299.45 L492.04 298.41 L492.75 297.36 L493.47 296.28 L494.18 295.19 L494.89 294.07 L495.6 292.94 L496.31 291.78 L497.02 290.6 L497.74 289.41 L498.45 288.19 L499.16 286.96 L499.87 285.7 L500.58 284.43 L501.3 283.14 L502.01 281.82 L502.72 280.49 L503.43 279.14 L504.14 277.77 L504.85 276.39 L505.56 274.98 L506.28 273.55 L506.99 272.11 L507.7 270.65 L508.41 269.17 L509.12 267.67 L509.83 266.15 L510.55 264.62 L511.26 263.06 L511.97 261.49 L512.68 259.9 L513.39 258.29 L514.11 256.67 L514.82 255.02 L515.53 253.36 L516.24 251.69" fill="none" stroke="#00ff00" stroke-width="4" stroke-linecap="butt" stroke-linejoin="round"/><rect x="411.76" y="249.69" width="4" height="4" fill="#00ff00"/><rect x="514.24" y="249.69" width="4" height="4" fill="#00ff00"/>
<path d="M415.59 260.32 L416.28 261.79 L416.96 263.24 L417.65 264.68 L418.33 266.1 L419.02 267.51 L419.71 268.9 L420.39 270.28 L421.08 271.64 L421.77 272.98 L422.45 274.31 L423.14 275.62 L423.82 276.92 L424.51 278.2 L425.2 279.47 L425.88 280.71 L426.57 281.95 L427.26 283.16 L427.94 284.36 L428.63 285.54 L429.31 286.71 L430 287.86 L430.69 288.99 L431.37 290.1 L432.06 291.2 L432.75 292.28 L433.43 293.35 L434.12 294.4 L434.81 295.43 L435.49 296.44 L436.18 297.43 L436.86 298.41 L437.55 299.37 L438.24 300.31 L438.92 301.24 L439.61 302.14 L440.3 303.03 L440.98 303.9 L441.67 304.75 L442.35 305.58 L443.04 306.39 L443.73 307.19 L444.41 307.97 L445.1 308.72 L445.79 309.46 L446.47 310.18 L447.16 310.88 L447.84 311.55 L448.53 312.21 L449.22 312.85 L449.9 313.47 L450.59 314.06 L451.27 314.64 L451.96 315.19 L452.65 315.73 L453.33 316.24 L454.02 316.73 L454.71 317.2 L455.39 317.64 L456.08 318.06 L456.76 318.46 L457.45 318.83 L458.14 319.18 L458.82 319.5 L459.51 319.8 L460.2 320.07 L460.88 320.31 L461.57 320.53 L462.25 320.71 L462.94 320.87 L463.63 320.99 L464.31 321.07 L465 321.1 L465.69 321.07 L466.37 320.99 L467.06 320.87 L467.75 320.71 L468.43 320.53 L469.12 320.31 L469.8 320.07 L470.49 319.8 L471.18 319.5 L471.86 319.18 L472.55 318.83 L473.24 318.46 L473.92 318.06 L474.61 317.64 L475.29 317.2 L475.98 316.73 L476.67 316.24 L477.35 315.73 L478.04 315.19 L478.73 314.64 L479.41 314.06 L480.1 313.47 L480.78 312.85 L481.47 312.21 L482.16 311.55 L482.84 310.88 L483.53 310.18 L484.21 309.46 L484.9 308.72 L485.59 307.97 L486.27 307.19 L486.96 306.39 L487.65 305.58 L488.33 304.75 L489.02 303.9 L489.7 303.03 L490.39 302.14 L491.08 301.24 L491.76 300.31 L492.45 299.37 L493.14 298.41 L493.82 297.43 L494.51 296.44 L495.19 295.43 L495.88 294.4 L496.57 293.35 L497.25 292.28 L497.94 291.2 L498.63 290.1 L499.31 288.99 L500 287.86 L500.69 286.71 L501.37 285.54 L502.06 284.36 L502.74 283.16 L503.43 281.95 L504.12 280.71 L504.8 279.47 L505.49 278.2 L506.18 276.92 L506.86 275.62 L507.55 274.31 L508.23 272.98 L508.92 271.64 L509.61 270.28 L510.29 268.9 L510.98 267.51 L511.67 266.1 L512.35 264.68 L513.04 263.24 L513.72 261.79 L514.41 260.32" fill="none" stroke="#0000ff" stroke-width="4" stroke-linecap="butt" stroke-linejoin="round"/><rect x="413.59" y="258.32" width="4" height="4" fill="#0000ff"/><rect x="512.41" y="258.32" width="4" height="4" fill="#0000ff"/>
<path d="M418.87 271.17 L419.51 272.38 L420.15 273.58 L420.79 274.76 L421.43 275.93 L422.07 277.08 L422.71 278.23 L423.35 279.36 L423.99 280.47 L424.64 281.58 L425.28 282.67 L425.92 283.75 L426.56 284.81 L427.2 285.86 L427.84 286.9 L428.48 287.93 L429.12 288.94 L429.76 289.94 L430.4 290.92 L431.04 291.89 L431.68 292.85 L432.32 293.79 L432.96 294.72 L433.61 295.64 L434.25 296.54 L434.89 297.43 L435.53 298.31 L436.17 299.17 L436.81 300.01 L437.45 300.84 L438.09 301.66 L438.73 302.46 L439.37 303.25 L440.01 304.02 L440.65 304.78 L441.29 305.53 L441.93 306.26 L442.58 306.97 L443.22 307.67 L443.86 308.35 L444.5 309.02 L445.14 309.67 L445.78 310.31 L446.42 310.93 L447.06 311.54 L447.7 312.13 L448.34 312.7 L448.98 313.26 L449.62 313.8 L450.26 314.32 L450.9 314.83 L451.55 315.32 L452.19 315.79 L452.83 316.25 L453.47 316.69 L454.11 317.11 L454.75 317.51 L455.39 317.89 L456.03 318.26 L456.67 318.6 L457.31 318.93 L457.95 319.24 L458.59 319.52 L459.23 319.79 L459.87 320.03 L460.52 320.25 L461.16 320.45 L461.8 320.63 L462.44 320.78 L463.08 320.91 L463.72 321.01 L464.36 321.07 L465 321.1 L465.64 321.07 L466.28 321.01 L466.92 320.91 L467.56 320.78 L468.2 320.63 L468.84 320.45 L469.48 320.25 L470.13 320.03 L470.77 319.79 L471.41 319.52 L472.05 319.24 L472.69 318.93 L473.33 318.6 L473.97 318.26 L474.61 317.89 L475.25 317.51 L475.89 317.11 L476.53 316.69 L477.17 316.25 L477.81 315.79 L478.45 315.32 L479.1 314.83 L479.74 314.32 L480.38 313.8 L481.02 313.26 L481.66 312.7 L482.3 312.13 L482.94 311.54 L483.58 310.93 L484.22 310.31 L484.86 309.67 L485.5 309.02 L486.14 308.35 L486.78 307.67 L487.42 306.97 L488.07 306.26 L488.71 305.53 L489.35 304.78 L489.99 304.02 L490.63 303.25 L491.27 302.46 L491.91 301.66 L492.55 300.84 L493.19 300.01 L493.83 299.17 L494.47 298.31 L495.11 297.43 L495.75 296.54 L496.39 295.64 L497.04 294.72 L497.68 293.79 L498.32 292.85 L498.96 291.89 L499.6 290.92 L500.24 289.94 L500.88 288.94 L501.52 287.93 L502.16 286.9 L502.8 285.86 L503.44 284.81 L504.08 283.75 L504.72 282.67 L505.36 281.58 L506.01 280.47 L506.65 279.36 L507.29 278.23 L507.93 277.08 L508.57 275.93 L509.21 274.76 L509.85 273.58 L510.49 272.38 L511.13 271.17" fill="none" stroke="#00ffff" stroke-width="4" stroke-linecap="butt" stroke-linejoin="round"/><rect x="416.87" y="269.17" width="4" height="4" fill="#00ffff"/><rect x="509.13" y="269.17" width="4" height="4" fill="#00ffff"/>
<path d="M422.45 280.18 L423.04 281.16 L423.63 282.14 L424.23 283.11 L424.82 284.07 L425.41 285.02 L426 285.96 L426.59 286.88 L427.18 287.8 L427.77 288.7 L428.36 289.6 L428.95 290.48 L429.54 291.35 L430.13 292.22 L430.73 293.07 L431.32 293.91 L431.91 294.74 L432.5 295.56 L433.09 296.36 L433.68 297.16 L434.27 297.94 L434.86 298.72 L435.45 299.48 L436.04 300.23 L436.63 300.97 L437.23 301.7 L437.82 302.42 L438.41 303.12 L439 303.81 L439.59 304.5 L440.18 305.17 L440.77 305.82 L441.36 306.47 L441.95 307.1 L442.54 307.73 L443.14 308.34 L443.73 308.93 L444.32 309.52 L444.91 310.09 L445.5 310.65 L446.09 311.2 L446.68 311.73 L447.27 312.26 L447.86 312.77 L448.45 313.26 L449.04 313.75 L449.64 314.22 L450.23 314.67 L450.82 315.12 L451.41 315.55 L452 315.96 L452.59 316.36 L453.18 316.75 L453.77 317.12 L454.36 317.48 L454.95 317.83 L455.55 318.16 L456.14 318.47 L456.73 318.77 L457.32 319.05 L457.91 319.32 L458.5 319.57 L459.09 319.81 L459.68 320.02 L460.27 320.22 L460.86 320.41 L461.45 320.57 L462.05 320.72 L462.64 320.84 L463.23 320.94 L463.82 321.02 L464.41 321.08 L465 321.1 L465.59 321.08 L466.18 321.02 L466.77 320.94 L467.36 320.84 L467.95 320.72 L468.55 320.57 L469.14 320.41 L469.73 320.22 L470.32 320.02 L470.91 319.81 L471.5 319.57 L472.09 319.32 L472.68 319.05 L473.27 318.77 L473.86 318.47 L474.45 318.16 L475.05 317.83 L475.64 317.48 L476.23 317.12 L476.82 316.75 L477.41 316.36 L478 315.96 L478.59 315.55 L479.18 315.12 L479.77 314.67 L480.36 314.22 L480.96 313.75 L481.55 313.26 L482.14 312.77 L482.73 312.26 L483.32 311.73 L483.91 311.2 L484.5 310.65 L485.09 310.09 L485.68 309.52 L486.27 308.93 L486.86 308.34 L487.46 307.73 L488.05 307.1 L488.64 306.47 L489.23 305.82 L489.82 305.17 L490.41 304.5 L491 303.81 L491.59 303.12 L492.18 302.42 L492.77 301.7 L493.37 300.97 L493.96 300.23 L494.55 299.48 L495.14 298.72 L495.73 297.94 L496.32 297.16 L496.91 296.36 L497.5 295.56 L498.09 294.74 L498.68 293.91 L499.27 293.07 L499.87 292.22 L500.46 291.35 L501.05 290.48 L501.64 289.6 L502.23 288.7 L502.82 287.8 L503.41 286.88 L504 285.96 L504.59 285.02 L505.18 284.07 L505.77 283.11 L506.37 282.14 L506.96 281.16 L507.55 280.18" fill="none" stroke="#ff00ff" stroke-width="4" stroke-linecap="butt" stroke-linejoin="round"/><rect x="420.45" y="278.18" width="4" height="4" fill="#ff00ff"/><rect x="505.55" y="278.18" width="4" height="4" fill="#ff00ff"/>
<path d="M425.05 286.67 L425.6 287.5 L426.15 288.33 L426.71 289.14 L427.26 289.95 L427.82 290.75 L428.37 291.53 L428.93 292.31 L429.48 293.08 L430.04 293.85 L430.59 294.6 L431.15 295.34 L431.7 296.08 L432.26 296.8 L432.81 297.52 L433.37 298.22 L433.92 298.92 L434.48 299.61 L435.03 300.29 L435.59 300.96 L436.14 301.62 L436.7 302.27 L437.25 302.91 L437.81 303.54 L438.36 304.17 L438.92 304.78 L439.47 305.38 L440.03 305.97 L440.58 306.56 L441.14 307.13 L441.69 307.69 L442.25 308.25 L442.8 308.79 L443.36 309.33 L443.91 309.85 L444.47 310.36 L445.02 310.86 L445.58 311.36 L446.13 311.84 L446.69 312.31 L447.24 312.77 L447.8 313.22 L448.35 313.66 L448.91 314.09 L449.46 314.51 L450.02 314.91 L450.57 315.31 L451.13 315.69 L451.68 316.07 L452.24 316.43 L452.79 316.78 L453.35 317.11 L453.9 317.44 L454.46 317.75 L455.01 318.06 L455.57 318.35 L456.12 318.62 L456.68 318.89 L457.23 319.14 L457.79 319.38 L458.34 319.6 L458.9 319.81 L459.45 320.01 L460.01 320.2 L460.56 320.36 L461.12 320.52 L461.67 320.66 L462.23 320.78 L462.78 320.88 L463.34 320.97 L463.89 321.03 L464.45 321.08 L465 321.1 L465.55 321.08 L466.11 321.03 L466.66 320.97 L467.22 320.88 L467.77 320.78 L468.33 320.66 L468.88 320.52 L469.44 320.36 L469.99 320.2 L470.55 320.01 L471.1 319.81 L471.66 319.6 L472.21 319.38 L472.77 319.14 L473.32 318.89 L473.88 318.62 L474.43 318.35 L474.99 318.06 L475.54 317.75 L476.1 317.44 L476.65 317.11 L477.21 316.78 L477.76 316.43 L478.32 316.07 L478.87 315.69 L479.43 315.31 L479.98 314.91 L480.54 314.51 L481.09 314.09 L481.65 313.66 L482.2 313.22 L482.76 312.77 L483.31 312.31 L483.87 311.84 L484.42 311.36 L484.98 310.86 L485.53 310.36 L486.09 309.85 L486.64 309.33 L487.2 308.79 L487.75 308.25 L488.31 307.69 L488.86 307.13 L489.42 306.56 L489.97 305.97 L490.53 305.38 L491.08 304.78 L491.64 304.17 L492.19 303.54 L492.75 302.91 L493.3 302.27 L493.86 301.62 L494.41 300.96 L494.97 300.29 L495.52 299.61 L496.08 298.92 L496.63 298.22 L497.19 297.52 L497.74 296.8 L498.3 296.08 L498.85 295.34 L499.41 294.6 L499.96 293.85 L500.52 293.08 L501.07 292.31 L501.63 291.53 L502.18 290.75 L502.74 289.95 L503.29 289.14 L503.85 288.33 L504.4 287.5 L504.95 286.67" fill="none" stroke="#ffff00" stroke-width="4" stroke-linecap="butt" stroke-linejoin="round"/><rect x="423.05" y="284.67" width="4" height="4" fill="#ffff00"/><rect x="502.95" y="284.67" width="4" height="4" fill="#ffff00"/>
<path d="M430.54 299.01 L431.01 299.55 L431.49 300.08 L431.97 300.6 L432.45 301.12 L432.93 301.63 L433.41 302.13 L433.89 302.63 L434.36 303.13 L434.84 303.62 L435.32 304.1 L435.8 304.58 L436.28 305.05 L436.76 305.51 L437.24 305.97 L437.72 306.43 L438.19 306.87 L438.67 307.31 L439.15 307.75 L439.63 308.18 L440.11 308.6 L440.59 309.02 L441.07 309.43 L441.54 309.84 L442.02 310.24 L442.5 310.63 L442.98 311.02 L443.46 311.4 L443.94 311.77 L444.42 312.14 L444.9 312.5 L445.37 312.86 L445.85 313.2 L446.33 313.55 L446.81 313.88 L447.29 314.21 L447.77 314.53 L448.25 314.85 L448.72 315.16 L449.2 315.46 L449.68 315.76 L450.16 316.05 L450.64 316.33 L451.12 316.6 L451.6 316.87 L452.08 317.13 L452.55 317.38 L453.03 317.63 L453.51 317.87 L453.99 318.1 L454.47 318.33 L454.95 318.54 L455.43 318.75 L455.91 318.95 L456.38 319.15 L456.86 319.33 L457.34 319.51 L457.82 319.68 L458.3 319.84 L458.78 320 L459.26 320.14 L459.73 320.28 L460.21 320.4 L460.69 320.52 L461.17 320.63 L461.65 320.73 L462.13 320.81 L462.61 320.89 L463.09 320.96 L463.56 321.02 L464.04 321.06 L464.52 321.09 L465 321.1 L465.48 321.09 L465.96 321.06 L466.44 321.02 L466.91 320.96 L467.39 320.89 L467.87 320.81 L468.35 320.73 L468.83 320.63 L469.31 320.52 L469.79 320.4 L470.27 320.28 L470.74 320.14 L471.22 320 L471.7 319.84 L472.18 319.68 L472.66 319.51 L473.14 319.33 L473.62 319.15 L474.09 318.95 L474.57 318.75 L475.05 318.54 L475.53 318.33 L476.01 318.1 L476.49 317.87 L476.97 317.63 L477.45 317.38 L477.92 317.13 L478.4 316.87 L478.88 316.6 L479.36 316.33 L479.84 316.05 L480.32 315.76 L480.8 315.46 L481.28 315.16 L481.75 314.85 L482.23 314.53 L482.71 314.21 L483.19 313.88 L483.67 313.55 L484.15 313.2 L484.63 312.86 L485.1 312.5 L485.58 312.14 L486.06 311.77 L486.54 311.4 L487.02 311.02 L487.5 310.63 L487.98 310.24 L488.46 309.84 L488.93 309.43 L489.41 309.02 L489.89 308.6 L490.37 308.18 L490.85 307.75 L491.33 307.31 L491.81 306.87 L492.28 306.43 L492.76 305.97 L493.24 305.51 L493.72 305.05 L494.2 304.58 L494.68 304.1 L495.16 303.62 L495.64 303.13 L496.11 302.63 L496.59 302.13 L497.07 301.63 L497.55 301.12 L498.03 300.6 L498.51 300.08 L498.99 299.55 L499.46 299.01" fill="none" stroke="#808000" stroke-width="4" stroke-linecap="butt" stroke-linejoin="round"/><rect x="428.54" y="297.01" width="4" height="4" fill="#808000"/><rect x="497.46" y="297.01" width="4" height="4" fill="#808000"/>
<path d="M435.26 306.25 L435.68 306.61 L436.09 306.97 L436.5 307.32 L436.91 307.67 L437.33 308.01 L437.74 308.35 L438.15 308.69 L438.57 309.02 L438.98 309.35 L439.39 309.67 L439.81 309.99 L440.22 310.31 L440.63 310.62 L441.04 310.93 L441.46 311.23 L441.87 311.54 L442.28 311.83 L442.7 312.13 L443.11 312.41 L443.52 312.7 L443.94 312.98 L444.35 313.26 L444.76 313.53 L445.18 313.8 L445.59 314.06 L446 314.32 L446.41 314.58 L446.83 314.83 L447.24 315.08 L447.65 315.32 L448.07 315.56 L448.48 315.79 L448.89 316.02 L449.31 316.25 L449.72 316.47 L450.13 316.69 L450.54 316.9 L450.96 317.11 L451.37 317.31 L451.78 317.51 L452.2 317.7 L452.61 317.89 L453.02 318.08 L453.44 318.26 L453.85 318.43 L454.26 318.6 L454.67 318.77 L455.09 318.93 L455.5 319.08 L455.91 319.24 L456.33 319.38 L456.74 319.52 L457.15 319.66 L457.57 319.79 L457.98 319.91 L458.39 320.03 L458.8 320.15 L459.22 320.25 L459.63 320.36 L460.04 320.45 L460.46 320.55 L460.87 320.63 L461.28 320.71 L461.7 320.78 L462.11 320.85 L462.52 320.91 L462.93 320.96 L463.35 321.01 L463.76 321.04 L464.17 321.07 L464.59 321.09 L465 321.1 L465.41 321.09 L465.83 321.07 L466.24 321.04 L466.65 321.01 L467.07 320.96 L467.48 320.91 L467.89 320.85 L468.3 320.78 L468.72 320.71 L469.13 320.63 L469.54 320.55 L469.96 320.45 L470.37 320.36 L470.78 320.25 L471.2 320.15 L471.61 320.03 L472.02 319.91 L472.43 319.79 L472.85 319.66 L473.26 319.52 L473.67 319.38 L474.09 319.24 L474.5 319.08 L474.91 318.93 L475.33 318.77 L475.74 318.6 L476.15 318.43 L476.56 318.26 L476.98 318.08 L477.39 317.89 L477.8 317.7 L478.22 317.51 L478.63 317.31 L479.04 317.11 L479.46 316.9 L479.87 316.69 L480.28 316.47 L480.69 316.25 L481.11 316.02 L481.52 315.79 L481.93 315.56 L482.35 315.32 L482.76 315.08 L483.17 314.83 L483.59 314.58 L484 314.32 L484.41 314.06 L484.82 313.8 L485.24 313.53 L485.65 313.26 L486.06 312.98 L486.48 312.7 L486.89 312.41 L487.3 312.13 L487.72 311.83 L488.13 311.54 L488.54 311.23 L488.96 310.93 L489.37 310.62 L489.78 310.31 L490.19 309.99 L490.61 309.67 L491.02 309.35 L491.43 309.02 L491.85 308.69 L492.26 308.35 L492.67 308.01 L493.09 307.67 L493.5 307.32 L493.91 306.97 L494.32 306.61 L494.74 306.25" fill="none" stroke="#800080" stroke-width="4" stroke-linecap="butt" stroke-linejoin="round"/><rect x="433.26" y="304.25" width="4" height="4" fill="#800080"/><rect x="492.74" y="304.25" width="4" height="4" fill="#800080"/>
<path d="M439.23 313.68 L439.59 313.86 L439.94 314.03 L440.3 314.21 L440.66 314.38 L441.02 314.55 L441.38 314.72 L441.73 314.89 L442.09 315.06 L442.45 315.22 L442.81 315.39 L443.16 315.55 L443.52 315.7 L443.88 315.86 L444.24 316.01 L444.6 316.17 L444.95 316.32 L445.31 316.47 L445.67 316.61 L446.03 316.76 L446.39 316.9 L446.74 317.04 L447.1 317.18 L447.46 317.31 L447.82 317.45 L448.18 317.58 L448.53 317.71 L448.89 317.84 L449.25 317.96 L449.61 318.09 L449.97 318.21 L450.32 318.33 L450.68 318.45 L451.04 318.56 L451.4 318.67 L451.76 318.78 L452.11 318.89 L452.47 319 L452.83 319.1 L453.19 319.2 L453.55 319.3 L453.9 319.4 L454.26 319.5 L454.62 319.59 L454.98 319.68 L455.34 319.77 L455.69 319.85 L456.05 319.93 L456.41 320.01 L456.77 320.09 L457.13 320.17 L457.48 320.24 L457.84 320.31 L458.2 320.38 L458.56 320.44 L458.91 320.51 L459.27 320.57 L459.63 320.62 L459.99 320.68 L460.35 320.73 L460.7 320.78 L461.06 320.82 L461.42 320.87 L461.78 320.9 L462.14 320.94 L462.49 320.97 L462.85 321 L463.21 321.03 L463.57 321.05 L463.93 321.07 L464.28 321.09 L464.64 321.1 L465 321.1 L465.36 321.1 L465.72 321.09 L466.07 321.07 L466.43 321.05 L466.79 321.03 L467.15 321 L467.51 320.97 L467.86 320.94 L468.22 320.9 L468.58 320.87 L468.94 320.82 L469.3 320.78 L469.65 320.73 L470.01 320.68 L470.37 320.62 L470.73 320.57 L471.09 320.51 L471.44 320.44 L471.8 320.38 L472.16 320.31 L472.52 320.24 L472.87 320.17 L473.23 320.09 L473.59 320.01 L473.95 319.93 L474.31 319.85 L474.66 319.77 L475.02 319.68 L475.38 319.59 L475.74 319.5 L476.1 319.4 L476.45 319.3 L476.81 319.2 L477.17 319.1 L477.53 319 L477.89 318.89 L478.24 318.78 L478.6 318.67 L478.96 318.56 L479.32 318.45 L479.68 318.33 L480.03 318.21 L480.39 318.09 L480.75 317.96 L481.11 317.84 L481.47 317.71 L481.82 317.58 L482.18 317.45 L482.54 317.31 L482.9 317.18 L483.26 317.04 L483.61 316.9 L483.97 316.76 L484.33 316.61 L484.69 316.47 L485.05 316.32 L485.4 316.17 L485.76 316.01 L486.12 315.86 L486.48 315.7 L486.84 315.55 L487.19 315.39 L487.55 315.22 L487.91 315.06 L488.27 314.89 L488.62 314.72 L488.98 314.55 L489.34 314.38 L489.7 314.21 L490.06 314.03 L490.41 313.86 L490.77 313.68" fill="none" stroke="#008000" stroke-width="4" stroke-linecap="butt" stroke-linejoin="round"/><rect x="437.23" y="311.68" width="4" height="4" fill="#008000"/><rect x="488.77" y="311.68" width="4" height="4" fill="#008000"/>
<path d="M419.25 326.8 V324.3 M419.25 242 V244.5 M434.5 326.8 V324.3 M434.5 242 V244.5 M449.75 326.8 V324.3 M449.75 242 V244.5 M465 326.8 V324.3 M465 242 V244.5 M480.25 326.8 V324.3 M480.25 242 V244.5 M495.5 326.8 V324.3 M495.5 242 V244.5 M510.75 326.8 V324.3 M510.75 242 V244.5 M411.62 326.8 V325.3 M411.62 242 V243.5 M426.88 326.8 V325.3 M426.88 242 V243.5 M442.12 326.8 V325.3 M442.12 242 V243.5 M457.38 326.8 V325.3 M457.38 242 V243.5 M472.62 326.8 V325.3 M472.62 242 V243.5 M487.88 326.8 V325.3 M487.88 242 V243.5 M503.12 326.8 V325.3 M503.12 242 V243.5 M518.38 326.8 V325.3 M518.38 242 V243.5 M407.9 321.1 H410.4 M522.8 321.1 H520.3 M407.9 302.54 H410.4 M522.8 302.54 H520.3 M407.9 283.98 H410.4 M522.8 283.98 H520.3 M407.9 265.42 H410.4 M522.8 265.42 H520.3 M407.9 246.86 H410.4 M522.8 246.86 H520.3 M407.9 311.82 H409.4 M522.8 311.82 H521.3 M407.9 293.26 H409.4 M522.8 293.26 H521.3 M407.9 274.7 H409.4 M522.8 274.7 H521.3 M407.9 256.14 H409.4 M522.8 256.14 H521.3" stroke="#444" stroke-width="0.9" fill="none"/>
<rect x="407.9" y="242" width="114.9" height="84.8" fill="none" stroke="#555" stroke-width="0.85"/>
<text x="419.25" y="333.8" font-size="6.4" text-anchor="middle" fill="#222" stroke="#222" stroke-width="0.05">-6</text>
<text x="434.5" y="333.8" font-size="6.4" text-anchor="middle" fill="#222" stroke="#222" stroke-width="0.05">-4</text>
<text x="449.75" y="333.8" font-size="6.4" text-anchor="middle" fill="#222" stroke="#222" stroke-width="0.05">-2</text>
<text x="465" y="333.8" font-size="6.4" text-anchor="middle" fill="#222" stroke="#222" stroke-width="0.05">0</text>
<text x="480.25" y="333.8" font-size="6.4" text-anchor="middle" fill="#222" stroke="#222" stroke-width="0.05">2</text>
<text x="495.5" y="333.8" font-size="6.4" text-anchor="middle" fill="#222" stroke="#222" stroke-width="0.05">4</text>
<text x="510.75" y="333.8" font-size="6.4" text-anchor="middle" fill="#222" stroke="#222" stroke-width="0.05">6</text>
<text x="405.6" y="323.4" font-size="6.4" text-anchor="end" fill="#222" stroke="#222" stroke-width="0.05">0</text>
<text x="405.6" y="304.84" font-size="6.4" text-anchor="end" fill="#222" stroke="#222" stroke-width="0.05">2</text>
<text x="405.6" y="286.28" font-size="6.4" text-anchor="end" fill="#222" stroke="#222" stroke-width="0.05">4</text>
<text x="405.6" y="267.72" font-size="6.4" text-anchor="end" fill="#222" stroke="#222" stroke-width="0.05">6</text>
<text x="405.6" y="249.16" font-size="6.4" text-anchor="end" fill="#222" stroke="#222" stroke-width="0.05">8</text>
<text x="398" y="289.4" font-size="6.8" text-anchor="middle" fill="#222" stroke="#222" stroke-width="0.05" transform="rotate(-90 398 289.4)">MR (%)</text>
<text x="465" y="344.6" font-size="6.1" text-anchor="middle" fill="#222">B/&#961;<tspan font-size="4" dy="1.5">0</tspan><tspan dy="-1.5"> (10</tspan><tspan font-size="4" dy="-2.5">8</tspan><tspan dy="2.5"> T/&#937;m)</tspan></text>
</svg>
</body></html>
